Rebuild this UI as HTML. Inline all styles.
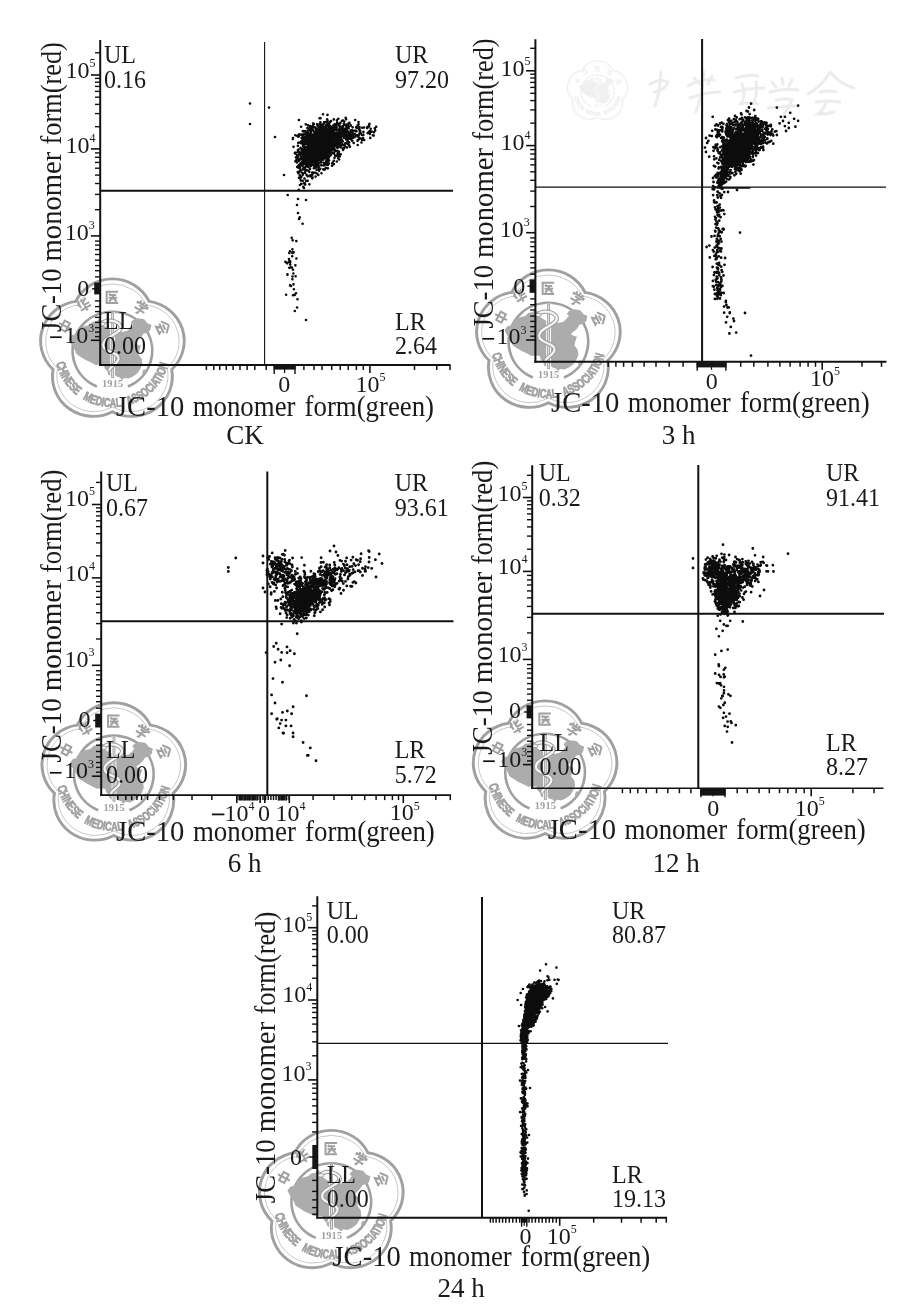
<!DOCTYPE html>
<html><head><meta charset="utf-8"><title>JC-10 flow cytometry</title>
<style>html,body{margin:0;padding:0;background:#fff}svg{display:block}text{font-family:"Liberation Serif",serif;fill:#1a1a1a}</style></head><body>
<svg width="908" height="1310" viewBox="0 0 908 1310" style="will-change:transform">
<rect width="908" height="1310" fill="#fff"/>
<defs><g id="seal" fill="none" stroke="#a0a0a0" stroke-linecap="butt">
<path d="M35.56 -48.95 A39.54 39.54 0 0 0 -35.56 -48.95 A39.54 39.54 0 0 0 -57.54 18.70 A39.54 39.54 0 0 0 -0.00 60.50 A39.54 39.54 0 0 0 57.54 18.70 A39.54 39.54 0 0 0 35.56 -48.95Z" stroke-width="2.85"/>
<path d="M32.92 -45.30 A36.37 36.37 0 0 0 -32.92 -45.30 A36.37 36.37 0 0 0 -53.26 17.30 A36.37 36.37 0 0 0 -0.00 56.00 A36.37 36.37 0 0 0 53.26 17.30 A36.37 36.37 0 0 0 32.92 -45.30Z" stroke-width="0.9" stroke="#c2c2c2"/>
<path d="M-15.08 35.53 A38.6 38.6 0 1 1 15.08 35.53" stroke-width="2.6"/>
<path d="M-42.6 -11.5 L-39.6 -15.3 L-35.6 -16.4 L-33.3 -21.1 L-28.0 -24.1 L-22.7 -25.6 L-19.2 -28.7 L-15.3 -29.1 L-12.9 -31.9 L-9.7 -29.1 L-8.3 -24.7 L-3.9 -21.7 L1.4 -19.4 L9.3 -18.5 L14.6 -19.9 L17.8 -22.9 L19.9 -25.9 L17.8 -27.7 L19.9 -30.5 L25.2 -32.2 L30.8 -31.2 L34.0 -27.3 L37.9 -25.6 L36.7 -20.3 L33.1 -17.6 L30.1 -16.7 L27.8 -12.9 L24.8 -10.0 L21.7 -7.9 L24.3 -5.8 L27.7 -4.8 L26.3 -0.9 L25.2 3.5 L28.4 7.9 L29.1 13.2 L27.0 18.1 L24.3 22.4 L19.9 25.6 L15.5 27.7 L11.5 27.0 L9.3 29.1 L7.2 26.6 L4.1 25.6 L0.9 22.9 L-1.2 25.2 L-3.9 23.8 L-4.8 20.3 L-7.4 17.6 L-8.3 14.1 L-12.2 13.6 L-16.2 14.1 L-20.6 11.8 L-25.9 9.3 L-30.8 6.2 L-34.7 3.5 L-36.5 -0.9 L-38.6 -4.4 L-40.4 -7.0Z" fill="#acacac" stroke="none"/>
<ellipse cx="30.5" cy="21" rx="1.3" ry="2.6" fill="#acacac" stroke="none" transform="rotate(20 30.5 21)"/>
<path d="M0.2 -38 V27" stroke="#fff" stroke-width="4.6"/>
<path d="M0.2 -38 V27" stroke="#a0a0a0" stroke-width="2.8"/>
<path d="M0.2 -37 V26" stroke="#e4e4e4" stroke-width="1.0"/>
<path d="M-10 -27 C-6 -32 6 -30 8 -24 C10 -17 -9 -14 -9 -6 C-9 2 7 1 6 8 C5 14 -3 15 -3 20" stroke="#9a9a9a" stroke-width="4.2"/>
<path d="M-10 -27 C-6 -32 6 -30 8 -24 C10 -17 -9 -14 -9 -6 C-9 2 7 1 6 8 C5 14 -3 15 -3 20" stroke="#f4f4f4" stroke-width="2.2"/>
<ellipse cx="-10" cy="-26.5" rx="3" ry="1.8" fill="#f0f0f0" stroke="#9a9a9a" stroke-width="0.9"/>
<path d="M-5 -3 H5 V3 H-5 Z M0 -7 V7" stroke-width="2.1" transform="translate(-45.9 -24.4) rotate(-62) scale(0.93)"/>
<path d="M-3 -7 L-6 -2 M-4.5 -4 V1 M0 -7 V-1 Q0 0 2 0 H6 M5 -6 L0 -3 M-6 3.5 H6 M0 1 V7" stroke-width="2.1" transform="translate(-27.3 -45.4) rotate(-31) scale(0.93)"/>
<path d="M6 -6 H-6 V6 H6 M-2 -4 L-3.5 -2 M-3 -2.5 H4 M-4 0.5 H5 M0.5 -2.5 V0.5 L-3.5 4.5 M1 1 L4.5 4.5" stroke-width="2.1" transform="translate(0.0 -53.0) rotate(0) scale(0.93)"/>
<path d="M-4 -7 L-3 -5 M0 -7.5 L0 -5 M4 -7 L3 -5 M-6 -2 V-4 H6 V-2 M-3 -1.5 H3 L0 1 M-6 2.5 H6 M0 1 V6 Q0 7 -2 6.5" stroke-width="2.1" transform="translate(27.5 -42.4) rotate(33) scale(0.93)"/>
<path d="M0 -7 L-7 -1 M0 -7 L7 -1 M-3 -1.5 H3 M-5.5 1.5 H5.5 M-1 1.5 L-4 6 H4.5 M2.5 3.5 L5 7" stroke-width="2.1" transform="translate(48.9 -22.8) rotate(65) scale(0.93)"/>
<path id="sealarc" d="M-54.67 12.12 A56.0 56.0 0 0 0 54.67 12.12" stroke="none"/>
<text style="font-family:Liberation Sans,sans-serif;font-weight:bold;font-size:12.5px;word-spacing:6px;fill:#a0a0a0;stroke:#a0a0a0;stroke-width:0.7px" textLength="150.5" lengthAdjust="spacingAndGlyphs"><textPath href="#sealarc" textLength="150.5" lengthAdjust="spacingAndGlyphs">CHINESE MEDICAL ASSOCIATION</textPath></text>
<text x="0.3" y="36.2" text-anchor="middle" style="font-family:Liberation Serif,serif;font-weight:bold;font-size:10px;fill:#a0a0a0" stroke="none" letter-spacing="0.2">1915</text>
</g></defs>
<g opacity="0.17"><use href="#seal" transform="translate(597.5 91.5) scale(0.43)"/></g>
<g fill="none" stroke="#ececec" stroke-width="3" stroke-linecap="round">
<path d="M650 84 q10 -6 18 -2 q-2 8 -14 10 M661 72 q-1 20 -6 34"/>
<path d="M688 86 q14 -8 26 -6 M690 98 q16 -6 30 -6 M704 72 q-2 24 -8 40 M694 78 l6 6 M712 76 l-4 8"/>
<path d="M736 78 q12 -4 22 -2 M734 92 q14 -4 30 -4 M742 84 q4 10 0 18 M756 82 q2 10 -2 20 M740 104 q10 -2 18 0"/>
<path d="M772 82 l4 5 M782 78 l1 6 M792 80 l-3 6 M770 92 q14 -4 28 -2 M776 100 q10 -2 16 0 q-4 8 -8 14 M768 108 q16 -2 30 -2"/>
<path d="M830 72 q-8 14 -22 22 M830 72 q10 12 24 16 M820 92 q8 -2 16 0 M816 102 q10 -2 24 0 M826 102 q-2 8 -8 12 q10 0 16 -2"/>
</g>
<use href="#seal" transform="translate(112.4 350.7) scale(1.031 1.008)"/>
<use href="#seal" transform="translate(548.4 341.7) scale(1.031 1.008)"/>
<use href="#seal" transform="translate(113.8 774.5) scale(1.031 1.008)"/>
<use href="#seal" transform="translate(545.1 772.6) scale(1.031 1.008)"/>
<use href="#seal" transform="translate(331.3 1202.1) scale(1.031 1.008)"/>
<g>
<path d="M320.5 149.8h0M315.0 139.8h0M316.0 137.3h0M327.0 156.8h0M318.9 139.1h0M316.4 155.2h0M311.2 143.4h0M323.5 151.9h0M327.9 131.3h0M327.5 120.5h0M334.0 127.5h0M332.1 136.5h0M315.8 148.5h0M338.3 118.7h0M319.7 148.2h0M329.5 129.3h0M322.1 133.0h0M303.2 154.1h0M324.8 153.0h0M323.2 141.3h0M317.9 149.5h0M330.4 135.8h0M295.4 152.7h0M311.3 157.6h0M338.0 153.5h0M303.3 148.6h0M321.7 152.3h0M324.9 150.2h0M323.6 151.4h0M300.5 158.8h0M313.5 147.3h0M309.3 142.1h0M322.6 140.8h0M317.9 164.3h0M325.4 129.5h0M299.0 142.6h0M322.2 142.6h0M311.5 165.2h0M319.1 142.4h0M331.1 154.7h0M320.4 141.7h0M314.4 150.9h0M312.8 139.2h0M315.6 145.2h0M312.1 164.0h0M323.2 151.8h0M328.8 150.9h0M322.5 151.5h0M332.9 136.7h0M320.5 118.2h0M315.3 139.4h0M332.1 163.3h0M322.0 135.6h0M319.9 153.1h0M318.7 144.9h0M315.5 158.4h0M327.6 136.8h0M311.0 142.0h0M310.3 145.5h0M310.8 159.2h0M313.7 145.3h0M306.1 134.6h0M331.5 138.5h0M344.0 131.1h0M339.9 134.5h0M331.6 144.0h0M306.9 140.0h0M316.6 169.7h0M317.3 145.7h0M313.4 140.4h0M304.6 156.1h0M313.6 142.6h0M315.7 133.8h0M305.8 160.1h0M309.6 158.1h0M322.8 138.8h0M323.8 142.3h0M320.0 142.3h0M325.9 128.8h0M298.6 161.0h0M330.6 139.1h0M295.6 153.7h0M316.2 142.0h0M339.9 134.2h0M319.2 148.2h0M328.6 143.0h0M322.6 141.6h0M320.6 129.1h0M302.6 158.7h0M315.6 150.8h0M319.2 140.3h0M310.6 152.7h0M320.1 146.6h0M312.2 164.3h0M311.1 148.5h0M337.8 139.5h0M308.6 157.1h0M318.7 158.4h0M317.0 162.2h0M333.0 152.5h0M335.9 140.3h0M319.8 158.4h0M311.0 176.5h0M317.7 125.9h0M304.0 150.3h0M324.3 153.0h0M319.5 118.2h0M316.4 151.0h0M321.0 145.7h0M316.3 129.9h0M313.5 140.4h0M337.2 134.1h0M321.8 149.8h0M323.3 133.8h0M321.8 132.3h0M311.4 145.3h0M317.5 153.7h0M309.6 156.6h0M308.8 139.0h0M327.8 147.8h0M319.8 147.6h0M329.0 152.0h0M303.8 134.4h0M311.6 128.9h0M306.4 162.1h0M323.1 130.2h0M309.0 160.7h0M317.7 148.2h0M323.6 153.3h0M314.8 155.0h0M331.7 140.3h0M332.3 147.6h0M329.4 134.0h0M309.6 139.9h0M312.3 174.7h0M328.0 147.9h0M297.3 136.0h0M315.8 150.2h0M310.4 142.3h0M319.8 144.1h0M309.7 162.3h0M328.9 157.2h0M321.0 139.9h0M346.0 138.7h0M315.7 163.6h0M313.0 155.6h0M314.8 148.7h0M320.8 146.2h0M308.2 167.0h0M315.1 143.9h0M335.2 151.2h0M314.2 153.7h0M314.2 137.7h0M325.0 152.6h0M320.6 142.6h0M321.3 146.4h0M331.7 130.1h0M332.4 144.5h0M329.6 143.5h0M302.2 161.9h0M325.4 142.9h0M311.8 141.9h0M327.8 165.0h0M319.5 144.1h0M330.4 139.1h0M322.6 128.4h0M300.5 155.7h0M318.7 168.5h0M319.8 154.0h0M299.0 167.0h0M314.9 133.6h0M328.1 157.4h0M303.2 152.2h0M323.1 136.1h0M314.4 149.8h0M318.5 152.0h0M321.0 144.7h0M316.0 149.6h0M326.5 164.6h0M313.4 154.5h0M336.8 132.9h0M327.1 119.3h0M315.3 161.1h0M308.3 136.1h0M317.4 140.0h0M327.8 168.3h0M311.2 145.5h0M329.0 135.5h0M312.4 139.2h0M309.6 142.2h0M315.3 166.0h0M305.2 156.3h0M312.8 152.5h0M319.8 141.9h0M320.8 125.8h0M309.8 155.1h0M323.3 156.3h0M329.3 125.3h0M319.5 152.2h0M329.0 150.4h0M308.3 142.8h0M332.6 143.3h0M301.3 141.3h0M310.0 165.6h0M303.4 159.6h0M313.6 138.1h0M299.4 160.5h0M305.7 139.5h0M328.7 150.0h0M337.4 141.6h0M308.3 145.1h0M320.1 140.0h0M315.3 144.2h0M324.1 137.6h0M319.3 129.5h0M324.9 152.9h0M332.8 132.2h0M317.9 135.3h0M307.1 153.7h0M299.3 158.8h0M313.4 150.6h0M329.5 143.8h0M324.0 150.1h0M311.6 140.9h0M319.8 147.3h0M303.5 152.4h0M307.2 137.1h0M305.1 148.2h0M334.9 128.9h0M297.9 150.2h0M323.6 132.2h0M331.6 138.6h0M321.1 135.3h0M308.0 149.4h0M307.9 146.6h0M317.4 124.3h0M299.0 165.3h0M316.0 150.3h0M317.3 150.0h0M326.2 125.7h0M336.0 138.7h0M304.4 150.6h0M329.0 131.5h0M306.3 146.9h0M301.5 152.2h0M311.0 135.9h0M337.0 146.3h0M308.2 154.0h0M313.8 127.5h0M322.0 143.7h0M318.6 146.6h0M328.5 136.0h0M327.6 155.4h0M300.2 166.5h0M325.2 139.7h0M319.1 137.2h0M312.0 141.1h0M312.2 153.6h0M314.9 149.5h0M318.9 134.7h0M317.0 142.2h0M316.3 150.4h0M331.6 134.3h0M326.8 130.4h0M307.2 132.3h0M318.7 149.9h0M317.1 143.8h0M315.4 138.2h0M317.3 141.9h0M309.5 141.6h0M317.3 151.3h0M316.8 143.9h0M302.1 143.6h0M315.9 154.2h0M318.5 153.3h0M322.8 139.7h0M315.5 157.2h0M306.3 140.9h0M321.4 160.7h0M310.7 159.9h0M339.4 137.6h0M302.8 131.1h0M304.9 142.8h0M326.3 130.7h0M304.2 158.9h0M327.8 161.4h0M303.0 163.9h0M312.2 137.8h0M327.8 143.4h0M315.6 152.8h0M304.0 153.6h0M324.0 151.9h0M320.3 160.6h0M312.7 150.2h0M308.4 145.7h0M337.7 134.6h0M321.1 149.3h0M331.8 128.2h0M318.2 136.5h0M337.2 122.6h0M312.7 159.6h0M324.0 141.7h0M292.8 139.1h0M323.3 150.0h0M323.6 165.4h0M310.1 161.6h0M321.0 155.9h0M323.2 142.2h0M323.3 169.3h0M319.7 146.1h0M325.7 158.2h0M328.7 156.6h0M326.2 136.9h0M325.7 150.7h0M298.6 149.6h0M329.3 140.6h0M314.3 131.9h0M312.2 161.7h0M310.7 150.2h0M307.3 157.2h0M302.1 153.8h0M327.8 140.4h0M329.6 144.8h0M309.8 145.1h0M315.4 146.6h0M305.7 153.6h0M330.8 150.8h0M319.4 150.0h0M303.4 163.1h0M328.4 138.6h0M308.7 147.6h0M324.1 122.2h0M307.2 150.3h0M321.3 147.8h0M310.5 152.4h0M307.8 147.8h0M314.9 138.0h0M307.8 159.5h0M323.0 138.2h0M325.3 150.0h0M326.3 125.2h0M339.1 159.5h0M308.9 157.2h0M325.8 167.9h0M318.2 143.4h0M310.6 163.5h0M308.8 151.9h0M312.2 178.3h0M317.9 158.0h0M341.7 130.9h0M323.2 148.6h0M309.8 153.0h0M336.7 132.7h0M323.2 138.3h0M321.8 139.7h0M348.2 131.5h0M323.7 157.4h0M300.2 168.6h0M329.2 123.9h0M326.3 132.5h0M304.2 136.7h0M305.1 142.4h0M315.0 150.4h0M320.9 144.3h0M319.4 138.7h0M334.0 130.4h0M311.0 166.0h0M334.5 149.8h0M318.6 147.0h0M321.8 145.5h0M322.0 143.0h0M326.1 134.5h0M324.3 148.8h0M304.4 148.6h0M326.6 151.4h0M316.8 151.5h0M299.5 160.0h0M314.2 145.7h0M321.2 137.8h0M316.4 158.6h0M294.9 152.9h0M309.5 154.0h0M328.3 144.4h0M313.0 125.9h0M311.8 135.1h0M327.0 143.5h0M326.3 160.9h0M310.0 136.6h0M319.3 134.6h0M332.8 138.0h0M311.1 129.3h0M311.3 154.5h0M315.9 152.3h0M312.9 154.8h0M309.9 163.4h0M317.6 154.5h0M330.9 131.9h0M322.3 146.6h0M342.2 143.9h0M309.3 141.7h0M332.5 128.6h0M314.5 142.7h0M313.3 145.1h0M308.5 149.3h0M325.5 153.6h0M317.1 138.1h0M303.4 149.1h0M322.8 142.8h0M321.1 132.1h0M308.7 130.3h0M329.2 130.5h0M315.9 148.4h0M331.9 126.8h0M314.8 159.6h0M313.2 141.8h0M308.7 151.0h0M324.0 131.0h0M306.5 164.3h0M304.5 157.1h0M305.7 154.1h0M336.8 161.5h0M308.0 152.9h0M321.5 149.1h0M303.9 157.6h0M332.8 128.3h0M319.1 148.8h0M308.4 163.5h0M303.5 149.7h0M324.6 169.7h0M313.0 157.5h0M329.1 160.5h0M326.4 137.7h0M319.2 157.3h0M324.6 145.3h0M321.9 145.9h0M312.0 139.7h0M324.6 153.1h0M325.9 136.5h0M305.1 148.4h0M309.6 143.4h0M298.2 167.6h0M312.4 156.4h0M328.0 158.5h0M337.9 140.8h0M328.5 156.1h0M312.2 145.8h0M320.9 155.3h0M321.5 151.3h0M308.9 129.6h0M314.9 161.6h0M317.6 149.9h0M305.8 155.9h0M323.8 139.5h0M298.1 151.9h0M303.1 156.4h0M337.3 144.3h0M310.6 139.1h0M328.1 149.9h0M304.5 157.7h0M319.5 156.5h0M326.9 143.5h0M315.2 144.4h0M323.5 143.3h0M314.4 144.9h0M330.0 150.4h0M322.5 155.6h0M311.3 164.0h0M308.8 154.4h0M312.7 177.5h0M330.1 121.9h0M317.7 159.7h0M311.2 155.2h0M318.7 156.7h0M326.2 153.4h0M343.8 128.5h0M334.6 143.1h0M314.6 140.2h0M308.9 146.3h0M316.4 129.0h0M322.1 150.7h0M308.0 157.7h0M308.9 159.0h0M323.2 150.5h0M306.3 156.9h0M319.7 144.5h0M311.6 143.4h0M306.2 156.2h0M308.6 147.8h0M317.8 154.1h0M336.1 155.9h0M327.1 162.6h0M305.1 153.9h0M325.0 146.7h0M318.3 148.9h0M308.9 134.0h0M305.6 132.2h0M310.1 147.4h0M323.7 139.3h0M306.3 142.1h0M327.6 123.4h0M331.0 121.0h0M296.6 158.0h0M303.2 146.4h0M313.6 149.2h0M322.9 150.8h0M303.5 167.4h0M310.8 143.4h0M311.4 152.5h0M310.5 156.3h0M327.2 150.3h0M316.4 139.6h0M311.6 136.9h0M333.9 164.1h0M300.4 153.1h0M323.9 136.5h0M303.6 153.4h0M330.9 146.2h0M307.9 154.7h0M318.4 127.0h0M309.9 127.2h0M307.3 151.9h0M326.6 164.3h0M299.8 153.1h0M318.2 164.0h0M319.0 134.5h0M308.7 137.1h0M327.0 134.9h0M321.7 146.7h0M314.5 149.5h0M293.5 146.8h0M313.7 143.7h0M318.8 150.7h0M322.7 134.7h0M313.5 158.3h0M338.6 153.4h0M312.7 157.5h0M316.8 142.6h0M316.8 142.5h0M308.9 153.3h0M314.5 136.1h0M312.9 142.1h0M327.2 152.5h0M318.5 154.9h0M315.6 152.0h0M317.6 144.8h0M304.1 149.3h0M306.3 162.1h0M322.2 137.3h0M325.9 142.0h0M332.9 147.5h0M310.4 126.1h0M311.7 128.2h0M326.0 154.0h0M303.4 146.6h0M337.6 150.9h0M315.6 151.3h0M307.4 162.3h0M319.4 155.4h0M317.0 135.2h0M311.6 142.8h0M319.7 147.9h0M318.5 145.7h0M321.5 158.9h0M317.5 137.9h0M327.5 125.4h0M313.8 153.8h0M325.4 135.2h0M321.6 151.4h0M322.3 140.3h0M327.6 122.2h0M323.1 145.8h0M316.5 139.2h0M319.0 147.3h0M306.6 135.7h0M314.1 141.3h0M325.1 143.7h0M318.6 160.1h0M329.4 148.5h0M315.3 167.1h0M304.6 161.5h0M325.7 151.2h0M332.6 135.1h0M320.9 140.3h0M328.7 124.6h0M324.7 153.2h0M308.7 157.8h0M314.6 141.0h0M313.1 150.7h0M324.7 164.9h0M308.7 138.6h0M316.7 130.2h0M338.5 143.5h0M306.1 141.1h0M320.9 162.4h0M317.3 140.2h0M323.6 146.2h0M320.5 161.8h0M315.2 167.7h0M310.3 166.1h0M331.9 131.4h0M313.0 148.9h0M307.6 155.2h0M336.9 147.2h0M313.8 156.2h0M317.1 164.0h0M298.7 136.6h0M321.7 138.2h0M329.0 139.0h0M304.1 157.4h0M342.8 148.6h0M314.4 135.8h0M319.2 153.0h0M330.4 145.5h0M316.8 137.3h0M322.0 154.5h0M326.6 143.5h0M334.4 149.1h0M318.1 146.7h0M317.8 160.9h0M308.9 163.1h0M320.5 138.5h0M317.7 156.8h0M308.3 165.0h0M318.9 168.2h0M306.9 140.7h0M319.8 127.1h0M298.0 159.3h0M311.0 164.3h0M309.3 171.8h0M318.1 145.7h0M318.9 149.9h0M323.2 142.3h0M310.0 145.2h0M322.4 155.0h0M324.3 152.1h0M340.8 138.3h0M328.3 145.5h0M299.3 134.2h0M327.0 141.5h0M306.0 165.8h0M306.6 142.1h0M317.4 173.8h0M316.7 147.0h0M339.5 136.6h0M310.4 164.4h0M336.7 145.9h0M328.6 133.9h0M321.9 156.3h0M317.2 154.7h0M316.9 132.3h0M313.1 144.3h0M322.1 126.8h0M310.5 131.7h0M320.0 124.1h0M319.6 152.4h0M331.0 146.5h0M318.3 143.8h0M300.3 163.6h0M320.4 128.0h0M317.4 153.3h0M324.6 127.8h0M317.4 157.0h0M328.7 145.1h0M301.1 143.1h0M324.2 147.3h0M309.4 129.1h0M326.2 149.6h0M317.9 165.4h0M310.4 159.1h0M333.5 139.8h0M308.1 125.3h0M295.4 161.3h0M315.6 172.8h0M303.9 164.0h0M328.5 134.5h0M327.5 114.9h0M310.9 142.9h0M319.3 145.6h0M309.3 175.9h0M327.1 154.9h0M323.5 137.9h0M301.6 149.9h0M312.2 137.1h0M328.4 159.1h0M327.0 141.6h0M319.1 131.7h0M339.8 144.1h0M299.8 175.4h0M329.9 144.9h0M327.0 149.4h0M317.7 152.7h0M308.9 150.8h0M310.6 133.4h0M313.0 134.8h0M313.4 140.7h0M320.6 151.8h0M326.2 128.4h0M332.3 142.8h0M308.4 170.8h0M331.7 153.3h0M342.7 141.4h0M305.8 124.3h0M329.2 138.4h0M321.2 146.4h0M327.7 128.5h0M315.7 154.2h0M307.9 160.9h0M303.1 139.0h0M339.1 143.1h0M330.9 141.5h0M312.0 141.0h0M318.3 141.3h0M328.1 147.5h0M308.5 151.2h0M328.8 140.3h0M326.4 153.2h0M317.7 146.6h0M320.3 133.6h0M325.2 135.2h0M327.5 148.1h0M320.9 142.7h0M341.0 145.4h0M325.9 164.1h0M321.2 165.3h0M325.7 149.8h0M319.0 170.5h0M319.8 157.0h0M302.1 157.2h0M308.6 146.9h0M320.7 137.0h0M320.9 147.4h0M304.4 144.0h0M307.6 176.2h0M309.1 153.5h0M323.1 150.5h0M302.9 141.9h0M343.0 134.6h0M314.2 151.2h0M297.2 155.2h0M327.1 158.9h0M317.5 143.3h0M314.3 146.4h0M297.4 158.8h0M301.5 149.5h0M311.4 154.5h0M343.2 120.5h0M325.6 133.9h0M296.0 157.4h0M338.6 145.7h0M328.1 158.9h0M309.3 145.9h0M327.7 155.0h0M309.5 158.0h0M317.3 147.8h0M337.5 153.9h0M310.6 141.0h0M328.1 147.5h0M311.4 154.0h0M325.1 141.0h0M325.5 122.1h0M307.5 153.5h0M323.4 159.6h0M312.4 155.0h0M302.8 174.8h0M327.0 148.8h0M308.7 147.0h0M316.7 147.7h0M336.1 126.0h0M318.2 142.2h0M331.8 128.3h0M319.6 148.2h0M333.8 139.9h0M328.6 133.7h0M301.2 157.6h0M330.8 149.3h0M320.1 142.1h0M323.7 156.9h0M333.8 119.4h0M320.6 130.5h0M320.8 133.7h0M309.5 145.7h0M320.1 151.8h0M326.4 141.1h0M305.1 167.4h0M324.1 140.8h0M329.1 140.0h0M304.6 152.0h0M328.2 152.7h0M324.5 143.9h0M322.6 132.1h0M338.1 155.8h0M318.7 140.5h0M322.6 141.2h0M313.7 155.9h0M300.8 170.6h0M306.9 164.7h0M303.1 145.5h0M319.2 146.3h0M306.2 132.4h0M307.7 154.8h0M320.9 141.9h0M323.4 148.1h0M324.0 129.2h0M316.8 151.9h0M318.1 140.6h0M325.9 139.0h0M300.4 153.8h0M310.0 168.9h0M328.0 148.1h0M320.4 122.3h0M327.7 132.2h0M318.0 141.5h0M303.1 136.1h0M304.3 144.5h0M321.9 138.7h0M320.0 127.7h0M327.8 137.5h0M316.8 157.5h0M322.4 132.9h0M330.1 141.2h0M345.8 134.4h0M317.7 138.2h0M322.3 157.8h0M322.4 157.9h0M325.6 156.9h0M306.2 160.3h0M306.2 163.9h0M311.5 143.3h0M326.4 149.7h0M335.1 138.4h0M317.1 153.3h0M338.3 124.5h0M307.3 150.1h0M301.6 134.5h0M307.8 150.9h0M297.9 145.8h0M310.5 153.7h0M304.7 150.7h0M339.4 155.2h0M321.5 135.1h0M314.2 138.9h0M319.1 170.8h0M313.4 130.2h0M315.1 166.9h0M318.7 163.5h0M325.4 138.0h0M321.8 125.1h0M304.8 154.1h0M297.8 172.0h0M329.9 146.2h0M305.0 169.6h0M332.3 137.7h0M302.4 159.2h0M332.6 146.2h0M309.7 142.7h0M316.9 139.5h0M316.5 151.7h0M312.6 164.2h0M335.8 134.3h0M313.2 160.1h0M305.2 155.3h0M333.6 143.8h0M313.8 123.9h0M304.1 154.2h0M311.9 136.3h0M323.0 127.3h0M324.4 146.5h0M345.0 128.8h0M322.3 129.3h0M311.7 154.6h0M345.3 143.3h0M328.2 140.6h0M326.2 158.6h0M329.6 149.4h0M333.0 147.1h0M323.2 137.9h0M303.0 169.5h0M332.6 162.8h0M309.6 146.8h0M303.7 148.4h0M316.2 167.0h0M319.6 138.3h0M317.0 149.9h0M331.4 141.3h0M334.6 124.2h0M320.4 142.2h0M307.3 143.7h0M311.8 153.0h0M315.3 133.0h0M331.9 137.9h0M327.9 138.4h0M315.6 165.3h0M302.0 162.3h0M335.5 143.0h0M323.2 158.0h0M326.5 155.4h0M315.5 161.1h0M316.5 155.6h0M317.9 151.8h0M305.8 155.1h0M301.6 165.3h0M308.7 157.6h0M334.5 157.8h0M312.7 137.0h0M323.0 138.7h0M299.8 171.6h0M303.0 151.6h0M319.8 155.7h0M297.0 162.4h0M314.9 156.1h0M327.9 137.3h0M305.2 131.1h0M316.6 157.5h0M313.5 135.3h0M306.5 164.9h0M318.6 167.1h0M328.8 147.5h0M320.3 145.1h0M319.3 147.1h0M309.0 160.3h0M318.1 144.7h0M309.3 146.1h0M322.8 142.5h0M323.0 141.4h0M337.7 153.9h0M309.2 164.5h0M333.8 160.8h0M314.9 150.8h0M317.7 153.0h0M305.2 162.5h0M305.3 149.1h0M299.4 164.8h0M325.3 153.0h0M299.3 154.2h0M312.3 135.9h0M316.5 148.8h0M317.1 140.2h0M317.0 139.5h0M323.8 162.7h0M335.7 127.3h0M325.7 146.7h0M326.4 137.3h0M332.9 141.5h0M316.5 148.0h0M313.4 150.3h0M337.0 135.5h0M314.8 150.0h0M317.6 165.6h0M323.4 132.0h0M313.7 172.6h0M317.4 133.2h0M321.1 138.4h0M333.4 131.8h0M322.2 127.4h0M305.4 153.3h0M323.4 151.1h0M308.7 154.4h0M312.5 143.4h0M306.6 170.0h0M328.8 136.6h0M315.1 158.3h0M310.8 175.3h0M322.9 141.9h0M332.1 136.3h0M303.4 136.3h0M325.5 141.7h0M324.3 129.7h0M324.2 146.3h0M314.0 140.9h0M307.5 152.9h0M313.8 134.4h0M330.2 143.8h0M333.1 130.8h0M309.3 153.1h0M308.7 143.7h0M313.8 168.2h0M304.4 139.8h0M334.8 143.1h0M304.6 167.5h0M302.8 157.2h0M320.3 146.0h0M304.2 143.1h0M318.7 165.8h0M320.0 127.9h0M310.8 147.7h0M346.0 128.4h0M313.8 146.7h0M299.8 170.7h0M326.2 140.8h0M323.0 132.6h0M311.2 148.6h0M334.0 153.5h0M315.9 161.8h0M316.9 156.4h0M304.8 163.0h0M311.6 137.0h0M325.2 147.6h0M300.5 159.0h0M316.0 145.9h0M317.3 133.1h0M306.2 138.1h0M317.6 149.3h0M317.8 135.1h0M344.0 145.0h0M341.5 143.6h0M310.5 152.0h0M336.3 142.4h0M296.1 160.2h0M328.4 151.3h0M328.9 163.6h0M327.5 145.4h0M344.3 147.8h0M310.4 127.0h0M318.7 145.9h0M298.4 165.8h0M322.6 151.5h0M303.3 164.0h0M312.3 161.9h0M321.8 145.4h0M312.0 142.7h0M297.8 152.1h0M314.1 165.9h0M314.2 142.4h0M323.8 148.5h0M313.5 157.4h0M305.5 154.9h0M305.7 140.9h0M312.4 156.8h0M330.2 150.8h0M293.0 138.0h0M308.3 139.6h0M323.8 143.1h0M323.2 147.5h0M321.2 162.5h0M338.3 147.3h0M329.0 140.0h0M312.5 164.3h0M322.5 134.0h0M322.5 142.9h0M299.1 152.0h0M318.3 156.5h0M316.5 156.6h0M307.7 166.7h0M314.3 160.3h0M304.8 159.7h0M314.6 139.2h0M333.3 126.3h0M328.2 143.9h0M341.9 141.5h0M314.3 149.3h0M319.8 135.9h0M325.3 133.0h0M317.2 147.0h0M329.9 131.7h0M327.9 139.7h0M305.4 171.1h0M310.4 134.9h0M320.3 123.1h0M306.6 150.9h0M313.7 144.9h0M327.1 157.5h0M322.6 138.8h0M331.9 145.0h0M320.4 130.5h0M321.9 125.1h0M334.2 143.5h0M308.7 143.9h0M319.5 143.7h0M338.0 152.6h0M338.8 130.6h0M311.5 147.9h0M323.0 154.9h0M319.9 152.1h0M298.3 142.8h0M316.2 164.3h0M330.8 132.7h0M322.1 136.0h0M304.1 153.1h0M306.8 135.1h0M320.6 146.9h0M320.2 136.3h0M322.8 132.2h0M321.5 173.2h0M310.6 147.1h0M329.7 150.0h0M336.8 147.4h0M305.8 163.1h0M317.6 159.2h0M296.9 157.7h0M305.0 157.9h0M326.3 140.7h0M313.8 139.8h0M327.0 125.7h0M318.3 175.0h0M320.5 161.9h0M322.8 142.2h0M308.6 144.4h0M328.4 138.3h0M314.3 138.2h0M313.1 150.4h0M309.0 158.5h0M322.2 145.7h0M315.6 142.2h0M327.3 148.4h0M321.2 162.5h0M331.6 128.1h0M323.5 144.8h0M319.2 140.2h0M312.4 157.2h0M338.4 144.0h0M305.3 154.8h0M305.8 152.1h0M306.6 158.3h0M323.4 137.4h0M326.9 141.2h0M317.1 150.0h0M298.9 120.0h0M304.8 137.4h0M323.9 157.4h0M313.3 148.5h0M319.3 145.3h0M319.7 138.8h0M335.1 145.7h0M325.1 153.7h0M321.3 145.9h0M323.2 149.0h0M312.4 158.0h0M319.5 136.3h0M301.2 163.5h0M331.1 153.9h0M312.0 162.5h0M338.1 158.2h0M318.5 155.4h0M310.5 137.6h0M333.7 136.7h0M313.2 150.6h0M319.7 127.1h0M311.7 135.8h0M317.9 164.3h0M318.1 136.6h0M326.7 152.1h0M316.8 157.9h0M321.0 154.2h0M297.8 156.5h0M313.4 134.8h0M312.2 172.6h0M303.4 148.5h0M315.3 148.4h0M316.5 147.7h0M311.0 151.0h0M312.2 158.3h0M320.5 144.3h0M328.1 148.4h0M323.0 147.0h0M312.1 134.9h0M302.9 150.9h0M315.0 157.6h0M327.5 125.1h0M317.7 137.7h0M334.5 140.3h0M323.3 147.9h0M324.6 145.4h0M325.3 140.1h0M313.4 154.3h0M315.4 136.7h0M319.3 151.8h0M315.7 140.7h0M323.6 146.9h0M297.6 136.3h0M312.6 145.0h0M303.9 160.8h0M324.3 138.6h0M313.2 146.3h0M309.8 139.2h0M325.8 150.4h0M305.0 172.7h0M324.0 158.0h0M320.3 168.7h0M307.6 158.5h0M317.3 151.8h0M317.0 152.3h0M311.6 127.1h0M311.1 128.7h0M317.9 148.7h0M338.7 134.8h0M311.1 157.6h0M315.6 176.6h0M336.7 141.8h0M317.2 155.1h0M304.9 153.3h0M318.4 136.8h0M324.9 139.6h0M324.9 126.6h0M312.6 153.5h0M302.2 140.5h0M322.0 136.5h0M314.2 144.8h0M309.4 157.3h0M318.4 148.3h0M308.7 152.5h0M311.2 162.4h0M317.3 149.8h0M320.5 159.6h0M312.2 160.1h0M311.1 157.8h0M306.7 160.8h0M346.9 134.7h0M309.6 142.0h0M314.4 140.6h0M302.3 172.8h0M336.8 135.1h0M335.2 155.5h0M313.1 123.5h0M315.5 146.6h0M307.9 130.7h0M325.8 162.6h0M344.2 135.4h0M339.7 156.4h0M313.2 151.4h0M311.8 162.6h0M328.8 146.2h0M311.2 131.8h0M297.2 166.9h0M326.5 143.8h0M323.9 123.6h0M319.6 139.7h0M325.4 155.6h0M326.2 146.1h0M305.6 147.6h0M310.0 144.6h0M311.7 161.8h0M309.3 140.0h0M312.2 144.5h0M311.1 154.6h0M332.3 145.2h0M307.8 151.9h0M305.7 158.2h0M322.2 145.6h0M322.5 137.5h0M330.3 155.6h0M302.8 161.9h0M303.2 164.4h0M320.9 157.3h0M332.1 165.7h0M308.1 143.2h0M303.6 159.0h0M301.1 126.7h0M314.7 163.3h0M317.7 162.2h0M302.5 165.2h0M304.7 153.2h0M328.9 150.8h0M305.8 143.9h0M313.9 150.6h0M329.1 142.2h0M311.6 134.3h0M340.8 147.3h0M334.1 133.7h0M317.1 158.2h0M327.7 133.4h0M322.6 154.3h0M316.6 134.3h0M316.6 165.1h0M310.9 148.1h0M315.5 152.9h0M302.3 149.1h0M316.3 148.2h0M330.3 137.8h0M315.4 145.9h0M305.2 143.5h0M321.9 150.1h0M323.1 157.5h0M319.5 126.4h0M319.4 153.2h0M302.9 173.7h0M332.1 143.9h0M316.3 130.2h0M315.7 158.8h0M303.6 168.5h0M300.2 154.4h0M341.1 142.3h0M308.2 166.4h0M317.5 151.3h0M335.3 150.2h0M315.8 157.9h0M322.1 158.3h0M318.8 157.8h0M332.8 139.0h0M325.7 152.1h0M313.8 161.7h0M336.9 134.3h0M323.9 130.7h0M311.4 151.9h0M316.2 160.4h0M322.5 134.8h0M324.8 133.8h0M324.2 132.7h0M313.7 139.8h0M322.5 125.0h0M314.7 153.1h0M332.6 142.9h0M336.4 130.3h0M343.7 134.8h0M320.8 151.8h0M331.9 131.7h0M352.1 132.4h0M316.9 142.6h0M339.9 130.2h0M325.4 140.8h0M341.0 136.6h0M311.2 139.8h0M313.0 150.3h0M340.3 142.7h0M341.0 129.5h0M343.4 128.5h0M331.4 137.6h0M331.5 143.8h0M370.8 131.9h0M355.0 134.2h0M314.6 127.4h0M336.7 136.0h0M372.9 135.2h0M338.8 132.3h0M344.3 121.5h0M355.3 130.5h0M346.4 134.3h0M358.5 136.9h0M346.4 124.5h0M353.3 130.7h0M326.2 142.1h0M345.8 135.1h0M339.0 151.8h0M351.1 137.6h0M326.4 131.1h0M337.0 137.8h0M348.7 138.8h0M324.0 147.5h0M343.5 136.8h0M298.7 134.8h0M337.4 143.3h0M338.3 141.3h0M338.1 142.1h0M318.0 138.2h0M336.6 136.2h0M346.8 134.7h0M360.2 138.2h0M313.4 153.7h0M317.1 132.6h0M313.3 135.2h0M343.3 149.5h0M359.3 139.1h0M335.0 135.7h0M355.4 136.5h0M349.2 142.4h0M317.4 129.4h0M348.1 132.1h0M358.6 124.2h0M338.2 134.7h0M367.3 127.1h0M329.6 128.6h0M357.7 145.0h0M315.6 127.9h0M363.4 134.8h0M359.9 130.6h0M348.4 138.8h0M362.1 139.9h0M340.4 122.9h0M332.6 142.7h0M343.7 132.8h0M334.2 146.3h0M338.1 140.4h0M340.3 133.0h0M355.9 135.2h0M344.8 133.3h0M324.9 142.4h0M323.2 126.9h0M329.8 133.3h0M352.6 127.3h0M320.5 145.8h0M350.7 125.4h0M339.2 132.6h0M310.0 130.1h0M370.7 128.7h0M340.0 137.0h0M329.9 153.6h0M345.1 130.9h0M370.1 132.6h0M325.2 136.6h0M320.0 139.7h0M314.8 143.0h0M357.1 128.1h0M336.6 143.3h0M306.8 141.4h0M342.6 127.1h0M323.8 141.8h0M351.0 139.3h0M328.0 123.8h0M327.6 139.2h0M346.1 131.7h0M312.4 152.6h0M307.6 132.9h0M352.3 140.8h0M359.5 127.1h0M322.6 142.6h0M335.7 133.6h0M347.5 139.4h0M353.7 143.0h0M347.2 128.0h0M317.8 138.8h0M330.1 134.6h0M364.2 140.0h0M335.3 140.1h0M336.6 127.3h0M323.0 127.8h0M346.8 128.8h0M347.5 141.2h0M351.5 138.3h0M326.0 125.4h0M359.3 129.7h0M350.4 136.5h0M373.7 135.6h0M327.2 137.0h0M363.4 131.9h0M349.8 138.6h0M342.4 141.2h0M349.2 145.4h0M329.7 126.2h0M325.9 129.2h0M337.2 129.5h0M347.7 136.0h0M341.3 132.9h0M303.5 142.5h0M357.7 140.0h0M327.7 147.5h0M308.5 134.3h0M323.5 147.6h0M340.3 137.8h0M307.4 128.1h0M349.5 136.5h0M332.4 149.8h0M369.9 131.1h0M323.7 128.8h0M343.1 149.9h0M318.4 143.9h0M333.0 134.9h0M342.4 128.2h0M335.5 134.4h0M345.1 134.4h0M327.2 140.1h0M360.2 131.4h0M331.3 133.9h0M321.5 145.2h0M357.2 135.4h0M308.4 153.5h0M342.1 142.5h0M349.5 123.2h0M330.9 139.5h0M331.3 137.3h0M333.8 133.2h0M333.1 143.6h0M342.1 141.9h0M369.0 124.9h0M317.8 153.4h0M335.6 136.0h0M362.0 134.9h0M324.9 127.3h0M331.2 141.3h0M331.1 128.9h0M328.9 126.5h0M314.9 141.4h0M361.5 142.5h0M319.6 134.6h0M301.3 135.1h0M336.2 145.7h0M341.1 135.7h0M358.7 135.3h0M357.5 125.5h0M346.0 125.6h0M311.6 130.8h0M352.4 131.4h0M341.0 141.9h0M325.7 136.2h0M346.6 135.1h0M327.0 143.6h0M346.1 119.2h0M304.9 149.4h0M336.0 139.3h0M347.5 127.0h0M345.3 133.4h0M348.7 123.3h0M346.1 139.3h0M348.4 134.7h0M374.8 128.3h0M340.5 126.5h0M369.9 133.9h0M354.4 137.2h0M347.9 139.4h0M343.8 123.8h0M341.0 133.3h0M328.3 134.6h0M347.8 141.2h0M321.2 145.1h0M323.0 142.5h0M328.1 144.8h0M333.2 137.7h0M340.7 154.3h0M339.5 134.3h0M346.1 134.7h0M334.4 128.3h0M374.0 132.3h0M367.6 133.1h0M339.1 145.0h0M312.2 143.7h0M347.9 125.6h0M353.5 133.9h0M375.2 130.4h0M341.0 140.7h0M345.8 135.8h0M351.9 130.4h0M370.2 131.6h0M314.0 141.8h0M332.5 129.8h0M314.7 134.6h0M326.6 139.2h0M357.6 140.8h0M340.0 137.4h0M332.3 137.2h0M347.0 138.3h0M346.9 135.3h0M349.4 122.9h0M350.8 130.3h0M341.3 144.8h0M368.8 131.9h0M345.7 117.8h0M371.7 131.6h0M338.5 135.4h0M341.6 129.1h0M312.4 145.6h0M347.8 143.8h0M338.2 141.2h0M334.7 129.1h0M323.7 140.1h0M356.1 127.3h0M323.3 136.1h0M340.1 141.0h0M335.8 125.0h0M330.4 144.9h0M327.4 150.6h0M334.8 142.9h0M312.7 138.6h0M312.8 154.1h0M329.1 152.0h0M324.4 132.0h0M321.1 141.8h0M333.2 138.4h0M317.7 144.2h0M352.4 137.5h0M326.7 132.8h0M346.9 131.9h0M350.7 136.8h0M325.2 153.1h0M321.1 147.1h0M322.4 149.3h0M347.3 140.0h0M334.4 136.0h0M347.1 130.9h0M342.9 126.0h0M331.1 137.4h0M338.6 138.8h0M326.9 133.8h0M339.7 123.7h0M311.6 127.0h0M333.9 148.4h0M349.9 146.7h0M309.9 148.5h0M300.6 147.7h0M353.0 137.7h0M345.8 125.0h0M349.1 134.3h0M351.3 135.1h0M343.4 132.3h0M358.5 122.0h0M352.8 136.1h0M306.0 150.1h0M309.5 145.2h0M339.5 126.1h0M336.9 120.3h0M347.0 147.4h0M335.6 145.5h0M344.4 124.8h0M347.3 131.8h0M321.8 154.5h0M351.7 131.4h0M341.7 133.2h0M360.8 133.2h0M334.0 140.2h0M359.9 131.8h0M370.3 137.9h0M356.5 131.2h0M346.4 130.6h0M355.2 120.0h0M310.5 143.4h0M337.8 152.7h0M342.0 140.1h0M340.7 145.2h0M331.4 140.1h0M344.2 137.6h0M317.1 124.4h0M341.1 132.8h0M342.0 120.8h0M326.0 132.2h0M342.7 131.9h0M367.2 128.1h0M369.5 123.9h0M344.8 135.4h0M338.4 135.5h0M303.8 145.9h0M359.4 128.2h0M350.4 133.1h0M348.6 128.2h0M311.6 141.6h0M344.9 133.5h0M345.0 146.0h0M332.8 146.1h0M324.1 154.2h0M336.7 123.7h0M328.7 133.7h0M369.0 126.4h0M323.1 148.4h0M325.8 130.7h0M295.3 135.2h0M338.9 125.4h0M317.7 143.6h0M324.5 139.7h0M340.8 137.5h0M323.4 136.2h0M340.0 138.6h0M313.3 144.3h0M338.0 132.8h0M364.1 127.5h0M337.8 134.8h0M339.0 142.2h0M332.3 139.8h0M328.4 139.8h0M340.4 139.9h0M362.2 138.9h0M340.5 144.8h0M337.4 129.6h0M321.3 141.1h0M337.3 137.5h0M323.3 145.6h0M333.3 125.7h0M346.2 136.1h0M309.3 144.7h0M342.3 145.2h0M341.0 136.0h0M334.5 125.9h0M323.5 142.6h0M342.5 127.2h0M337.4 147.6h0M348.6 126.8h0M329.9 126.0h0M376.2 126.7h0M350.5 132.5h0M348.9 137.4h0M342.1 131.5h0M347.7 139.9h0M324.0 146.2h0M323.0 114.2h0M355.7 131.3h0M333.5 125.2h0M315.4 143.1h0M349.8 136.0h0M344.0 129.9h0M329.9 134.8h0M362.2 127.7h0M339.6 128.3h0M316.3 132.3h0M310.4 148.5h0M355.2 134.8h0M318.7 138.8h0M359.4 133.9h0M303.3 131.5h0M329.6 138.4h0M340.5 133.4h0M345.7 143.4h0M327.5 131.1h0M310.8 131.7h0M327.9 140.1h0M319.1 142.9h0M321.0 139.7h0M322.9 142.2h0M301.6 138.0h0M319.3 143.7h0M335.1 133.1h0M329.4 127.1h0M363.0 138.0h0M343.8 137.8h0M338.1 140.1h0M343.1 133.2h0M300.8 180.5h0M307.7 180.8h0M301.4 184.0h0M301.4 176.8h0M309.4 184.3h0M302.9 174.5h0M300.3 178.5h0M304.8 183.2h0M299.3 172.4h0M304.0 187.9h0M301.1 183.9h0M304.5 178.5h0M299.0 177.8h0M306.0 180.8h0M306.5 174.7h0M299.9 185.0h0M302.7 180.8h0M305.2 184.6h0M298.2 173.1h0M303.3 186.9h0M304.0 183.3h0M298.7 189.9h0M295.4 265.3h0M293.0 295.2h0M297.5 299.2h0M286.1 294.7h0M296.0 293.2h0M290.1 262.6h0M285.4 261.8h0M294.7 294.9h0M296.3 241.1h0M293.0 269.7h0M302.6 223.7h0M290.2 261.4h0M289.3 253.1h0M292.7 240.3h0M291.0 286.0h0M292.4 252.3h0M289.0 261.8h0M290.2 264.6h0M293.6 252.3h0M297.1 307.5h0M296.4 258.5h0M295.6 276.2h0M291.7 237.8h0M289.0 259.1h0M286.8 262.9h0M287.2 263.3h0M292.2 256.2h0M287.5 274.8h0M294.8 311.0h0M289.3 267.8h0M292.0 267.6h0M289.4 261.2h0M290.1 285.4h0M293.9 289.2h0M292.4 253.0h0M291.1 267.3h0M292.5 276.5h0M287.4 274.2h0M292.4 249.3h0M289.9 251.3h0M293.5 284.3h0M292.4 279.2h0M299.7 217.4h0M293.4 273.5h0M250.0 103.5h0M250.0 124.0h0M269.0 107.6h0M275.0 137.0h0M284.0 175.0h0M287.7 195.0h0M306.0 200.0h0M298.0 199.0h0M297.0 205.0h0M298.0 213.0h0M299.0 219.0h0M306.0 320.0h0" fill="none" stroke="#0c0c0c" stroke-width="2.65" stroke-linecap="round"/>
<line x1="264.6" y1="42.0" x2="264.6" y2="365.0" stroke="#111" stroke-width="1.10"/>
<line x1="100.2" y1="190.8" x2="453.0" y2="190.8" stroke="#111" stroke-width="2.00"/>
<line x1="100.2" y1="40.0" x2="100.2" y2="365.9" stroke="#111" stroke-width="2.00"/>
<line x1="99.2" y1="365.0" x2="450.5" y2="365.0" stroke="#111" stroke-width="2.00"/>
<line x1="95.0" y1="52.8" x2="100.2" y2="52.8" stroke="#111" stroke-width="1.40"/>
<line x1="95.0" y1="126.7" x2="100.2" y2="126.7" stroke="#111" stroke-width="1.40"/>
<line x1="95.0" y1="209.7" x2="100.2" y2="209.7" stroke="#111" stroke-width="1.40"/>
<line x1="95.0" y1="113.6" x2="100.2" y2="113.6" stroke="#111" stroke-width="1.40"/>
<line x1="95.0" y1="194.4" x2="100.2" y2="194.4" stroke="#111" stroke-width="1.40"/>
<line x1="95.0" y1="104.4" x2="100.2" y2="104.4" stroke="#111" stroke-width="1.40"/>
<line x1="95.0" y1="183.5" x2="100.2" y2="183.5" stroke="#111" stroke-width="1.40"/>
<line x1="95.0" y1="97.2" x2="100.2" y2="97.2" stroke="#111" stroke-width="1.40"/>
<line x1="95.0" y1="175.1" x2="100.2" y2="175.1" stroke="#111" stroke-width="1.40"/>
<line x1="95.0" y1="91.4" x2="100.2" y2="91.4" stroke="#111" stroke-width="1.40"/>
<line x1="95.0" y1="168.2" x2="100.2" y2="168.2" stroke="#111" stroke-width="1.40"/>
<line x1="95.0" y1="86.4" x2="100.2" y2="86.4" stroke="#111" stroke-width="1.40"/>
<line x1="95.0" y1="162.4" x2="100.2" y2="162.4" stroke="#111" stroke-width="1.40"/>
<line x1="95.0" y1="82.2" x2="100.2" y2="82.2" stroke="#111" stroke-width="1.40"/>
<line x1="95.0" y1="157.3" x2="100.2" y2="157.3" stroke="#111" stroke-width="1.40"/>
<line x1="95.0" y1="78.4" x2="100.2" y2="78.4" stroke="#111" stroke-width="1.40"/>
<line x1="95.0" y1="152.9" x2="100.2" y2="152.9" stroke="#111" stroke-width="1.40"/>
<line x1="95.0" y1="241.1" x2="100.2" y2="241.1" stroke="#111" stroke-width="1.40"/>
<line x1="95.0" y1="245.1" x2="100.2" y2="245.1" stroke="#111" stroke-width="1.40"/>
<line x1="95.0" y1="249.6" x2="100.2" y2="249.6" stroke="#111" stroke-width="1.40"/>
<line x1="95.0" y1="254.5" x2="100.2" y2="254.5" stroke="#111" stroke-width="1.40"/>
<line x1="95.0" y1="260.2" x2="100.2" y2="260.2" stroke="#111" stroke-width="1.40"/>
<line x1="95.0" y1="265.6" x2="100.2" y2="265.6" stroke="#111" stroke-width="1.40"/>
<line x1="95.0" y1="270.7" x2="100.2" y2="270.7" stroke="#111" stroke-width="1.40"/>
<line x1="95.0" y1="276.9" x2="100.2" y2="276.9" stroke="#111" stroke-width="1.40"/>
<line x1="95.0" y1="300.9" x2="100.2" y2="300.9" stroke="#111" stroke-width="1.40"/>
<line x1="95.0" y1="306.6" x2="100.2" y2="306.6" stroke="#111" stroke-width="1.40"/>
<line x1="95.0" y1="311.6" x2="100.2" y2="311.6" stroke="#111" stroke-width="1.40"/>
<line x1="95.0" y1="317.4" x2="100.2" y2="317.4" stroke="#111" stroke-width="1.40"/>
<line x1="95.0" y1="322.4" x2="100.2" y2="322.4" stroke="#111" stroke-width="1.40"/>
<line x1="95.0" y1="327.6" x2="100.2" y2="327.6" stroke="#111" stroke-width="1.40"/>
<line x1="95.0" y1="332.1" x2="100.2" y2="332.1" stroke="#111" stroke-width="1.40"/>
<line x1="95.0" y1="336.6" x2="100.2" y2="336.6" stroke="#111" stroke-width="1.40"/>
<line x1="90.9" y1="75.0" x2="100.2" y2="75.0" stroke="#111" stroke-width="1.60"/>
<line x1="90.9" y1="148.9" x2="100.2" y2="148.9" stroke="#111" stroke-width="1.60"/>
<line x1="90.9" y1="235.9" x2="100.2" y2="235.9" stroke="#111" stroke-width="1.60"/>
<line x1="90.9" y1="340.3" x2="100.2" y2="340.3" stroke="#111" stroke-width="1.60"/>
<rect x="94.2" y="282.5" width="6.0" height="11.9" fill="#151515"/>
<line x1="92.2" y1="288.7" x2="100.2" y2="288.7" stroke="#111" stroke-width="1.40"/>
<text x="65.5" y="77.9" font-size="24" text-anchor="start" >10</text>
<text x="89.5" y="67.1" font-size="12" text-anchor="start" >5</text>
<text x="65.5" y="152.9" font-size="24" text-anchor="start" >10</text>
<text x="89.5" y="142.1" font-size="12" text-anchor="start" >4</text>
<text x="64.7" y="239.7" font-size="24" text-anchor="start" >10</text>
<text x="88.7" y="228.9" font-size="12" text-anchor="start" >3</text>
<text x="83.3" y="296.4" font-size="24" text-anchor="middle" >0</text>
<text x="64.2" y="342.8" font-size="24" text-anchor="start" >10</text>
<text x="88.2" y="332.0" font-size="12" text-anchor="start" >3</text>
<line x1="50.1" y1="337.2" x2="61.7" y2="337.2" stroke="#111" stroke-width="1.70"/>
<line x1="206.4" y1="365.0" x2="206.4" y2="370.0" stroke="#111" stroke-width="1.50"/>
<line x1="213.8" y1="365.0" x2="213.8" y2="370.0" stroke="#111" stroke-width="1.50"/>
<line x1="219.7" y1="365.0" x2="219.7" y2="370.0" stroke="#111" stroke-width="1.50"/>
<line x1="226.3" y1="365.0" x2="226.3" y2="370.0" stroke="#111" stroke-width="1.50"/>
<line x1="233.1" y1="365.0" x2="233.1" y2="370.0" stroke="#111" stroke-width="1.50"/>
<line x1="240.0" y1="365.0" x2="240.0" y2="370.0" stroke="#111" stroke-width="1.50"/>
<line x1="247.1" y1="365.0" x2="247.1" y2="370.0" stroke="#111" stroke-width="1.50"/>
<line x1="254.8" y1="365.0" x2="254.8" y2="370.0" stroke="#111" stroke-width="1.50"/>
<line x1="266.2" y1="365.0" x2="266.2" y2="370.0" stroke="#111" stroke-width="1.50"/>
<line x1="303.9" y1="365.0" x2="303.9" y2="370.0" stroke="#111" stroke-width="1.50"/>
<line x1="314.0" y1="365.0" x2="314.0" y2="370.0" stroke="#111" stroke-width="1.50"/>
<line x1="322.0" y1="365.0" x2="322.0" y2="370.0" stroke="#111" stroke-width="1.50"/>
<line x1="331.7" y1="365.0" x2="331.7" y2="370.0" stroke="#111" stroke-width="1.50"/>
<line x1="340.2" y1="365.0" x2="340.2" y2="370.0" stroke="#111" stroke-width="1.50"/>
<line x1="348.2" y1="365.0" x2="348.2" y2="370.0" stroke="#111" stroke-width="1.50"/>
<line x1="356.4" y1="365.0" x2="356.4" y2="370.0" stroke="#111" stroke-width="1.50"/>
<line x1="363.3" y1="365.0" x2="363.3" y2="370.0" stroke="#111" stroke-width="1.50"/>
<line x1="414.5" y1="365.0" x2="414.5" y2="370.0" stroke="#111" stroke-width="1.50"/>
<line x1="436.8" y1="365.0" x2="436.8" y2="370.0" stroke="#111" stroke-width="1.50"/>
<line x1="450.0" y1="365.0" x2="450.0" y2="370.0" stroke="#111" stroke-width="1.50"/>
<line x1="369.9" y1="365.0" x2="369.9" y2="373.0" stroke="#111" stroke-width="1.60"/>
<rect x="273.6" y="365.0" width="22.0" height="4.6" fill="#151515"/>
<line x1="274.2" y1="365.0" x2="274.2" y2="374.0" stroke="#111" stroke-width="1.40"/>
<line x1="295.0" y1="365.0" x2="295.0" y2="374.0" stroke="#111" stroke-width="1.40"/>
<line x1="284.6" y1="365.0" x2="284.6" y2="373.0" stroke="#111" stroke-width="1.20"/>
<text transform="translate(104.0 62.8) scale(0.935 1)" font-size="25.7">UL</text>
<text transform="translate(104.0 88.3) scale(0.935 1)" font-size="25.7">0.16</text>
<text transform="translate(395.0 62.8) scale(0.935 1)" font-size="25.7">UR</text>
<text transform="translate(395.0 88.3) scale(0.935 1)" font-size="25.7">97.20</text>
<text transform="translate(104.0 329.4) scale(0.935 1)" font-size="25.7">LL</text>
<text transform="translate(104.0 353.7) scale(0.935 1)" font-size="25.7">0.00</text>
<text transform="translate(395.0 329.8) scale(0.935 1)" font-size="25.7">LR</text>
<text transform="translate(395.0 353.7) scale(0.935 1)" font-size="25.7">2.64</text>
<text x="116.0" y="416.3" font-size="29.5" text-anchor="start" textLength="68.2" lengthAdjust="spacingAndGlyphs" >JC-10</text>
<text x="192.7" y="416.3" font-size="29.5" text-anchor="start" textLength="102.8" lengthAdjust="spacingAndGlyphs" >monomer</text>
<text x="304.6" y="416.3" font-size="29.5" text-anchor="start" textLength="129.4" lengthAdjust="spacingAndGlyphs" >form(green)</text>
<text x="245.0" y="444.0" font-size="27" text-anchor="middle" >CK</text>
<g transform="translate(60.6 331.9) rotate(-90)">
<text x="0.0" y="0.0" font-size="29.5" text-anchor="start" textLength="63.4" lengthAdjust="spacingAndGlyphs" >JC-10</text>
<text x="70.4" y="0.0" font-size="29.5" text-anchor="start" textLength="109.9" lengthAdjust="spacingAndGlyphs" >monomer</text>
<text x="187.5" y="0.0" font-size="29.5" text-anchor="start" textLength="102.2" lengthAdjust="spacingAndGlyphs" >form(red)</text>
</g>
<text x="284.3" y="392.0" font-size="24" text-anchor="middle" >0</text>
<text x="355.6" y="392.0" font-size="24" text-anchor="start" >10</text>
<text x="379.6" y="381.2" font-size="12" text-anchor="start" >5</text>
</g>
<g>
<path d="M758.0 140.6h0M733.7 145.5h0M748.0 134.0h0M736.6 143.8h0M727.4 146.8h0M741.1 147.5h0M758.1 128.9h0M734.9 121.8h0M744.5 139.8h0M730.6 154.9h0M738.6 170.4h0M740.9 165.7h0M734.6 148.6h0M742.1 159.2h0M737.5 148.9h0M758.1 133.9h0M729.7 145.0h0M745.0 152.1h0M747.0 150.2h0M725.4 148.5h0M746.6 146.6h0M742.9 164.3h0M756.1 126.5h0M743.3 161.2h0M721.4 161.2h0M737.2 138.4h0M725.8 149.9h0M737.6 164.9h0M723.0 142.2h0M751.4 143.8h0M750.9 131.0h0M747.7 150.7h0M740.6 151.9h0M744.6 142.8h0M746.9 149.6h0M749.2 150.6h0M762.6 135.0h0M749.8 151.2h0M746.0 152.6h0M725.4 161.0h0M739.3 147.5h0M728.8 141.9h0M740.8 144.4h0M746.1 138.0h0M762.6 137.6h0M749.7 161.5h0M740.5 132.4h0M727.9 142.4h0M734.6 146.5h0M745.4 145.1h0M752.8 157.0h0M727.5 148.0h0M724.4 151.5h0M732.2 142.3h0M756.3 144.9h0M741.3 138.3h0M743.5 139.8h0M721.7 157.3h0M754.8 136.9h0M751.5 128.4h0M731.9 159.6h0M740.3 138.7h0M744.6 134.6h0M748.1 154.9h0M729.6 155.0h0M751.5 142.8h0M752.8 125.5h0M736.4 138.4h0M751.4 138.2h0M748.4 124.9h0M746.8 140.6h0M759.2 137.6h0M741.9 142.6h0M739.6 139.9h0M756.5 142.1h0M738.7 148.7h0M728.4 154.3h0M736.2 153.9h0M753.2 141.1h0M757.4 134.0h0M750.9 139.4h0M733.7 164.6h0M745.8 140.3h0M736.4 137.2h0M750.3 135.1h0M725.3 144.0h0M745.0 148.5h0M733.7 143.1h0M724.9 152.0h0M746.3 161.5h0M759.2 126.0h0M740.1 151.1h0M745.3 136.9h0M753.2 132.2h0M732.5 149.2h0M745.5 134.3h0M741.6 146.8h0M742.4 145.8h0M733.9 119.2h0M745.4 160.0h0M748.2 128.1h0M744.9 154.3h0M744.2 159.6h0M744.3 147.9h0M735.1 148.8h0M735.6 162.4h0M730.8 155.1h0M726.1 152.4h0M721.1 138.1h0M754.0 139.2h0M745.9 142.4h0M764.1 136.5h0M736.2 152.7h0M740.0 152.5h0M731.2 162.6h0M751.3 129.4h0M734.6 162.9h0M748.5 144.9h0M744.2 150.6h0M748.0 125.1h0M734.4 152.5h0M751.0 159.6h0M745.2 144.2h0M741.6 137.4h0M732.4 138.6h0M766.8 130.5h0M749.2 150.7h0M741.1 148.4h0M740.4 157.0h0M758.6 139.4h0M750.2 137.0h0M721.3 174.1h0M725.6 162.6h0M736.6 153.2h0M732.3 146.8h0M750.6 138.2h0M748.2 125.7h0M732.1 150.3h0M741.1 131.6h0M737.6 146.3h0M738.7 147.1h0M723.6 164.1h0M757.5 126.1h0M742.1 147.2h0M761.2 134.7h0M741.1 145.9h0M756.8 131.8h0M750.4 152.2h0M736.5 136.1h0M734.2 143.4h0M730.9 145.7h0M740.7 144.0h0M738.1 143.6h0M747.2 137.5h0M746.7 141.0h0M728.9 132.8h0M750.6 152.4h0M742.6 152.5h0M734.5 149.0h0M756.9 136.2h0M736.4 160.3h0M740.3 152.8h0M743.1 147.5h0M743.1 148.1h0M744.6 133.4h0M734.5 150.9h0M761.0 121.5h0M771.4 131.4h0M739.8 157.3h0M739.2 134.1h0M742.9 144.3h0M748.2 139.1h0M739.6 156.6h0M735.5 125.3h0M736.9 143.4h0M748.1 159.0h0M730.1 165.1h0M742.9 166.0h0M742.5 148.3h0M734.2 155.4h0M740.3 137.8h0M737.2 143.8h0M732.8 153.4h0M737.4 167.7h0M757.6 138.8h0M752.9 148.9h0M736.8 151.9h0M732.4 151.1h0M741.0 152.0h0M744.7 147.1h0M752.4 139.0h0M754.5 137.1h0M741.9 155.1h0M743.8 145.3h0M756.0 145.8h0M751.0 146.7h0M750.4 138.6h0M749.8 147.5h0M737.9 140.0h0M730.1 146.2h0M753.3 140.7h0M760.4 131.2h0M738.5 138.7h0M743.2 152.7h0M744.5 140.3h0M739.6 159.0h0M736.7 143.1h0M744.7 134.7h0M739.4 157.0h0M747.4 157.0h0M741.0 142.5h0M756.0 152.3h0M758.7 127.5h0M738.0 152.3h0M730.4 177.0h0M729.5 151.3h0M734.9 150.9h0M742.0 148.9h0M748.7 145.5h0M735.0 169.2h0M727.3 140.9h0M739.4 163.9h0M739.6 143.5h0M730.9 150.7h0M728.2 150.9h0M748.2 138.3h0M752.2 132.8h0M728.8 147.2h0M730.4 154.7h0M738.1 154.4h0M741.3 140.7h0M749.8 127.1h0M757.1 147.5h0M724.7 152.0h0M736.3 157.1h0M746.8 146.1h0M731.4 153.4h0M744.1 145.8h0M749.7 138.6h0M737.4 143.9h0M749.3 140.7h0M736.4 158.4h0M752.2 142.6h0M743.4 152.4h0M726.5 155.7h0M738.4 143.8h0M760.1 148.2h0M722.9 149.4h0M734.3 149.8h0M732.8 160.1h0M743.2 146.8h0M738.3 152.0h0M741.8 145.1h0M730.1 148.0h0M740.3 147.4h0M749.3 146.4h0M748.6 133.1h0M750.9 141.8h0M744.9 143.4h0M728.2 144.6h0M732.9 149.2h0M742.2 144.9h0M739.4 159.7h0M728.6 166.9h0M741.5 140.8h0M745.9 162.1h0M734.8 148.8h0M740.5 152.0h0M736.2 144.9h0M757.0 119.6h0M734.3 159.7h0M757.9 125.5h0M767.4 138.3h0M732.1 144.4h0M730.1 152.6h0M736.9 153.8h0M754.1 139.0h0M759.5 140.5h0M734.2 143.9h0M764.8 136.9h0M722.2 157.0h0M729.5 165.6h0M742.1 145.3h0M751.9 151.8h0M728.5 141.1h0M730.5 173.4h0M747.1 135.2h0M748.2 139.0h0M739.5 153.1h0M740.6 138.2h0M733.9 156.2h0M718.9 167.3h0M735.3 156.3h0M755.2 146.5h0M734.5 145.1h0M749.7 149.4h0M758.8 141.8h0M734.1 153.7h0M741.5 169.9h0M737.5 154.9h0M736.2 173.8h0M746.8 137.6h0M740.1 143.9h0M758.0 136.8h0M741.0 149.3h0M726.7 159.8h0M743.1 148.7h0M743.6 143.1h0M735.1 155.8h0M726.2 158.2h0M730.6 143.5h0M737.5 143.5h0M735.2 165.4h0M748.6 161.8h0M734.4 166.2h0M737.3 134.2h0M739.0 146.0h0M744.2 140.0h0M763.0 137.9h0M745.6 133.1h0M726.5 146.3h0M739.8 161.9h0M736.7 139.8h0M733.1 134.5h0M730.7 162.6h0M741.0 136.2h0M746.0 160.9h0M747.2 132.2h0M758.8 133.0h0M753.9 160.1h0M739.2 144.7h0M751.8 144.6h0M758.3 134.6h0M735.9 148.2h0M754.6 143.6h0M723.8 165.2h0M747.8 161.6h0M744.2 140.4h0M749.5 134.7h0M739.0 145.2h0M736.8 132.9h0M745.3 129.5h0M732.8 152.3h0M751.7 142.2h0M731.9 150.3h0M750.0 144.6h0M732.9 147.9h0M738.9 150.4h0M726.9 155.5h0M736.9 159.2h0M755.5 142.4h0M725.6 151.3h0M718.4 163.3h0M746.1 136.9h0M738.7 158.8h0M750.4 153.4h0M746.7 158.8h0M720.2 178.4h0M758.2 118.9h0M750.0 137.2h0M732.5 143.2h0M748.4 134.7h0M726.0 133.6h0M733.6 158.4h0M743.0 149.3h0M748.7 137.0h0M739.7 164.1h0M735.6 151.5h0M755.9 145.6h0M734.2 151.5h0M752.6 120.8h0M764.2 133.5h0M734.7 146.4h0M722.7 154.5h0M734.1 140.7h0M755.8 130.4h0M738.2 146.7h0M746.1 155.1h0M740.6 123.3h0M727.8 169.5h0M729.7 166.4h0M725.2 160.9h0M747.1 160.9h0M729.8 156.8h0M729.5 154.4h0M755.9 135.2h0M735.3 167.2h0M756.8 138.6h0M732.5 153.1h0M767.7 126.0h0M737.1 160.0h0M745.2 122.0h0M738.1 162.9h0M735.4 152.2h0M734.3 149.6h0M737.8 140.4h0M736.2 148.8h0M738.0 161.9h0M759.7 148.2h0M753.1 138.0h0M740.6 166.1h0M765.5 128.9h0M740.6 168.4h0M754.6 120.4h0M738.9 144.7h0M725.6 159.3h0M734.7 164.2h0M746.3 127.2h0M745.5 143.4h0M731.7 158.0h0M723.2 150.2h0M734.9 151.2h0M752.0 139.0h0M724.5 168.6h0M741.3 135.9h0M724.7 169.3h0M744.1 160.7h0M726.1 155.2h0M738.8 162.6h0M743.7 158.3h0M745.1 141.5h0M750.3 146.0h0M748.9 142.8h0M749.1 135.4h0M743.2 143.5h0M738.7 148.5h0M729.1 135.4h0M727.9 157.0h0M737.5 141.2h0M726.9 154.5h0M744.7 159.3h0M735.4 171.9h0M728.0 148.9h0M738.3 168.0h0M739.5 161.1h0M737.0 146.3h0M740.6 166.1h0M755.5 141.2h0M744.8 155.2h0M746.1 156.6h0M738.5 163.7h0M757.6 137.2h0M733.2 143.2h0M726.2 149.2h0M744.9 166.3h0M751.1 147.3h0M741.6 156.4h0M755.9 136.6h0M744.7 153.4h0M748.1 153.8h0M743.2 154.7h0M731.1 164.1h0M734.4 160.3h0M733.3 151.5h0M742.7 162.8h0M746.8 151.4h0M730.3 147.7h0M746.7 158.7h0M733.2 134.6h0M735.1 147.6h0M725.4 168.8h0M736.9 145.4h0M735.3 148.5h0M747.8 138.5h0M756.0 146.2h0M749.8 135.6h0M737.5 134.5h0M714.0 156.3h0M720.1 157.3h0M749.1 119.1h0M731.6 163.5h0M745.1 142.5h0M749.5 138.8h0M726.5 162.7h0M747.6 155.9h0M721.2 167.0h0M734.9 149.1h0M743.5 139.7h0M734.8 133.4h0M752.1 123.7h0M747.8 155.8h0M744.1 142.1h0M740.5 159.2h0M741.5 147.1h0M723.8 167.0h0M734.3 135.5h0M735.8 151.9h0M723.5 167.4h0M740.5 161.8h0M719.3 159.9h0M728.5 165.4h0M739.8 145.9h0M741.9 142.7h0M762.9 126.0h0M734.3 144.6h0M735.4 150.8h0M722.2 163.0h0M738.6 144.2h0M747.6 149.5h0M731.6 151.2h0M742.5 147.6h0M744.0 144.0h0M741.9 137.3h0M733.9 144.0h0M736.4 152.1h0M744.3 135.7h0M743.7 142.6h0M738.7 148.7h0M757.1 146.1h0M734.5 158.7h0M735.5 160.2h0M743.6 146.1h0M726.2 181.6h0M730.2 157.7h0M744.5 158.1h0M735.1 164.9h0M729.9 166.3h0M733.0 150.7h0M722.0 177.9h0M749.0 156.3h0M744.8 143.3h0M747.3 140.3h0M747.5 146.9h0M738.1 144.2h0M742.5 144.8h0M751.0 147.5h0M736.6 156.3h0M753.7 138.3h0M752.2 135.8h0M736.8 146.1h0M743.1 136.3h0M723.1 168.9h0M748.7 150.8h0M744.4 157.9h0M743.7 130.3h0M744.3 146.1h0M725.6 153.2h0M738.5 151.3h0M736.8 156.4h0M739.6 138.7h0M766.4 127.4h0M749.9 131.0h0M725.2 164.0h0M734.8 153.9h0M735.7 155.9h0M753.6 149.5h0M734.5 139.3h0M747.0 147.5h0M754.7 140.4h0M750.2 144.8h0M751.4 128.9h0M742.7 151.4h0M740.8 147.4h0M742.9 139.9h0M742.1 154.3h0M742.3 159.8h0M720.2 152.4h0M744.0 142.2h0M752.6 146.6h0M734.4 155.8h0M748.0 155.7h0M741.7 143.3h0M736.8 160.1h0M732.2 165.1h0M731.6 153.7h0M748.3 138.5h0M764.3 122.5h0M733.9 159.0h0M749.6 151.2h0M747.5 152.6h0M728.4 174.8h0M736.8 160.6h0M740.7 152.3h0M747.3 154.2h0M751.9 130.3h0M730.5 151.3h0M737.4 144.0h0M743.0 157.1h0M732.8 166.0h0M748.2 142.1h0M745.4 161.0h0M760.0 127.7h0M759.7 132.7h0M740.6 155.4h0M736.5 159.5h0M748.2 143.3h0M730.9 160.4h0M733.1 143.0h0M728.7 158.2h0M743.9 138.6h0M746.1 138.2h0M736.0 165.5h0M739.2 170.3h0M751.0 141.3h0M743.0 126.9h0M735.2 151.7h0M751.1 139.8h0M732.8 129.5h0M741.9 148.7h0M741.9 159.5h0M738.0 149.2h0M735.8 133.7h0M750.7 148.5h0M730.9 138.4h0M741.1 161.9h0M739.9 128.6h0M744.3 153.3h0M747.5 135.0h0M739.6 134.7h0M752.1 135.2h0M739.6 141.3h0M772.3 129.3h0M747.5 137.8h0M752.2 138.2h0M753.3 133.0h0M748.2 150.6h0M745.4 133.7h0M756.0 155.6h0M754.3 134.2h0M748.0 142.8h0M736.8 155.7h0M740.7 152.3h0M744.2 141.0h0M751.6 129.2h0M745.4 138.9h0M737.7 157.7h0M744.3 158.3h0M762.3 125.3h0M740.6 147.4h0M754.6 137.1h0M738.5 164.9h0M745.7 150.2h0M745.3 166.3h0M732.3 161.6h0M741.3 149.9h0M736.1 148.1h0M730.6 152.9h0M749.5 141.4h0M743.9 140.9h0M762.2 130.1h0M740.2 147.4h0M738.7 153.9h0M759.1 150.2h0M750.6 147.9h0M722.8 164.2h0M735.1 145.2h0M730.7 157.4h0M757.9 142.8h0M728.2 153.4h0M733.0 161.3h0M743.6 141.0h0M748.7 139.5h0M745.3 152.0h0M731.0 142.0h0M756.2 146.2h0M731.0 159.3h0M741.0 145.8h0M730.2 140.4h0M729.9 154.3h0M723.9 137.7h0M747.6 156.7h0M768.0 131.8h0M732.7 149.5h0M760.7 136.9h0M742.7 153.5h0M738.1 141.4h0M728.2 152.6h0M723.4 149.6h0M739.0 131.5h0M719.7 153.4h0M754.1 139.2h0M753.1 160.7h0M730.5 170.2h0M724.1 146.6h0M745.8 137.2h0M733.7 139.7h0M742.9 134.3h0M735.4 161.1h0M741.8 143.2h0M734.3 147.8h0M732.2 137.1h0M741.8 159.5h0M741.2 154.0h0M751.1 161.4h0M731.0 143.9h0M753.7 140.4h0M737.5 162.8h0M735.6 157.7h0M748.1 129.0h0M752.7 127.2h0M752.3 134.1h0M730.0 137.0h0M740.1 159.2h0M752.8 134.0h0M733.6 154.1h0M735.5 157.8h0M733.8 160.1h0M745.5 148.6h0M736.5 157.3h0M739.5 139.4h0M740.3 141.2h0M740.5 150.8h0M741.7 146.9h0M749.6 157.0h0M727.9 157.7h0M735.6 150.7h0M740.2 145.6h0M737.3 134.7h0M761.6 122.8h0M726.0 155.9h0M734.6 151.2h0M733.7 146.9h0M742.1 144.8h0M761.1 123.7h0M726.3 134.5h0M735.7 154.4h0M741.7 151.6h0M737.4 138.2h0M741.8 140.9h0M742.2 140.5h0M742.1 153.7h0M740.1 135.5h0M732.5 173.1h0M742.0 122.7h0M749.0 139.9h0M734.5 151.8h0M755.2 131.5h0M736.3 153.9h0M748.6 145.0h0M734.3 141.6h0M732.0 142.3h0M736.4 160.0h0M750.3 138.0h0M717.4 150.6h0M752.7 153.9h0M752.3 130.2h0M751.9 132.0h0M749.7 114.1h0M746.2 142.5h0M740.8 153.6h0M736.4 163.1h0M728.9 150.7h0M728.3 175.8h0M741.5 160.2h0M756.9 152.7h0M743.5 143.1h0M727.0 143.1h0M745.7 140.1h0M745.0 144.6h0M746.5 138.8h0M748.0 132.9h0M756.4 135.8h0M755.9 137.0h0M742.4 141.6h0M732.3 160.8h0M759.5 129.5h0M735.1 136.4h0M738.4 146.9h0M722.0 167.1h0M734.4 175.3h0M740.6 136.9h0M729.5 161.2h0M738.1 148.0h0M748.4 132.6h0M738.8 129.6h0M755.1 153.1h0M727.6 164.8h0M743.3 151.5h0M732.1 163.8h0M742.3 140.4h0M732.7 130.7h0M734.0 156.0h0M748.0 155.1h0M731.8 141.8h0M756.7 125.9h0M752.4 136.3h0M749.1 131.9h0M750.6 129.7h0M748.6 145.6h0M728.9 161.3h0M760.9 147.8h0M742.1 154.5h0M745.7 161.3h0M737.3 161.9h0M729.1 151.7h0M745.3 140.4h0M740.4 148.7h0M738.7 151.1h0M733.8 134.9h0M738.1 159.6h0M751.5 140.4h0M738.3 152.3h0M748.1 121.6h0M756.6 149.0h0M745.7 136.5h0M746.8 133.0h0M724.6 141.1h0M736.8 145.0h0M739.6 162.9h0M757.0 123.9h0M727.6 156.4h0M749.9 148.9h0M735.3 138.8h0M737.9 133.6h0M725.1 145.2h0M722.0 150.4h0M731.0 140.9h0M750.4 149.2h0M740.5 166.3h0M742.5 147.1h0M743.2 153.2h0M751.6 148.6h0M745.9 156.8h0M741.6 156.1h0M744.2 137.5h0M749.6 132.0h0M748.0 149.8h0M750.3 152.4h0M715.9 146.5h0M752.9 152.0h0M765.9 124.8h0M745.4 135.3h0M726.9 140.8h0M735.2 146.5h0M751.8 142.8h0M736.2 153.4h0M748.7 140.9h0M729.9 165.1h0M732.3 156.2h0M739.8 156.6h0M731.5 144.9h0M748.8 133.9h0M732.2 142.6h0M753.4 138.6h0M728.9 156.0h0M741.9 136.2h0M724.1 177.0h0M748.2 151.7h0M730.1 178.3h0M752.1 131.4h0M742.1 141.3h0M748.4 132.2h0M752.2 137.2h0M731.3 140.9h0M751.8 126.3h0M739.0 157.0h0M719.7 130.3h0M740.2 138.3h0M735.7 137.7h0M740.2 139.3h0M723.5 180.6h0M742.3 145.0h0M743.3 147.0h0M744.3 142.8h0M738.2 162.7h0M747.4 157.3h0M732.7 145.0h0M750.8 124.7h0M744.2 148.6h0M728.4 156.3h0M752.8 142.3h0M728.3 157.9h0M747.4 157.9h0M738.1 150.6h0M766.9 131.1h0M736.6 155.1h0M736.6 136.1h0M741.2 145.7h0M724.1 153.4h0M729.5 163.4h0M724.9 155.6h0M746.3 157.2h0M730.4 141.4h0M747.3 146.4h0M742.9 124.9h0M732.8 145.2h0M727.7 149.0h0M750.9 123.4h0M723.1 159.5h0M742.7 148.5h0M756.1 142.3h0M742.6 151.5h0M743.2 120.3h0M747.7 148.4h0M727.2 162.4h0M746.2 146.7h0M723.1 160.1h0M734.3 153.0h0M749.2 147.8h0M740.4 133.5h0M735.5 154.6h0M742.3 143.9h0M734.6 151.0h0M737.5 157.8h0M737.3 169.9h0M732.7 155.8h0M736.2 145.8h0M716.3 177.6h0M745.5 160.2h0M746.7 128.5h0M737.7 138.2h0M748.0 131.0h0M735.3 165.2h0M741.0 148.0h0M759.2 132.7h0M730.4 146.8h0M738.1 148.8h0M738.7 136.9h0M740.3 135.5h0M739.7 154.4h0M737.2 150.1h0M757.9 153.1h0M764.2 133.0h0M738.6 151.7h0M743.8 140.9h0M741.6 127.7h0M731.0 138.1h0M741.6 162.2h0M740.2 151.6h0M742.9 150.8h0M740.7 160.0h0M726.6 167.3h0M723.3 149.0h0M734.1 140.1h0M728.0 147.1h0M742.2 146.5h0M746.6 155.1h0M715.7 145.0h0M726.6 160.1h0M755.0 148.5h0M734.2 137.9h0M752.2 133.4h0M743.6 164.9h0M739.3 143.4h0M724.8 163.1h0M730.7 164.7h0M737.5 149.1h0M735.5 148.6h0M745.7 139.5h0M748.4 142.0h0M738.6 147.3h0M741.2 144.3h0M726.8 166.6h0M743.9 139.7h0M734.3 153.9h0M740.6 144.7h0M742.3 151.4h0M726.6 144.4h0M732.4 123.0h0M741.8 161.8h0M731.4 162.6h0M731.4 160.0h0M731.8 138.7h0M743.5 136.1h0M744.5 165.8h0M747.3 144.3h0M733.7 146.8h0M750.1 125.1h0M750.7 130.3h0M741.0 145.2h0M745.6 148.1h0M754.5 141.8h0M755.1 129.6h0M732.6 147.9h0M758.2 133.3h0M751.7 144.1h0M734.7 155.9h0M747.6 152.4h0M731.8 147.1h0M743.3 152.1h0M740.6 150.7h0M741.5 145.4h0M739.2 130.3h0M727.7 156.7h0M729.4 142.6h0M734.3 145.2h0M755.1 141.7h0M717.9 149.6h0M744.8 154.6h0M755.5 137.6h0M738.8 136.9h0M740.9 141.5h0M767.0 143.4h0M739.8 138.9h0M733.6 156.5h0M728.5 160.7h0M738.8 151.8h0M738.3 148.3h0M752.9 154.6h0M743.0 137.5h0M747.6 146.6h0M743.9 156.5h0M753.6 134.3h0M740.6 144.2h0M726.8 139.7h0M739.8 151.2h0M752.0 131.6h0M726.0 162.5h0M734.8 152.9h0M741.6 134.2h0M752.8 149.6h0M729.8 152.9h0M732.1 157.7h0M749.5 142.2h0M738.1 130.0h0M718.6 152.7h0M726.7 146.0h0M740.0 146.3h0M730.3 132.1h0M741.7 146.2h0M747.8 137.5h0M728.3 154.8h0M731.5 144.7h0M742.1 154.8h0M727.0 178.8h0M746.7 159.1h0M756.0 142.1h0M741.4 138.7h0M733.7 160.6h0M720.9 154.9h0M735.4 148.0h0M730.8 135.4h0M734.9 158.8h0M740.2 130.5h0M757.1 145.1h0M739.7 145.0h0M737.1 153.1h0M744.0 153.8h0M744.1 155.6h0M751.0 135.2h0M744.6 144.5h0M737.2 144.3h0M750.0 148.6h0M737.4 135.9h0M742.6 158.9h0M744.0 145.6h0M746.4 137.9h0M737.4 163.6h0M738.0 148.2h0M756.1 132.0h0M744.2 157.9h0M727.3 171.4h0M726.1 152.8h0M737.0 165.1h0M734.5 165.8h0M747.0 160.0h0M750.5 144.0h0M727.3 155.8h0M753.0 137.8h0M743.9 152.3h0M730.9 151.3h0M745.6 157.1h0M742.0 143.0h0M755.2 140.0h0M740.7 160.6h0M743.0 140.4h0M744.3 133.3h0M743.9 153.1h0M745.6 153.6h0M731.8 144.8h0M737.1 169.4h0M758.0 149.2h0M738.1 153.9h0M758.3 134.6h0M736.8 141.2h0M732.1 166.8h0M746.9 131.6h0M745.7 166.0h0M758.5 128.2h0M732.7 135.9h0M732.0 138.9h0M755.7 150.5h0M741.9 157.7h0M738.5 156.6h0M725.7 153.2h0M749.3 148.7h0M743.9 138.6h0M741.2 168.8h0M740.5 138.1h0M738.0 156.1h0M750.2 144.3h0M737.1 154.9h0M741.1 162.2h0M748.7 142.5h0M736.7 146.7h0M740.5 152.6h0M738.2 145.7h0M724.0 149.8h0M734.4 157.5h0M723.4 140.2h0M716.4 158.3h0M752.0 142.5h0M743.1 140.2h0M755.9 122.7h0M743.6 154.2h0M744.6 146.7h0M733.1 150.1h0M759.6 150.1h0M755.7 145.5h0M749.9 156.6h0M749.4 144.4h0M736.8 151.2h0M733.5 148.3h0M739.0 145.9h0M734.3 156.4h0M749.7 132.0h0M735.9 143.3h0M732.9 164.9h0M729.2 154.1h0M750.6 149.3h0M754.8 135.1h0M737.0 147.3h0M733.2 144.5h0M731.2 145.2h0M760.2 141.8h0M732.8 131.0h0M728.1 155.4h0M735.8 160.4h0M726.3 166.6h0M729.6 150.3h0M749.6 157.9h0M737.9 154.9h0M754.3 125.7h0M756.3 138.6h0M749.2 142.5h0M761.2 147.1h0M751.2 136.8h0M721.2 178.1h0M751.9 142.3h0M738.6 163.6h0M758.2 128.6h0M770.4 135.0h0M737.4 147.3h0M738.7 158.4h0M761.0 143.9h0M731.4 137.6h0M739.7 171.3h0M734.4 165.0h0M754.2 143.7h0M731.3 172.8h0M723.0 162.3h0M738.8 164.4h0M742.3 124.7h0M747.3 141.4h0M735.8 152.6h0M740.7 147.6h0M744.0 152.6h0M736.6 153.9h0M735.9 149.4h0M731.2 155.0h0M730.5 142.7h0M707.2 142.9h0M770.9 126.3h0M764.9 128.8h0M734.8 122.0h0M747.8 133.0h0M745.2 128.6h0M728.5 134.3h0M769.0 125.8h0M737.0 121.4h0M729.8 123.6h0M748.5 129.0h0M753.5 136.9h0M751.2 131.8h0M742.0 117.8h0M718.0 130.2h0M745.1 117.3h0M770.4 133.2h0M726.5 125.5h0M761.9 130.7h0M739.1 126.6h0M742.2 141.0h0M729.5 129.2h0M762.7 141.7h0M735.7 132.5h0M736.2 129.4h0M763.0 146.6h0M726.7 134.4h0M726.4 144.6h0M746.8 136.1h0M749.1 136.4h0M749.2 154.3h0M749.5 135.1h0M734.1 127.9h0M725.8 131.0h0M750.1 130.0h0M757.2 141.3h0M732.2 141.1h0M767.2 131.3h0M756.6 130.3h0M720.0 134.9h0M746.8 141.4h0M726.0 150.3h0M776.4 131.1h0M749.5 121.3h0M739.7 119.2h0M748.9 148.6h0M754.8 117.9h0M747.1 131.7h0M722.2 137.2h0M736.7 134.5h0M762.2 139.7h0M763.1 147.9h0M728.6 151.3h0M748.1 140.7h0M746.0 124.0h0M751.0 133.7h0M722.3 128.3h0M748.9 117.5h0M739.5 138.6h0M750.8 128.0h0M765.7 142.7h0M753.7 128.1h0M712.2 130.8h0M750.5 147.7h0M738.4 128.7h0M728.7 144.7h0M757.4 143.8h0M727.4 136.3h0M717.2 129.9h0M761.4 135.1h0M737.9 139.4h0M747.6 143.3h0M752.6 131.2h0M738.3 124.4h0M750.4 128.0h0M738.5 138.7h0M729.3 142.0h0M738.3 125.6h0M770.9 125.0h0M736.4 136.8h0M748.7 156.3h0M741.4 123.1h0M754.1 130.3h0M735.0 116.0h0M737.8 153.6h0M755.3 128.4h0M730.7 143.8h0M753.8 120.1h0M761.6 140.3h0M770.1 132.7h0M739.9 150.7h0M728.0 133.1h0M720.1 123.5h0M767.9 129.0h0M726.7 140.7h0M751.7 131.7h0M747.4 131.2h0M727.0 123.9h0M724.1 141.0h0M776.9 135.0h0M752.5 123.0h0M755.3 116.1h0M747.0 123.1h0M754.7 134.6h0M764.9 140.3h0M767.7 134.6h0M725.7 132.0h0M728.7 130.7h0M774.9 131.6h0M721.0 126.9h0M736.7 134.3h0M722.6 138.0h0M726.3 128.5h0M745.2 131.1h0M714.8 148.3h0M732.6 151.7h0M750.0 135.4h0M751.7 143.2h0M742.4 140.7h0M746.6 111.0h0M740.5 129.2h0M723.5 144.2h0M762.4 126.5h0M741.6 118.5h0M750.3 137.4h0M750.5 128.6h0M759.7 143.6h0M709.6 135.6h0M745.6 147.6h0M732.8 124.8h0M766.5 123.0h0M747.2 144.0h0M746.9 134.4h0M755.9 132.1h0M733.2 130.0h0M746.7 124.3h0M751.4 135.6h0M717.3 144.5h0M738.3 131.4h0M737.1 140.6h0M731.0 127.3h0M734.0 135.5h0M729.4 134.1h0M716.9 135.0h0M725.7 132.7h0M751.9 120.5h0M745.4 136.2h0M718.6 131.9h0M751.2 125.1h0M718.3 134.0h0M751.9 137.8h0M766.5 130.2h0M742.7 129.6h0M764.1 139.3h0M740.3 137.7h0M759.5 129.6h0M738.6 149.4h0M725.9 140.2h0M768.0 134.2h0M741.4 133.3h0M756.5 125.2h0M758.2 130.2h0M747.6 147.7h0M735.5 146.1h0M737.7 142.4h0M743.2 138.1h0M759.9 137.6h0M768.5 142.1h0M732.1 130.0h0M740.2 135.5h0M741.8 122.0h0M738.4 134.8h0M734.5 151.9h0M755.6 130.6h0M731.3 127.3h0M763.6 123.5h0M722.2 129.8h0M730.1 124.4h0M733.2 124.8h0M757.6 130.9h0M742.2 146.0h0M772.4 133.8h0M713.4 147.2h0M748.5 123.5h0M751.4 133.3h0M738.8 134.8h0M730.1 121.0h0M766.7 128.0h0M738.3 157.2h0M732.2 132.0h0M715.2 125.6h0M736.5 141.4h0M727.8 136.3h0M747.4 117.9h0M744.3 124.7h0M729.2 130.6h0M723.4 123.8h0M754.5 141.5h0M727.9 120.1h0M740.3 130.1h0M758.6 121.5h0M758.1 141.5h0M748.6 132.9h0M728.8 141.2h0M729.0 126.4h0M761.6 121.5h0M750.7 130.4h0M744.5 142.0h0M745.4 149.0h0M722.6 127.6h0M717.0 137.2h0M745.6 142.2h0M744.9 122.1h0M729.1 121.7h0M728.5 133.5h0M719.3 135.8h0M708.4 140.8h0M726.9 124.8h0M732.3 138.6h0M756.3 118.1h0M757.4 144.7h0M739.9 140.7h0M736.8 132.6h0M737.6 127.2h0M719.7 134.5h0M736.7 117.3h0M735.8 124.6h0M752.1 140.8h0M761.9 127.4h0M731.4 143.6h0M751.8 133.5h0M735.8 120.0h0M731.1 132.9h0M766.1 122.6h0M749.1 126.8h0M744.3 153.3h0M756.5 131.3h0M755.7 123.5h0M758.0 127.4h0M752.5 133.7h0M737.4 122.3h0M737.2 153.4h0M756.2 143.4h0M716.2 136.5h0M739.9 125.6h0M718.0 125.5h0M722.0 127.0h0M731.3 120.9h0M748.6 121.2h0M755.2 131.8h0M745.3 132.6h0M718.4 131.7h0M741.4 141.4h0M723.8 142.1h0M746.7 137.2h0M769.6 141.9h0M734.4 136.8h0M749.0 131.0h0M754.8 135.7h0M767.2 138.9h0M733.7 152.3h0M742.6 130.0h0M738.5 131.6h0M743.1 119.7h0M761.9 123.6h0M746.4 118.6h0M763.1 126.4h0M728.2 130.2h0M730.3 141.8h0M727.6 127.9h0M747.9 111.6h0M754.9 134.7h0M763.1 143.1h0M715.4 129.4h0M761.0 125.7h0M741.7 129.1h0M759.4 149.6h0M736.9 134.3h0M729.6 133.8h0M745.8 125.0h0M773.3 143.7h0M717.3 147.8h0M732.0 137.6h0M755.2 129.1h0M753.1 130.5h0M755.9 142.8h0M727.9 131.0h0M773.2 135.5h0M725.7 131.6h0M765.5 133.5h0M742.0 148.8h0M740.7 136.0h0M747.9 130.5h0M747.5 126.7h0M743.4 153.2h0M739.1 142.5h0M747.7 117.6h0M717.7 132.2h0M755.8 122.9h0M753.8 123.9h0M771.2 140.9h0M735.8 141.4h0M748.6 134.0h0M739.9 143.1h0M727.4 135.8h0M752.9 117.9h0M756.1 123.4h0M750.9 117.8h0M711.8 136.1h0M766.7 131.4h0M721.7 122.6h0M730.5 129.1h0M722.1 146.4h0M736.9 138.7h0M741.8 127.2h0M763.5 132.6h0M743.0 127.0h0M743.2 129.0h0M760.5 124.2h0M721.0 130.3h0M766.8 130.3h0M727.3 125.5h0M731.3 141.3h0M722.3 131.4h0M741.6 114.4h0M741.8 133.8h0M756.6 119.7h0M763.4 150.1h0M729.0 118.6h0M723.3 168.3h0M724.1 161.2h0M729.1 166.9h0M724.3 175.2h0M721.5 161.2h0M718.6 173.6h0M719.4 184.6h0M723.2 177.2h0M725.1 175.1h0M724.7 170.7h0M721.2 185.4h0M721.2 176.6h0M724.4 176.7h0M717.7 172.8h0M721.7 177.0h0M721.8 179.5h0M726.0 168.6h0M725.1 167.9h0M716.5 174.4h0M725.5 181.9h0M717.9 176.5h0M718.0 181.3h0M723.9 175.1h0M718.6 168.6h0M722.6 174.6h0M721.5 168.6h0M721.0 181.5h0M721.4 171.7h0M722.5 177.1h0M718.5 173.5h0M721.2 172.4h0M725.8 177.0h0M722.9 183.5h0M721.3 176.4h0M720.5 178.0h0M720.5 172.5h0M722.3 175.2h0M725.4 173.3h0M726.2 172.7h0M724.0 167.3h0M723.5 175.0h0M718.4 180.6h0M724.5 170.3h0M717.5 182.5h0M728.4 164.4h0M724.4 182.9h0M723.4 168.1h0M723.4 177.7h0M722.5 174.8h0M719.5 183.2h0M722.0 171.2h0M723.7 171.9h0M721.5 173.8h0M721.1 186.8h0M726.7 173.9h0M723.3 171.5h0M720.9 174.6h0M723.3 172.8h0M723.6 164.5h0M722.9 177.8h0M728.9 179.4h0M721.0 180.7h0M722.6 174.8h0M720.9 178.8h0M722.9 180.8h0M726.1 167.4h0M719.7 179.5h0M721.6 172.9h0M724.4 170.2h0M718.2 175.3h0M722.0 167.4h0M722.0 172.4h0M725.4 171.0h0M721.2 182.9h0M725.4 158.9h0M721.3 179.9h0M722.3 177.8h0M717.4 162.8h0M719.9 180.1h0M720.9 178.6h0M726.7 175.2h0M724.3 166.6h0M724.4 167.4h0M723.6 179.7h0M718.2 176.0h0M724.7 178.1h0M718.6 179.3h0M723.5 171.8h0M717.5 182.9h0M722.9 183.0h0M725.6 169.5h0M723.6 169.9h0M723.6 173.5h0M725.8 167.1h0M724.7 159.0h0M727.9 172.3h0M720.2 179.4h0M723.9 168.9h0M730.0 172.3h0M727.0 154.7h0M715.2 166.6h0M753.4 164.6h0M737.8 129.1h0M722.1 141.2h0M743.2 157.7h0M747.0 127.5h0M709.2 156.7h0M748.2 138.3h0M735.2 134.1h0M714.2 159.3h0M730.8 145.3h0M730.0 131.0h0M723.5 152.4h0M713.5 150.8h0M747.7 142.5h0M731.6 140.7h0M729.5 132.7h0M716.5 124.3h0M746.7 157.4h0M734.0 162.1h0M747.0 143.4h0M742.2 139.0h0M712.7 116.8h0M730.5 159.4h0M720.4 147.2h0M733.5 156.8h0M751.1 103.7h0M732.2 140.0h0M733.2 139.3h0M705.0 147.6h0M746.8 120.4h0M750.0 123.5h0M727.9 133.6h0M744.1 159.4h0M740.7 173.7h0M724.1 158.1h0M722.1 171.7h0M713.9 165.8h0M754.2 110.0h0M740.2 151.2h0M776.9 107.6h0M798.1 105.6h0M790.2 112.8h0M780.9 116.8h0M784.9 116.8h0M794.1 118.8h0M798.1 120.8h0M779.6 123.4h0M788.8 122.8h0M795.4 126.7h0M784.9 126.1h0M788.8 128.0h0M783.0 121.0h0M786.0 131.0h0M749.0 107.5h0M741.0 113.5h0M717.7 296.8h0M721.4 210.4h0M717.6 214.9h0M720.9 293.6h0M717.5 272.6h0M720.3 282.9h0M720.1 293.0h0M720.8 295.2h0M715.1 230.8h0M724.3 214.1h0M717.3 250.1h0M723.6 229.6h0M716.5 224.4h0M716.9 252.0h0M717.2 287.9h0M721.4 248.4h0M717.0 224.7h0M719.9 207.6h0M712.9 280.9h0M716.1 258.6h0M719.3 210.7h0M717.3 278.5h0M713.1 195.1h0M720.4 196.1h0M715.4 219.4h0M723.5 275.4h0M717.3 245.9h0M724.5 264.8h0M720.1 289.3h0M720.0 298.5h0M716.2 281.7h0M717.7 236.0h0M719.2 248.1h0M713.1 186.2h0M721.9 195.0h0M714.5 235.9h0M717.5 223.2h0M709.4 245.6h0M720.4 186.7h0M720.6 294.2h0M718.8 240.9h0M719.7 204.6h0M716.5 258.9h0M718.2 251.8h0M721.2 266.7h0M717.3 298.8h0M719.6 236.2h0M721.3 186.0h0M717.9 208.9h0M718.9 232.5h0M719.2 214.8h0M716.4 241.5h0M725.1 258.0h0M716.5 245.7h0M724.2 192.1h0M722.3 188.9h0M712.7 189.2h0M718.3 264.1h0M721.3 232.3h0M720.3 248.8h0M715.4 231.6h0M718.3 264.7h0M714.9 298.9h0M714.4 255.9h0M717.8 209.4h0M718.1 268.8h0M723.5 210.4h0M718.6 264.5h0M721.0 251.4h0M715.3 187.3h0M715.0 207.5h0M717.0 211.9h0M723.6 229.0h0M713.8 286.8h0M712.6 267.0h0M717.7 240.7h0M721.8 232.2h0M713.9 189.4h0M717.8 210.8h0M713.7 286.3h0M722.7 229.0h0M720.6 217.2h0M719.1 293.2h0M718.4 211.3h0M716.9 277.3h0M718.6 229.5h0M716.2 227.6h0M715.5 224.1h0M715.0 216.8h0M718.5 216.0h0M715.9 218.1h0M720.7 239.0h0M711.5 236.5h0M720.8 188.2h0M719.8 230.9h0M721.4 279.4h0M716.7 271.8h0M714.1 200.4h0M715.7 209.6h0M721.1 257.7h0M716.7 257.7h0M717.6 191.7h0M716.5 221.4h0M717.7 244.2h0M716.8 263.7h0M712.9 250.1h0M715.7 259.3h0M721.0 287.1h0M722.4 285.9h0M718.2 208.9h0M716.2 285.0h0M722.8 210.1h0M718.5 186.4h0M713.9 275.0h0M717.6 289.4h0M721.0 197.8h0M722.3 271.8h0M717.3 195.2h0M719.7 290.3h0M716.9 238.9h0M721.5 241.6h0M718.8 289.8h0M719.2 220.7h0M714.7 247.6h0M717.8 197.5h0M717.6 206.2h0M706.6 247.0h0M720.5 284.8h0M718.2 228.3h0M718.4 186.6h0M717.4 212.5h0M718.0 242.7h0M719.6 193.3h0M714.6 202.4h0M718.9 211.6h0M718.0 282.1h0M718.1 234.7h0M714.1 201.8h0M717.4 247.3h0M713.7 251.6h0M718.7 256.3h0M721.6 270.2h0M720.4 250.6h0M717.9 191.9h0M716.0 253.8h0M715.9 255.0h0M719.0 243.3h0M716.6 202.5h0M716.9 209.5h0M709.8 257.5h0M718.4 264.7h0M716.2 272.6h0M718.3 272.6h0M717.0 295.7h0M718.1 291.0h0M719.3 265.2h0M717.4 278.0h0M719.4 289.2h0M719.3 275.3h0M715.7 279.7h0M719.3 291.8h0M718.8 293.2h0M717.8 267.8h0M719.9 289.9h0M721.1 277.3h0M719.1 262.8h0M714.4 272.3h0M718.5 292.2h0M717.2 268.3h0M716.9 267.6h0M718.3 294.5h0M716.8 276.7h0M721.0 293.0h0M718.1 271.6h0M717.6 264.1h0M719.2 293.1h0M719.2 272.9h0M720.1 294.0h0M718.9 284.9h0M717.5 290.4h0M717.8 272.9h0M712.9 286.2h0M714.4 289.7h0M719.7 285.1h0M716.8 293.4h0M721.4 292.8h0M721.4 281.3h0M714.9 294.0h0M718.2 286.3h0M723.7 293.0h0M733.4 318.6h0M726.0 322.4h0M729.7 313.1h0M729.8 312.3h0M724.0 306.6h0M734.0 321.0h0M728.7 307.4h0M724.1 312.7h0M727.6 307.5h0M736.2 332.6h0M727.2 316.8h0M725.8 302.0h0M725.9 300.8h0M730.8 326.9h0M729.4 333.5h0M726.4 305.0h0M751.0 355.6h0M706.0 138.0h0M706.0 152.0h0M740.0 232.6h0M745.0 313.0h0M728.0 192.0h0M737.0 190.0h0M713.0 178.0h0M713.5 182.0h0M715.0 176.0h0" fill="none" stroke="#0c0c0c" stroke-width="2.80" stroke-linecap="round"/>
<line x1="702.1" y1="39.0" x2="702.1" y2="361.8" stroke="#111" stroke-width="2.00"/>
<line x1="535.4" y1="187.1" x2="886.0" y2="187.1" stroke="#111" stroke-width="1.10"/>
<line x1="716.5" y1="187.9" x2="750.3" y2="187.9" stroke="#111" stroke-width="1.70"/>
<line x1="535.4" y1="39.2" x2="535.4" y2="362.7" stroke="#111" stroke-width="2.00"/>
<line x1="534.4" y1="361.8" x2="886.5" y2="361.8" stroke="#111" stroke-width="2.00"/>
<line x1="530.2" y1="48.3" x2="535.4" y2="48.3" stroke="#111" stroke-width="1.40"/>
<line x1="530.2" y1="123.1" x2="535.4" y2="123.1" stroke="#111" stroke-width="1.40"/>
<line x1="530.2" y1="206.5" x2="535.4" y2="206.5" stroke="#111" stroke-width="1.40"/>
<line x1="530.2" y1="109.9" x2="535.4" y2="109.9" stroke="#111" stroke-width="1.40"/>
<line x1="530.2" y1="191.1" x2="535.4" y2="191.1" stroke="#111" stroke-width="1.40"/>
<line x1="530.2" y1="100.6" x2="535.4" y2="100.6" stroke="#111" stroke-width="1.40"/>
<line x1="530.2" y1="180.3" x2="535.4" y2="180.3" stroke="#111" stroke-width="1.40"/>
<line x1="530.2" y1="93.3" x2="535.4" y2="93.3" stroke="#111" stroke-width="1.40"/>
<line x1="530.2" y1="171.8" x2="535.4" y2="171.8" stroke="#111" stroke-width="1.40"/>
<line x1="530.2" y1="87.4" x2="535.4" y2="87.4" stroke="#111" stroke-width="1.40"/>
<line x1="530.2" y1="164.9" x2="535.4" y2="164.9" stroke="#111" stroke-width="1.40"/>
<line x1="530.2" y1="82.4" x2="535.4" y2="82.4" stroke="#111" stroke-width="1.40"/>
<line x1="530.2" y1="159.1" x2="535.4" y2="159.1" stroke="#111" stroke-width="1.40"/>
<line x1="530.2" y1="78.0" x2="535.4" y2="78.0" stroke="#111" stroke-width="1.40"/>
<line x1="530.2" y1="154.0" x2="535.4" y2="154.0" stroke="#111" stroke-width="1.40"/>
<line x1="530.2" y1="74.2" x2="535.4" y2="74.2" stroke="#111" stroke-width="1.40"/>
<line x1="530.2" y1="149.6" x2="535.4" y2="149.6" stroke="#111" stroke-width="1.40"/>
<line x1="530.2" y1="237.9" x2="535.4" y2="237.9" stroke="#111" stroke-width="1.40"/>
<line x1="530.2" y1="242.0" x2="535.4" y2="242.0" stroke="#111" stroke-width="1.40"/>
<line x1="530.2" y1="246.6" x2="535.4" y2="246.6" stroke="#111" stroke-width="1.40"/>
<line x1="530.2" y1="251.6" x2="535.4" y2="251.6" stroke="#111" stroke-width="1.40"/>
<line x1="530.2" y1="257.3" x2="535.4" y2="257.3" stroke="#111" stroke-width="1.40"/>
<line x1="530.2" y1="262.7" x2="535.4" y2="262.7" stroke="#111" stroke-width="1.40"/>
<line x1="530.2" y1="267.9" x2="535.4" y2="267.9" stroke="#111" stroke-width="1.40"/>
<line x1="530.2" y1="274.2" x2="535.4" y2="274.2" stroke="#111" stroke-width="1.40"/>
<line x1="530.2" y1="298.9" x2="535.4" y2="298.9" stroke="#111" stroke-width="1.40"/>
<line x1="530.2" y1="304.7" x2="535.4" y2="304.7" stroke="#111" stroke-width="1.40"/>
<line x1="530.2" y1="310.0" x2="535.4" y2="310.0" stroke="#111" stroke-width="1.40"/>
<line x1="530.2" y1="316.1" x2="535.4" y2="316.1" stroke="#111" stroke-width="1.40"/>
<line x1="530.2" y1="321.4" x2="535.4" y2="321.4" stroke="#111" stroke-width="1.40"/>
<line x1="530.2" y1="326.7" x2="535.4" y2="326.7" stroke="#111" stroke-width="1.40"/>
<line x1="530.2" y1="331.5" x2="535.4" y2="331.5" stroke="#111" stroke-width="1.40"/>
<line x1="530.2" y1="336.2" x2="535.4" y2="336.2" stroke="#111" stroke-width="1.40"/>
<line x1="526.1" y1="70.8" x2="535.4" y2="70.8" stroke="#111" stroke-width="1.60"/>
<line x1="526.1" y1="145.6" x2="535.4" y2="145.6" stroke="#111" stroke-width="1.60"/>
<line x1="526.1" y1="232.7" x2="535.4" y2="232.7" stroke="#111" stroke-width="1.60"/>
<line x1="526.1" y1="340.0" x2="535.4" y2="340.0" stroke="#111" stroke-width="1.60"/>
<rect x="529.6" y="279.4" width="5.8" height="13.4" fill="#151515"/>
<line x1="527.4" y1="286.1" x2="535.4" y2="286.1" stroke="#111" stroke-width="1.40"/>
<text x="500.5" y="75.9" font-size="24" text-anchor="start" >10</text>
<text x="524.5" y="65.1" font-size="12" text-anchor="start" >5</text>
<text x="500.5" y="150.0" font-size="24" text-anchor="start" >10</text>
<text x="524.5" y="139.2" font-size="12" text-anchor="start" >4</text>
<text x="499.7" y="236.9" font-size="24" text-anchor="start" >10</text>
<text x="523.7" y="226.1" font-size="12" text-anchor="start" >3</text>
<text x="519.2" y="293.6" font-size="24" text-anchor="middle" >0</text>
<text x="496.6" y="344.4" font-size="24" text-anchor="start" >10</text>
<text x="520.6" y="333.6" font-size="12" text-anchor="start" >3</text>
<line x1="482.5" y1="338.8" x2="494.1" y2="338.8" stroke="#111" stroke-width="1.70"/>
<line x1="608.2" y1="361.8" x2="608.2" y2="366.8" stroke="#111" stroke-width="1.50"/>
<line x1="615.9" y1="361.8" x2="615.9" y2="366.8" stroke="#111" stroke-width="1.50"/>
<line x1="623.6" y1="361.8" x2="623.6" y2="366.8" stroke="#111" stroke-width="1.50"/>
<line x1="632.4" y1="361.8" x2="632.4" y2="366.8" stroke="#111" stroke-width="1.50"/>
<line x1="644.1" y1="361.8" x2="644.1" y2="366.8" stroke="#111" stroke-width="1.50"/>
<line x1="656.0" y1="361.8" x2="656.0" y2="366.8" stroke="#111" stroke-width="1.50"/>
<line x1="669.2" y1="361.8" x2="669.2" y2="366.8" stroke="#111" stroke-width="1.50"/>
<line x1="683.1" y1="361.8" x2="683.1" y2="366.8" stroke="#111" stroke-width="1.50"/>
<line x1="740.7" y1="361.8" x2="740.7" y2="366.8" stroke="#111" stroke-width="1.50"/>
<line x1="753.8" y1="361.8" x2="753.8" y2="366.8" stroke="#111" stroke-width="1.50"/>
<line x1="767.9" y1="361.8" x2="767.9" y2="366.8" stroke="#111" stroke-width="1.50"/>
<line x1="779.9" y1="361.8" x2="779.9" y2="366.8" stroke="#111" stroke-width="1.50"/>
<line x1="790.1" y1="361.8" x2="790.1" y2="366.8" stroke="#111" stroke-width="1.50"/>
<line x1="800.1" y1="361.8" x2="800.1" y2="366.8" stroke="#111" stroke-width="1.50"/>
<line x1="808.1" y1="361.8" x2="808.1" y2="366.8" stroke="#111" stroke-width="1.50"/>
<line x1="815.5" y1="361.8" x2="815.5" y2="366.8" stroke="#111" stroke-width="1.50"/>
<line x1="862.0" y1="361.8" x2="862.0" y2="366.8" stroke="#111" stroke-width="1.50"/>
<line x1="881.5" y1="361.8" x2="881.5" y2="366.8" stroke="#111" stroke-width="1.50"/>
<line x1="822.2" y1="361.8" x2="822.2" y2="369.8" stroke="#111" stroke-width="1.60"/>
<rect x="696.6" y="361.8" width="29.9" height="5.6" fill="#151515"/>
<line x1="697.2" y1="361.8" x2="697.2" y2="370.8" stroke="#111" stroke-width="1.40"/>
<line x1="725.9" y1="361.8" x2="725.9" y2="370.8" stroke="#111" stroke-width="1.40"/>
<line x1="711.5" y1="361.8" x2="711.5" y2="369.8" stroke="#111" stroke-width="1.20"/>
<text x="551.0" y="412.0" font-size="29.5" text-anchor="start" textLength="68.4" lengthAdjust="spacingAndGlyphs" >JC-10</text>
<text x="627.8" y="412.0" font-size="29.5" text-anchor="start" textLength="102.9" lengthAdjust="spacingAndGlyphs" >monomer</text>
<text x="739.9" y="412.0" font-size="29.5" text-anchor="start" textLength="129.7" lengthAdjust="spacingAndGlyphs" >form(green)</text>
<text x="678.5" y="443.5" font-size="27" text-anchor="middle" >3 h</text>
<g transform="translate(493.3 328.5) rotate(-90)">
<text x="0.0" y="0.0" font-size="29.5" text-anchor="start" textLength="63.5" lengthAdjust="spacingAndGlyphs" >JC-10</text>
<text x="70.5" y="0.0" font-size="29.5" text-anchor="start" textLength="110.0" lengthAdjust="spacingAndGlyphs" >monomer</text>
<text x="187.8" y="0.0" font-size="29.5" text-anchor="start" textLength="102.3" lengthAdjust="spacingAndGlyphs" >form(red)</text>
</g>
<text x="711.8" y="388.6" font-size="24" text-anchor="middle" >0</text>
<text x="810.0" y="385.5" font-size="24" text-anchor="start" >10</text>
<text x="834.0" y="374.7" font-size="12" text-anchor="start" >5</text>
</g>
<g>
<path d="M302.6 583.5h0M296.3 581.9h0M314.0 606.2h0M331.9 582.6h0M310.4 590.4h0M315.2 596.9h0M300.4 594.3h0M313.8 587.6h0M287.8 599.6h0M301.7 604.2h0M327.2 592.4h0M314.7 612.8h0M287.0 609.6h0M300.6 591.9h0M320.1 594.8h0M304.3 595.0h0M308.7 602.3h0M295.4 605.7h0M306.2 598.5h0M275.3 600.5h0M316.7 594.3h0M308.4 607.9h0M301.3 620.6h0M314.1 597.6h0M310.6 603.7h0M306.4 606.1h0M311.5 595.2h0M307.4 594.1h0M303.2 589.7h0M295.1 608.8h0M289.2 600.6h0M318.7 581.8h0M309.0 603.2h0M300.0 614.2h0M293.3 614.5h0M299.3 595.3h0M295.2 600.9h0M314.0 597.5h0M305.9 606.2h0M316.0 601.7h0M299.8 600.8h0M305.7 587.4h0M323.0 598.7h0M319.9 593.5h0M303.4 594.0h0M307.8 595.5h0M298.3 609.1h0M297.4 590.7h0M329.0 598.7h0M305.7 582.5h0M286.5 597.7h0M301.5 610.3h0M306.2 607.1h0M310.9 582.1h0M305.6 598.0h0M306.9 601.7h0M300.6 580.9h0M299.1 600.7h0M306.3 618.0h0M305.9 603.5h0M316.4 598.8h0M302.0 603.2h0M290.2 598.5h0M300.9 606.1h0M280.8 599.0h0M315.1 612.4h0M305.6 593.7h0M299.5 595.6h0M307.5 592.7h0M307.8 588.4h0M302.5 600.7h0M299.7 602.7h0M318.5 595.5h0M298.9 597.3h0M307.9 599.4h0M302.6 599.0h0M301.9 611.2h0M306.7 597.0h0M313.3 590.5h0M303.6 608.0h0M302.0 599.9h0M311.5 595.7h0M314.5 592.5h0M299.5 593.7h0M299.9 600.2h0M296.1 600.4h0M306.9 612.4h0M306.0 605.4h0M308.1 592.6h0M320.5 585.3h0M314.8 592.2h0M318.7 579.6h0M305.0 602.2h0M317.1 585.2h0M289.5 583.1h0M314.8 596.1h0M303.9 603.7h0M295.6 606.4h0M287.7 593.9h0M316.9 604.1h0M303.0 609.4h0M310.9 596.7h0M292.1 597.0h0M304.8 596.2h0M303.3 592.8h0M317.5 593.2h0M307.2 608.1h0M301.4 594.5h0M317.6 589.7h0M316.3 609.6h0M305.6 584.2h0M301.9 591.9h0M291.5 609.6h0M307.6 596.3h0M288.0 601.9h0M293.3 594.2h0M302.7 593.6h0M301.8 602.3h0M296.2 611.7h0M303.2 586.7h0M309.4 590.8h0M302.5 592.8h0M298.5 612.4h0M304.1 594.1h0M305.9 597.2h0M296.6 588.8h0M299.1 584.4h0M306.8 603.6h0M314.5 592.8h0M306.3 590.5h0M290.2 618.2h0M297.5 599.7h0M299.3 600.7h0M295.6 596.6h0M302.8 596.1h0M324.9 599.9h0M292.8 599.8h0M314.0 584.4h0M308.8 589.5h0M313.9 583.5h0M305.3 602.1h0M322.1 585.4h0M308.1 585.7h0M303.7 592.6h0M300.9 608.2h0M303.7 592.9h0M296.4 623.1h0M299.7 600.7h0M301.6 615.1h0M317.3 606.7h0M310.6 604.8h0M309.0 595.9h0M308.3 596.1h0M290.4 600.4h0M309.3 600.4h0M317.9 608.6h0M329.5 604.9h0M314.7 600.6h0M291.6 613.6h0M315.4 587.1h0M306.0 603.1h0M300.3 613.0h0M285.9 603.3h0M286.5 594.9h0M297.5 593.3h0M324.8 592.4h0M309.0 605.1h0M312.8 580.3h0M301.7 594.1h0M300.4 595.6h0M301.7 589.4h0M290.6 605.9h0M318.2 595.1h0M300.6 603.8h0M300.0 598.1h0M294.6 584.1h0M312.5 580.4h0M307.2 608.8h0M304.2 596.2h0M291.8 604.6h0M300.0 606.3h0M317.8 591.7h0M296.6 593.2h0M307.5 583.7h0M301.4 622.0h0M304.9 613.9h0M323.2 598.5h0M293.4 623.1h0M317.9 599.3h0M310.2 605.1h0M310.0 594.6h0M311.6 598.1h0M310.3 605.4h0M298.3 607.4h0M302.9 596.9h0M307.5 603.8h0M304.2 601.8h0M304.0 598.3h0M301.2 582.4h0M301.3 606.6h0M322.2 604.4h0M319.6 597.2h0M303.1 602.8h0M297.8 612.9h0M298.7 592.5h0M316.2 591.7h0M293.5 615.7h0M305.9 600.9h0M305.9 614.8h0M314.5 598.3h0M297.7 596.2h0M319.5 600.0h0M299.9 600.0h0M307.8 606.0h0M310.8 609.9h0M302.6 592.2h0M300.5 592.3h0M313.1 604.4h0M291.1 615.1h0M297.8 594.7h0M315.1 594.4h0M299.6 596.5h0M315.6 605.9h0M295.0 606.4h0M308.0 608.8h0M301.8 603.1h0M310.5 577.3h0M310.9 571.3h0M305.7 601.1h0M314.2 595.8h0M299.5 601.7h0M324.6 597.9h0M288.4 605.1h0M286.1 613.0h0M309.3 590.9h0M319.6 583.8h0M324.3 595.0h0M294.3 592.5h0M290.4 592.2h0M304.8 603.2h0M297.9 592.4h0M304.1 597.1h0M310.6 609.0h0M295.8 621.0h0M306.3 589.8h0M305.9 602.0h0M320.2 580.7h0M281.3 603.7h0M307.5 589.3h0M299.1 602.1h0M299.7 587.1h0M298.3 603.3h0M310.3 594.5h0M289.5 595.1h0M313.6 581.6h0M297.5 573.4h0M315.0 601.9h0M312.0 603.2h0M330.3 578.1h0M298.6 618.8h0M304.7 590.2h0M294.5 593.9h0M299.3 585.8h0M303.3 599.6h0M290.5 612.8h0M309.7 593.8h0M316.2 590.1h0M308.0 600.2h0M285.6 592.8h0M304.5 606.0h0M324.4 602.7h0M322.6 609.7h0M301.3 610.7h0M306.3 607.4h0M309.8 586.5h0M325.0 588.6h0M314.3 598.8h0M292.0 594.6h0M298.7 605.6h0M304.3 603.4h0M304.3 598.9h0M289.3 600.1h0M311.6 585.7h0M292.8 604.2h0M271.2 592.8h0M308.5 591.1h0M307.9 609.5h0M300.8 591.2h0M303.6 614.8h0M330.7 584.7h0M297.2 595.8h0M309.8 597.5h0M302.5 597.6h0M316.3 592.6h0M310.6 594.9h0M310.5 596.1h0M298.1 605.8h0M291.2 594.7h0M301.1 604.1h0M309.1 593.5h0M330.6 579.8h0M296.9 581.6h0M296.2 598.4h0M300.3 599.4h0M299.9 602.9h0M309.1 600.1h0M285.3 590.3h0M300.9 595.3h0M320.7 599.5h0M290.1 599.1h0M318.4 596.3h0M308.3 592.4h0M321.8 584.2h0M291.2 604.0h0M313.5 609.2h0M302.7 614.2h0M303.9 611.0h0M315.6 582.0h0M330.2 601.5h0M301.7 599.4h0M306.2 587.1h0M341.0 593.5h0M305.1 598.7h0M316.9 588.6h0M300.1 601.0h0M294.2 597.9h0M305.3 606.9h0M300.6 605.3h0M300.3 591.9h0M297.0 600.3h0M316.5 597.1h0M316.4 584.0h0M301.4 610.4h0M307.8 596.7h0M298.6 602.3h0M313.3 596.2h0M303.0 600.7h0M295.1 608.7h0M309.1 596.7h0M282.5 608.0h0M302.6 591.9h0M294.7 593.3h0M303.5 606.9h0M307.2 588.0h0M318.1 588.7h0M311.5 587.0h0M304.6 591.5h0M303.9 615.0h0M320.0 578.7h0M296.6 593.9h0M310.1 596.5h0M296.7 616.2h0M307.4 597.7h0M306.6 595.2h0M306.5 579.3h0M312.2 602.6h0M287.9 592.4h0M302.8 593.5h0M296.1 593.9h0M294.5 604.0h0M302.9 608.6h0M321.1 583.9h0M290.0 609.7h0M296.3 609.0h0M310.0 597.2h0M300.4 614.6h0M285.2 602.1h0M289.7 596.0h0M304.2 596.7h0M299.7 605.4h0M289.4 603.8h0M298.0 607.4h0M298.2 591.3h0M300.2 605.0h0M296.5 604.2h0M308.3 599.6h0M303.0 606.6h0M283.4 608.3h0M271.1 594.2h0M291.1 600.5h0M281.1 607.4h0M289.4 600.1h0M318.4 596.1h0M292.6 600.6h0M280.1 613.8h0M284.6 603.5h0M313.4 592.8h0M315.6 594.8h0M324.9 585.0h0M304.6 588.9h0M301.0 599.0h0M312.1 601.0h0M303.1 603.5h0M291.3 607.8h0M294.2 602.2h0M300.9 606.6h0M301.8 585.5h0M311.4 584.0h0M298.2 602.0h0M309.1 599.9h0M303.9 612.9h0M312.2 598.3h0M292.9 597.9h0M298.5 594.0h0M308.1 600.1h0M315.6 581.5h0M311.9 593.9h0M312.6 596.2h0M309.5 589.7h0M299.9 605.2h0M302.4 599.8h0M301.3 614.7h0M304.0 591.8h0M322.0 602.7h0M306.0 584.3h0M306.6 607.5h0M314.9 589.5h0M314.0 584.5h0M289.7 611.4h0M306.8 597.6h0M300.9 600.3h0M309.4 583.2h0M281.7 608.2h0M289.5 602.8h0M295.3 612.5h0M315.6 610.3h0M311.6 591.0h0M308.2 588.1h0M302.8 590.4h0M314.6 606.7h0M314.1 578.9h0M310.6 589.4h0M298.1 610.6h0M300.5 603.6h0M276.4 608.6h0M314.6 590.8h0M301.0 598.9h0M305.5 584.8h0M303.2 592.6h0M303.3 588.8h0M293.7 611.2h0M284.4 608.7h0M302.3 597.8h0M302.6 597.5h0M296.1 585.3h0M309.8 601.5h0M320.4 583.2h0M304.8 611.0h0M307.0 601.3h0M294.0 619.5h0M305.3 592.0h0M295.6 607.5h0M307.9 593.7h0M300.1 599.9h0M305.2 595.7h0M326.1 599.6h0M299.9 617.1h0M305.8 598.8h0M302.6 608.2h0M322.6 588.5h0M312.9 591.6h0M318.3 605.2h0M298.9 602.6h0M290.7 608.3h0M309.8 592.8h0M307.6 596.7h0M295.7 604.1h0M309.4 605.0h0M305.9 607.0h0M296.5 591.7h0M306.5 580.7h0M295.4 609.6h0M303.7 589.4h0M300.0 600.7h0M297.0 595.9h0M321.8 601.2h0M312.7 592.2h0M282.9 596.7h0M297.9 604.3h0M306.6 599.7h0M304.4 576.7h0M285.2 610.4h0M301.0 612.2h0M303.5 603.9h0M304.9 613.9h0M305.5 610.4h0M304.7 594.3h0M305.1 602.1h0M308.3 615.1h0M296.5 605.3h0M287.2 614.9h0M303.0 604.6h0M301.9 589.8h0M301.3 598.0h0M312.5 593.8h0M303.0 593.9h0M319.6 585.6h0M292.0 616.9h0M293.9 606.4h0M291.0 602.1h0M310.7 599.1h0M317.4 589.5h0M309.2 611.8h0M312.4 596.8h0M307.4 591.1h0M324.4 574.3h0M295.8 610.3h0M314.3 615.7h0M293.1 595.0h0M305.6 597.3h0M284.9 604.5h0M304.7 608.2h0M311.9 594.0h0M323.0 585.7h0M322.5 581.3h0M290.1 613.6h0M304.2 600.4h0M286.7 617.6h0M292.3 603.6h0M303.0 589.5h0M302.3 593.4h0M297.9 610.0h0M302.5 594.8h0M327.8 575.2h0M304.3 605.4h0M321.0 562.5h0M297.6 593.7h0M303.7 594.6h0M289.7 591.4h0M313.7 601.1h0M298.1 595.3h0M301.1 604.0h0M315.5 597.2h0M297.1 602.9h0M289.7 598.2h0M296.0 603.2h0M309.8 588.8h0M290.6 603.7h0M304.1 592.5h0M315.9 599.6h0M302.9 607.4h0M304.8 593.5h0M321.7 600.0h0M303.7 592.2h0M310.8 595.9h0M309.1 595.4h0M308.8 608.7h0M316.8 592.3h0M308.3 591.5h0M292.0 614.3h0M309.9 599.5h0M309.4 606.0h0M310.8 598.8h0M305.9 597.7h0M302.4 594.1h0M307.6 606.0h0M307.7 592.5h0M297.0 596.9h0M299.3 609.6h0M322.0 579.0h0M317.8 596.8h0M289.6 598.1h0M309.9 593.9h0M310.8 601.1h0M297.7 609.7h0M298.4 612.6h0M302.5 595.9h0M314.6 599.2h0M300.6 611.7h0M305.1 594.4h0M307.5 608.9h0M301.7 603.0h0M313.6 596.2h0M294.5 596.9h0M283.4 605.6h0M294.4 604.3h0M298.7 595.3h0M312.5 599.7h0M304.1 595.7h0M299.2 609.8h0M303.5 601.8h0M287.3 610.1h0M302.4 604.6h0M307.6 577.3h0M306.9 605.5h0M299.6 597.2h0M313.8 599.8h0M299.0 587.0h0M298.8 605.4h0M305.4 608.4h0M294.4 611.9h0M295.5 584.7h0M300.5 600.3h0M297.9 616.3h0M306.1 611.1h0M304.4 598.4h0M310.2 591.4h0M307.0 607.3h0M314.5 599.1h0M276.1 606.9h0M306.4 597.5h0M304.1 618.6h0M292.4 607.5h0M311.5 592.9h0M305.4 600.4h0M319.4 602.6h0M313.8 598.5h0M296.8 593.8h0M303.4 599.7h0M309.5 602.9h0M320.4 611.9h0M289.2 601.2h0M332.8 589.8h0M302.0 601.4h0M306.1 583.3h0M286.6 606.8h0M277.9 600.5h0M300.9 608.4h0M309.7 590.3h0M313.8 592.1h0M296.6 614.5h0M305.4 609.1h0M330.1 599.4h0M298.2 590.4h0M304.4 592.3h0M304.6 601.7h0M331.6 590.8h0M283.0 604.6h0M296.3 617.3h0M302.4 616.5h0M320.3 594.0h0M324.7 607.0h0M307.1 584.5h0M296.5 610.8h0M304.4 600.1h0M306.6 614.3h0M307.9 590.5h0M309.0 594.5h0M297.7 590.9h0M295.1 593.1h0M284.9 561.7h0M289.3 563.4h0M273.8 583.0h0M272.1 582.5h0M286.3 582.6h0M268.2 571.4h0M273.6 583.7h0M282.0 567.9h0M281.1 570.5h0M283.6 567.1h0M280.3 561.6h0M276.6 560.4h0M274.0 561.9h0M289.8 572.7h0M267.8 557.8h0M284.7 559.5h0M281.4 561.8h0M266.9 570.4h0M271.0 574.9h0M287.2 574.9h0M275.7 584.9h0M290.8 581.7h0M276.6 588.0h0M270.2 577.3h0M279.8 569.3h0M274.8 578.4h0M272.0 573.2h0M284.9 572.4h0M287.4 568.5h0M283.9 576.3h0M273.5 584.1h0M275.4 572.0h0M278.2 579.1h0M276.2 565.8h0M282.2 568.4h0M282.3 554.4h0M271.6 561.5h0M281.8 559.2h0M286.0 562.9h0M278.8 564.2h0M288.3 574.8h0M272.5 561.8h0M284.0 575.9h0M270.4 579.0h0M282.7 571.3h0M278.3 581.1h0M295.3 571.5h0M274.6 568.4h0M267.1 572.2h0M289.6 563.5h0M274.6 563.6h0M286.8 579.6h0M277.2 573.8h0M278.7 570.0h0M281.7 576.6h0M268.3 583.9h0M277.7 579.4h0M275.9 572.2h0M280.1 576.8h0M275.1 578.4h0M288.5 569.3h0M279.9 581.4h0M276.8 573.2h0M278.8 569.9h0M287.0 579.7h0M294.7 579.3h0M277.3 559.5h0M272.0 563.2h0M284.9 584.9h0M278.2 569.5h0M278.0 564.2h0M266.9 574.6h0M301.7 557.6h0M280.3 576.6h0M274.1 579.2h0M285.7 569.5h0M268.8 559.4h0M275.8 568.4h0M279.4 566.0h0M284.7 578.7h0M289.8 576.9h0M279.2 565.3h0M282.7 566.1h0M276.7 568.6h0M283.0 585.8h0M275.1 557.6h0M276.4 574.9h0M286.7 568.9h0M276.1 567.2h0M279.3 564.2h0M272.1 572.4h0M291.8 564.9h0M270.2 577.5h0M274.4 591.4h0M271.4 561.5h0M288.2 578.0h0M283.0 575.1h0M270.1 586.8h0M290.3 569.6h0M278.2 561.3h0M291.9 578.0h0M292.1 565.0h0M288.4 572.5h0M270.4 564.1h0M289.5 560.1h0M282.7 577.4h0M286.9 565.3h0M269.5 556.5h0M287.9 578.0h0M274.3 564.1h0M284.4 555.2h0M287.0 564.2h0M275.3 580.1h0M283.4 568.2h0M291.5 570.8h0M285.0 579.6h0M276.3 578.7h0M281.7 564.6h0M272.3 576.8h0M273.3 572.6h0M286.8 563.1h0M271.7 565.0h0M281.5 575.7h0M269.5 576.3h0M276.6 571.9h0M272.8 565.9h0M284.4 566.5h0M285.8 586.5h0M284.7 583.2h0M275.2 558.7h0M293.2 578.2h0M292.6 558.0h0M271.9 567.0h0M288.1 563.1h0M287.1 572.2h0M272.2 552.9h0M284.0 568.5h0M286.5 564.2h0M267.4 569.1h0M283.4 554.3h0M276.2 579.6h0M281.6 580.9h0M268.7 574.1h0M278.6 566.4h0M276.1 574.4h0M292.7 575.8h0M279.9 563.5h0M277.8 557.5h0M275.4 563.7h0M278.3 573.3h0M277.2 582.0h0M280.4 566.6h0M281.2 570.3h0M273.1 571.6h0M282.1 576.6h0M291.7 575.3h0M273.2 570.3h0M273.5 569.2h0M285.2 550.5h0M297.3 568.6h0M282.1 565.1h0M279.9 573.8h0M282.6 579.4h0M280.5 570.3h0M289.0 560.9h0M286.9 574.1h0M280.1 577.0h0M283.1 585.5h0M279.8 558.0h0M283.9 580.8h0M287.6 583.4h0M331.5 581.8h0M319.8 586.1h0M335.1 568.0h0M299.1 580.9h0M324.7 580.6h0M353.2 569.6h0M334.5 580.2h0M323.4 562.2h0M304.4 565.2h0M328.2 572.7h0M332.9 576.6h0M304.9 577.8h0M334.3 581.9h0M315.5 586.9h0M316.5 579.3h0M329.9 573.9h0M310.3 594.3h0M287.3 581.4h0M326.6 578.4h0M323.2 570.8h0M288.9 600.3h0M324.5 575.6h0M320.4 570.9h0M329.8 583.4h0M296.5 593.5h0M298.7 578.1h0M319.3 579.8h0M292.5 580.5h0M337.2 569.8h0M297.1 593.8h0M355.9 583.0h0M323.2 582.6h0M339.3 589.3h0M317.8 591.0h0M340.8 579.8h0M320.6 578.4h0M335.0 570.7h0M341.1 569.3h0M324.2 583.6h0M347.0 564.8h0M329.7 565.0h0M327.0 576.3h0M326.6 581.6h0M308.2 589.7h0M319.0 585.1h0M334.2 569.1h0M312.7 586.6h0M284.9 588.2h0M339.9 577.0h0M328.5 571.1h0M303.2 599.7h0M315.0 576.6h0M318.1 580.4h0M347.9 579.0h0M319.2 590.2h0M332.0 576.8h0M321.1 566.7h0M275.7 576.4h0M341.3 571.6h0M350.0 575.2h0M330.6 577.9h0M318.7 581.3h0M320.5 579.0h0M316.8 587.5h0M325.9 575.3h0M329.9 580.0h0M327.9 575.2h0M351.9 586.4h0M346.8 586.0h0M310.7 590.9h0M318.8 584.6h0M318.5 585.4h0M310.9 594.8h0M340.2 578.7h0M297.3 597.6h0M340.3 577.3h0M317.8 583.0h0M362.5 575.5h0M310.5 582.4h0M311.4 584.1h0M330.9 576.8h0M314.3 575.9h0M311.8 591.6h0M305.7 593.8h0M300.9 591.4h0M299.4 586.9h0M317.6 592.4h0M287.6 586.9h0M305.4 599.0h0M306.6 586.3h0M330.8 570.2h0M298.6 594.4h0M313.9 573.7h0M329.5 573.2h0M321.1 557.8h0M320.9 592.7h0M331.2 577.8h0M314.9 574.3h0M312.6 576.4h0M329.8 580.0h0M322.8 580.7h0M339.1 581.1h0M342.3 581.2h0M327.6 569.3h0M321.1 572.1h0M330.6 576.6h0M309.7 589.9h0M312.7 580.5h0M347.8 571.3h0M327.0 577.8h0M329.8 573.9h0M304.9 574.4h0M324.1 589.5h0M333.1 569.3h0M324.9 576.7h0M319.8 591.5h0M325.0 583.7h0M330.8 573.9h0M315.2 576.8h0M299.9 583.1h0M322.4 571.8h0M327.2 570.8h0M326.6 564.8h0M325.4 593.0h0M325.6 586.2h0M343.5 590.3h0M340.4 574.4h0M291.9 578.4h0M362.5 568.3h0M333.2 569.3h0M334.8 564.9h0M299.6 596.0h0M345.5 572.8h0M332.1 586.1h0M339.8 588.1h0M320.1 574.4h0M322.2 575.4h0M282.3 592.3h0M330.5 578.5h0M293.8 580.2h0M354.3 581.6h0M310.1 579.8h0M325.5 588.0h0M326.4 584.3h0M329.1 602.9h0M335.1 585.3h0M368.2 567.6h0M304.7 572.4h0M358.1 570.8h0M306.3 593.9h0M334.8 579.3h0M350.6 586.2h0M334.7 586.8h0M326.0 576.3h0M291.2 581.5h0M298.1 583.8h0M335.9 569.4h0M301.7 585.0h0M325.1 567.0h0M303.2 593.7h0M317.8 587.5h0M319.3 581.6h0M332.6 579.0h0M333.7 571.5h0M344.5 574.9h0M333.8 572.7h0M297.2 586.5h0M319.4 568.3h0M333.4 584.8h0M312.3 583.1h0M325.3 579.6h0M314.2 579.5h0M301.4 584.5h0M294.1 577.2h0M299.3 587.8h0M305.4 581.8h0M320.5 585.1h0M304.3 589.1h0M312.8 577.7h0M291.7 590.1h0M325.4 576.4h0M342.0 568.5h0M349.7 574.0h0M323.9 581.2h0M343.5 570.6h0M335.5 584.3h0M345.5 561.2h0M299.8 589.1h0M352.9 582.4h0M297.7 596.0h0M359.2 570.7h0M336.9 573.7h0M335.0 578.6h0M308.9 588.6h0M313.9 579.1h0M317.6 579.4h0M332.2 572.9h0M326.5 567.5h0M340.0 560.4h0M316.1 591.2h0M318.3 571.7h0M298.0 584.0h0M346.6 557.9h0M321.8 591.7h0M327.6 573.3h0M325.2 572.2h0M332.4 579.1h0M337.0 583.4h0M341.0 580.4h0M315.1 578.7h0M326.7 576.0h0M290.4 582.2h0M303.0 593.4h0M331.5 590.4h0M365.1 570.0h0M319.8 580.7h0M306.3 581.1h0M327.8 587.6h0M322.0 571.6h0M311.7 582.1h0M333.3 581.3h0M333.9 568.7h0M326.4 577.2h0M318.7 571.1h0M292.8 593.5h0M320.0 582.3h0M341.4 578.6h0M345.5 581.4h0M331.2 575.7h0M296.8 594.9h0M345.3 567.9h0M318.2 579.1h0M306.2 578.8h0M353.8 563.8h0M326.6 583.1h0M311.4 593.0h0M317.5 579.6h0M308.8 582.8h0M329.5 574.1h0M308.6 595.7h0M295.3 574.4h0M300.2 576.9h0M329.4 582.6h0M343.4 564.1h0M339.0 588.9h0M301.0 578.5h0M319.9 581.6h0M315.0 576.1h0M295.5 584.2h0M303.9 571.3h0M315.4 583.0h0M292.4 567.1h0M313.9 588.8h0M329.6 588.5h0M286.3 597.0h0M310.4 594.1h0M316.8 591.3h0M309.9 577.8h0M343.3 583.6h0M354.9 571.9h0M337.8 568.9h0M356.2 559.8h0M349.8 566.7h0M329.7 567.8h0M348.3 576.8h0M347.5 568.7h0M326.6 569.5h0M346.6 570.8h0M352.9 557.3h0M375.4 559.8h0M335.3 574.2h0M327.1 574.9h0M361.1 553.7h0M360.2 561.8h0M365.0 569.0h0M365.5 566.6h0M337.9 555.5h0M360.3 572.0h0M338.9 567.8h0M369.2 557.5h0M352.1 573.3h0M344.3 565.5h0M349.3 570.5h0M379.2 554.0h0M353.0 572.8h0M334.2 562.5h0M351.1 560.1h0M358.6 564.8h0M357.5 560.3h0M369.2 551.6h0M355.5 565.6h0M341.6 561.1h0M365.1 571.2h0M346.6 571.6h0M360.6 558.7h0M371.7 568.4h0M368.6 550.7h0M365.5 571.2h0M352.1 566.4h0M290.1 650.8h0M281.7 652.4h0M276.2 643.3h0M273.7 646.5h0M287.0 646.9h0M287.1 652.7h0M281.6 624.1h0M297.2 633.7h0M266.1 652.6h0M280.8 660.0h0M278.1 649.2h0M294.4 653.7h0M275.0 662.3h0M289.6 665.7h0M273.0 678.6h0M282.5 682.3h0M306.5 695.8h0M271.6 694.9h0M275.0 703.0h0M293.1 706.7h0M271.6 713.8h0M282.5 712.4h0M287.3 711.0h0M291.6 713.8h0M277.3 718.7h0M281.6 720.1h0M285.9 720.1h0M278.8 727.9h0M280.2 723.6h0M285.9 725.9h0M291.1 725.9h0M283.0 733.0h0M293.1 733.0h0M293.1 736.7h0M303.1 742.5h0M310.3 747.9h0M307.4 755.4h0M316.0 760.8h0M276.7 719.3h0M283.6 733.3h0M308.2 755.4h0M235.8 558.0h0M228.3 567.5h0M228.3 571.5h0M334.0 546.0h0M336.0 552.0h0M330.0 551.0h0M357.0 560.0h0M369.0 562.0h0M382.0 563.5h0M376.0 577.0h0M263.0 556.0h0M263.0 563.0h0M263.0 588.0h0M265.0 592.0h0" fill="none" stroke="#0c0c0c" stroke-width="2.90" stroke-linecap="round"/>
<line x1="267.3" y1="471.5" x2="267.3" y2="795.1" stroke="#111" stroke-width="2.00"/>
<line x1="101.2" y1="621.2" x2="453.5" y2="621.2" stroke="#111" stroke-width="2.00"/>
<line x1="101.2" y1="471.5" x2="101.2" y2="796.0" stroke="#111" stroke-width="2.00"/>
<line x1="100.2" y1="795.1" x2="451.0" y2="795.1" stroke="#111" stroke-width="1.70"/>
<line x1="96.0" y1="482.4" x2="101.2" y2="482.4" stroke="#111" stroke-width="1.40"/>
<line x1="96.0" y1="555.8" x2="101.2" y2="555.8" stroke="#111" stroke-width="1.40"/>
<line x1="96.0" y1="639.0" x2="101.2" y2="639.0" stroke="#111" stroke-width="1.40"/>
<line x1="96.0" y1="542.9" x2="101.2" y2="542.9" stroke="#111" stroke-width="1.40"/>
<line x1="96.0" y1="623.6" x2="101.2" y2="623.6" stroke="#111" stroke-width="1.40"/>
<line x1="96.0" y1="533.7" x2="101.2" y2="533.7" stroke="#111" stroke-width="1.40"/>
<line x1="96.0" y1="612.7" x2="101.2" y2="612.7" stroke="#111" stroke-width="1.40"/>
<line x1="96.0" y1="526.6" x2="101.2" y2="526.6" stroke="#111" stroke-width="1.40"/>
<line x1="96.0" y1="604.2" x2="101.2" y2="604.2" stroke="#111" stroke-width="1.40"/>
<line x1="96.0" y1="520.8" x2="101.2" y2="520.8" stroke="#111" stroke-width="1.40"/>
<line x1="96.0" y1="597.3" x2="101.2" y2="597.3" stroke="#111" stroke-width="1.40"/>
<line x1="96.0" y1="515.9" x2="101.2" y2="515.9" stroke="#111" stroke-width="1.40"/>
<line x1="96.0" y1="591.4" x2="101.2" y2="591.4" stroke="#111" stroke-width="1.40"/>
<line x1="96.0" y1="511.6" x2="101.2" y2="511.6" stroke="#111" stroke-width="1.40"/>
<line x1="96.0" y1="586.4" x2="101.2" y2="586.4" stroke="#111" stroke-width="1.40"/>
<line x1="96.0" y1="507.9" x2="101.2" y2="507.9" stroke="#111" stroke-width="1.40"/>
<line x1="96.0" y1="581.9" x2="101.2" y2="581.9" stroke="#111" stroke-width="1.40"/>
<line x1="96.0" y1="670.7" x2="101.2" y2="670.7" stroke="#111" stroke-width="1.40"/>
<line x1="96.0" y1="674.9" x2="101.2" y2="674.9" stroke="#111" stroke-width="1.40"/>
<line x1="96.0" y1="679.7" x2="101.2" y2="679.7" stroke="#111" stroke-width="1.40"/>
<line x1="96.0" y1="684.8" x2="101.2" y2="684.8" stroke="#111" stroke-width="1.40"/>
<line x1="96.0" y1="690.7" x2="101.2" y2="690.7" stroke="#111" stroke-width="1.40"/>
<line x1="96.0" y1="696.3" x2="101.2" y2="696.3" stroke="#111" stroke-width="1.40"/>
<line x1="96.0" y1="701.7" x2="101.2" y2="701.7" stroke="#111" stroke-width="1.40"/>
<line x1="96.0" y1="708.2" x2="101.2" y2="708.2" stroke="#111" stroke-width="1.40"/>
<line x1="96.0" y1="733.7" x2="101.2" y2="733.7" stroke="#111" stroke-width="1.40"/>
<line x1="96.0" y1="739.8" x2="101.2" y2="739.8" stroke="#111" stroke-width="1.40"/>
<line x1="96.0" y1="745.2" x2="101.2" y2="745.2" stroke="#111" stroke-width="1.40"/>
<line x1="96.0" y1="751.5" x2="101.2" y2="751.5" stroke="#111" stroke-width="1.40"/>
<line x1="96.0" y1="756.9" x2="101.2" y2="756.9" stroke="#111" stroke-width="1.40"/>
<line x1="96.0" y1="762.5" x2="101.2" y2="762.5" stroke="#111" stroke-width="1.40"/>
<line x1="96.0" y1="767.4" x2="101.2" y2="767.4" stroke="#111" stroke-width="1.40"/>
<line x1="96.0" y1="772.2" x2="101.2" y2="772.2" stroke="#111" stroke-width="1.40"/>
<line x1="91.9" y1="504.5" x2="101.2" y2="504.5" stroke="#111" stroke-width="1.60"/>
<line x1="91.9" y1="577.9" x2="101.2" y2="577.9" stroke="#111" stroke-width="1.60"/>
<line x1="91.9" y1="665.3" x2="101.2" y2="665.3" stroke="#111" stroke-width="1.60"/>
<line x1="91.9" y1="776.2" x2="101.2" y2="776.2" stroke="#111" stroke-width="1.60"/>
<rect x="95.2" y="713.7" width="6.0" height="13.8" fill="#151515"/>
<line x1="93.2" y1="720.5" x2="101.2" y2="720.5" stroke="#111" stroke-width="1.40"/>
<text x="65.1" y="505.6" font-size="24" text-anchor="start" >10</text>
<text x="89.1" y="494.8" font-size="12" text-anchor="start" >5</text>
<text x="65.1" y="580.8" font-size="24" text-anchor="start" >10</text>
<text x="89.1" y="570.0" font-size="12" text-anchor="start" >4</text>
<text x="64.5" y="666.6" font-size="24" text-anchor="start" >10</text>
<text x="88.5" y="655.8" font-size="12" text-anchor="start" >3</text>
<text x="84.5" y="726.7" font-size="24" text-anchor="middle" >0</text>
<text x="64.0" y="778.4" font-size="24" text-anchor="start" >10</text>
<text x="88.0" y="767.6" font-size="12" text-anchor="start" >3</text>
<line x1="49.9" y1="772.8" x2="61.5" y2="772.8" stroke="#111" stroke-width="1.70"/>
<line x1="117.8" y1="795.1" x2="117.8" y2="800.1" stroke="#111" stroke-width="1.50"/>
<line x1="125.8" y1="795.1" x2="125.8" y2="800.1" stroke="#111" stroke-width="1.50"/>
<line x1="131.7" y1="795.1" x2="131.7" y2="800.1" stroke="#111" stroke-width="1.50"/>
<line x1="136.9" y1="795.1" x2="136.9" y2="800.1" stroke="#111" stroke-width="1.50"/>
<line x1="141.6" y1="795.1" x2="141.6" y2="800.1" stroke="#111" stroke-width="1.50"/>
<line x1="147.6" y1="795.1" x2="147.6" y2="800.1" stroke="#111" stroke-width="1.50"/>
<line x1="159.5" y1="795.1" x2="159.5" y2="800.1" stroke="#111" stroke-width="1.50"/>
<line x1="173.4" y1="795.1" x2="173.4" y2="800.1" stroke="#111" stroke-width="1.50"/>
<line x1="192.0" y1="795.1" x2="192.0" y2="800.1" stroke="#111" stroke-width="1.50"/>
<line x1="211.8" y1="795.1" x2="211.8" y2="800.1" stroke="#111" stroke-width="1.50"/>
<line x1="236.8" y1="795.1" x2="236.8" y2="800.1" stroke="#111" stroke-width="1.50"/>
<line x1="239.4" y1="795.1" x2="239.4" y2="800.1" stroke="#111" stroke-width="1.50"/>
<line x1="242.0" y1="795.1" x2="242.0" y2="800.1" stroke="#111" stroke-width="1.50"/>
<line x1="244.7" y1="795.1" x2="244.7" y2="800.1" stroke="#111" stroke-width="1.50"/>
<line x1="247.3" y1="795.1" x2="247.3" y2="800.1" stroke="#111" stroke-width="1.50"/>
<line x1="249.9" y1="795.1" x2="249.9" y2="800.1" stroke="#111" stroke-width="1.50"/>
<line x1="252.5" y1="795.1" x2="252.5" y2="800.1" stroke="#111" stroke-width="1.50"/>
<line x1="255.1" y1="795.1" x2="255.1" y2="800.1" stroke="#111" stroke-width="1.50"/>
<line x1="257.8" y1="795.1" x2="257.8" y2="800.1" stroke="#111" stroke-width="1.50"/>
<line x1="260.4" y1="795.1" x2="260.4" y2="800.1" stroke="#111" stroke-width="1.50"/>
<line x1="263.0" y1="795.1" x2="263.0" y2="800.1" stroke="#111" stroke-width="1.50"/>
<line x1="265.6" y1="795.1" x2="265.6" y2="800.1" stroke="#111" stroke-width="1.50"/>
<line x1="268.2" y1="795.1" x2="268.2" y2="800.1" stroke="#111" stroke-width="1.50"/>
<line x1="270.9" y1="795.1" x2="270.9" y2="800.1" stroke="#111" stroke-width="1.50"/>
<line x1="273.5" y1="795.1" x2="273.5" y2="800.1" stroke="#111" stroke-width="1.50"/>
<line x1="276.1" y1="795.1" x2="276.1" y2="800.1" stroke="#111" stroke-width="1.50"/>
<line x1="278.7" y1="795.1" x2="278.7" y2="800.1" stroke="#111" stroke-width="1.50"/>
<line x1="281.3" y1="795.1" x2="281.3" y2="800.1" stroke="#111" stroke-width="1.50"/>
<line x1="284.0" y1="795.1" x2="284.0" y2="800.1" stroke="#111" stroke-width="1.50"/>
<line x1="286.6" y1="795.1" x2="286.6" y2="800.1" stroke="#111" stroke-width="1.50"/>
<line x1="289.2" y1="795.1" x2="289.2" y2="800.1" stroke="#111" stroke-width="1.50"/>
<line x1="313.1" y1="795.1" x2="313.1" y2="800.1" stroke="#111" stroke-width="1.50"/>
<line x1="334.0" y1="795.1" x2="334.0" y2="800.1" stroke="#111" stroke-width="1.50"/>
<line x1="351.8" y1="795.1" x2="351.8" y2="800.1" stroke="#111" stroke-width="1.50"/>
<line x1="364.7" y1="795.1" x2="364.7" y2="800.1" stroke="#111" stroke-width="1.50"/>
<line x1="376.1" y1="795.1" x2="376.1" y2="800.1" stroke="#111" stroke-width="1.50"/>
<line x1="384.7" y1="795.1" x2="384.7" y2="800.1" stroke="#111" stroke-width="1.50"/>
<line x1="392.4" y1="795.1" x2="392.4" y2="800.1" stroke="#111" stroke-width="1.50"/>
<line x1="398.5" y1="795.1" x2="398.5" y2="800.1" stroke="#111" stroke-width="1.50"/>
<line x1="435.8" y1="795.1" x2="435.8" y2="800.1" stroke="#111" stroke-width="1.50"/>
<line x1="450.3" y1="795.1" x2="450.3" y2="800.1" stroke="#111" stroke-width="1.50"/>
<line x1="239.2" y1="795.1" x2="239.2" y2="800.6" stroke="#111" stroke-width="1.30"/>
<line x1="240.5" y1="795.1" x2="240.5" y2="800.6" stroke="#111" stroke-width="1.30"/>
<line x1="241.8" y1="795.1" x2="241.8" y2="800.6" stroke="#111" stroke-width="1.30"/>
<line x1="243.1" y1="795.1" x2="243.1" y2="800.6" stroke="#111" stroke-width="1.30"/>
<line x1="244.4" y1="795.1" x2="244.4" y2="800.6" stroke="#111" stroke-width="1.30"/>
<line x1="245.7" y1="795.1" x2="245.7" y2="800.6" stroke="#111" stroke-width="1.30"/>
<line x1="247.0" y1="795.1" x2="247.0" y2="800.6" stroke="#111" stroke-width="1.30"/>
<line x1="248.3" y1="795.1" x2="248.3" y2="800.6" stroke="#111" stroke-width="1.30"/>
<line x1="249.6" y1="795.1" x2="249.6" y2="800.6" stroke="#111" stroke-width="1.30"/>
<line x1="250.9" y1="795.1" x2="250.9" y2="800.6" stroke="#111" stroke-width="1.30"/>
<line x1="252.2" y1="795.1" x2="252.2" y2="800.6" stroke="#111" stroke-width="1.30"/>
<line x1="253.5" y1="795.1" x2="253.5" y2="800.6" stroke="#111" stroke-width="1.30"/>
<line x1="254.8" y1="795.1" x2="254.8" y2="800.6" stroke="#111" stroke-width="1.30"/>
<line x1="256.1" y1="795.1" x2="256.1" y2="800.6" stroke="#111" stroke-width="1.30"/>
<line x1="257.4" y1="795.1" x2="257.4" y2="800.6" stroke="#111" stroke-width="1.30"/>
<line x1="278.5" y1="795.1" x2="278.5" y2="800.6" stroke="#111" stroke-width="1.30"/>
<line x1="279.8" y1="795.1" x2="279.8" y2="800.6" stroke="#111" stroke-width="1.30"/>
<line x1="281.1" y1="795.1" x2="281.1" y2="800.6" stroke="#111" stroke-width="1.30"/>
<line x1="282.4" y1="795.1" x2="282.4" y2="800.6" stroke="#111" stroke-width="1.30"/>
<line x1="283.7" y1="795.1" x2="283.7" y2="800.6" stroke="#111" stroke-width="1.30"/>
<line x1="285.0" y1="795.1" x2="285.0" y2="800.6" stroke="#111" stroke-width="1.30"/>
<line x1="286.3" y1="795.1" x2="286.3" y2="800.6" stroke="#111" stroke-width="1.30"/>
<line x1="236.8" y1="795.1" x2="236.8" y2="803.1" stroke="#111" stroke-width="1.60"/>
<line x1="260.1" y1="795.1" x2="260.1" y2="803.1" stroke="#111" stroke-width="1.60"/>
<line x1="264.8" y1="795.1" x2="264.8" y2="803.1" stroke="#111" stroke-width="1.60"/>
<line x1="289.3" y1="795.1" x2="289.3" y2="803.1" stroke="#111" stroke-width="1.60"/>
<line x1="403.3" y1="795.1" x2="403.3" y2="803.1" stroke="#111" stroke-width="1.60"/>
<text transform="translate(106.0 491.0) scale(0.935 1)" font-size="25.7">UL</text>
<text transform="translate(106.0 515.5) scale(0.935 1)" font-size="25.7">0.67</text>
<text transform="translate(394.7 491.1) scale(0.935 1)" font-size="25.7">UR</text>
<text transform="translate(394.7 515.9) scale(0.935 1)" font-size="25.7">93.61</text>
<text transform="translate(106.0 757.9) scale(0.935 1)" font-size="25.7">LL</text>
<text transform="translate(106.0 782.8) scale(0.935 1)" font-size="25.7">0.00</text>
<text transform="translate(394.7 758.4) scale(0.935 1)" font-size="25.7">LR</text>
<text transform="translate(394.7 782.6) scale(0.935 1)" font-size="25.7">5.72</text>
<text x="116.0" y="841.0" font-size="29.5" text-anchor="start" textLength="68.4" lengthAdjust="spacingAndGlyphs" >JC-10</text>
<text x="192.9" y="841.0" font-size="29.5" text-anchor="start" textLength="103.0" lengthAdjust="spacingAndGlyphs" >monomer</text>
<text x="305.0" y="841.0" font-size="29.5" text-anchor="start" textLength="129.8" lengthAdjust="spacingAndGlyphs" >form(green)</text>
<text x="244.7" y="872.0" font-size="27" text-anchor="middle" >6 h</text>
<g transform="translate(61.4 762.5) rotate(-90)">
<text x="0.0" y="0.0" font-size="29.5" text-anchor="start" textLength="64.1" lengthAdjust="spacingAndGlyphs" >JC-10</text>
<text x="71.2" y="0.0" font-size="29.5" text-anchor="start" textLength="111.1" lengthAdjust="spacingAndGlyphs" >monomer</text>
<text x="189.5" y="0.0" font-size="29.5" text-anchor="start" textLength="103.3" lengthAdjust="spacingAndGlyphs" >form(red)</text>
</g>
<text x="264.1" y="821.0" font-size="24" text-anchor="middle" >0</text>
<text x="389.7" y="820.4" font-size="24" text-anchor="start" >10</text>
<text x="413.7" y="809.6" font-size="12" text-anchor="start" >5</text>
<text x="275.4" y="821.0" font-size="24" text-anchor="start" >10</text>
<text x="299.4" y="810.2" font-size="12" text-anchor="start" >4</text>
<text x="224.5" y="821.0" font-size="24" text-anchor="start" >10</text>
<text x="248.5" y="810.2" font-size="12" text-anchor="start" >4</text>
<line x1="211.9" y1="814.4" x2="224.4" y2="814.4" stroke="#111" stroke-width="1.80"/>
</g>
<g>
<path d="M721.4 590.1h0M729.2 596.8h0M725.4 612.6h0M724.6 588.4h0M731.8 585.3h0M723.9 603.0h0M736.2 594.0h0M730.0 595.7h0M725.3 581.0h0M722.5 568.2h0M734.3 599.6h0M719.8 589.6h0M734.2 596.4h0M733.2 593.2h0M719.2 591.9h0M727.2 583.4h0M729.4 591.6h0M723.7 595.9h0M725.6 592.5h0M735.6 604.2h0M722.3 608.7h0M721.2 599.5h0M729.7 581.7h0M725.4 600.9h0M730.7 604.4h0M724.5 602.4h0M741.3 580.6h0M732.7 589.5h0M723.8 599.2h0M727.7 615.5h0M724.4 593.4h0M720.8 581.6h0M723.0 600.0h0M731.2 589.5h0M731.9 590.8h0M724.9 586.2h0M720.8 603.7h0M729.0 601.5h0M716.4 592.2h0M722.6 578.0h0M735.1 580.4h0M720.8 582.8h0M727.4 588.2h0M734.2 575.8h0M721.7 601.5h0M715.4 601.4h0M727.1 587.6h0M734.2 596.1h0M721.2 589.1h0M727.6 596.6h0M724.0 598.7h0M723.0 595.3h0M721.6 599.6h0M735.7 588.3h0M728.5 585.4h0M723.8 600.0h0M721.5 603.5h0M730.1 578.8h0M734.5 611.9h0M728.5 584.3h0M714.3 586.0h0M723.2 601.7h0M726.1 609.7h0M723.6 587.2h0M730.3 592.4h0M745.9 591.6h0M719.3 595.0h0M734.1 596.2h0M724.0 598.4h0M723.3 585.6h0M726.0 580.1h0M722.9 596.3h0M726.2 612.7h0M727.7 588.9h0M743.6 599.7h0M719.2 604.2h0M725.2 595.1h0M725.4 590.5h0M708.7 574.2h0M730.7 591.9h0M731.0 589.7h0M730.0 603.2h0M740.0 576.6h0M730.4 604.6h0M727.0 594.1h0M730.8 588.3h0M721.5 603.7h0M722.4 602.7h0M724.9 600.5h0M737.6 605.8h0M723.4 596.0h0M731.8 589.9h0M734.2 589.5h0M732.2 598.4h0M722.0 586.7h0M731.0 586.1h0M733.0 585.9h0M726.8 570.1h0M715.6 590.1h0M718.6 585.4h0M725.6 592.9h0M720.2 601.4h0M726.8 575.0h0M727.4 595.6h0M734.5 597.3h0M726.4 589.8h0M724.9 583.8h0M727.3 606.2h0M739.9 565.9h0M728.3 571.1h0M725.9 605.2h0M731.5 601.3h0M718.4 596.0h0M721.8 597.4h0M730.0 566.5h0M726.7 600.4h0M738.1 596.1h0M732.3 598.2h0M736.9 599.6h0M735.3 591.3h0M721.0 614.2h0M716.3 604.4h0M731.1 598.5h0M717.2 582.7h0M724.9 594.3h0M728.6 596.6h0M735.4 605.3h0M716.4 597.3h0M728.2 602.2h0M736.9 597.7h0M724.3 596.8h0M715.9 597.7h0M725.6 605.1h0M728.1 614.1h0M727.6 598.7h0M729.0 580.9h0M732.8 598.8h0M730.7 600.0h0M722.4 601.5h0M725.2 597.6h0M720.0 578.6h0M734.7 605.3h0M718.9 609.5h0M731.8 586.4h0M724.4 613.8h0M720.9 607.1h0M733.5 591.6h0M728.3 592.8h0M720.4 594.4h0M723.3 611.2h0M725.0 590.3h0M721.1 594.2h0M723.3 603.9h0M720.0 602.4h0M723.3 582.0h0M718.3 595.6h0M723.4 603.6h0M722.9 604.1h0M719.0 602.4h0M733.1 582.7h0M735.0 589.4h0M731.8 587.2h0M717.6 583.2h0M723.0 610.3h0M726.3 605.5h0M733.1 575.5h0M733.3 608.0h0M726.4 613.3h0M727.8 593.3h0M734.1 582.0h0M727.9 602.9h0M732.8 586.3h0M736.2 589.5h0M724.9 586.9h0M721.1 589.5h0M727.1 583.9h0M744.8 568.8h0M728.2 598.8h0M730.1 584.5h0M727.7 594.3h0M729.3 577.4h0M729.6 572.7h0M724.9 583.5h0M733.1 591.5h0M724.8 608.0h0M738.8 583.7h0M726.3 577.7h0M722.7 590.9h0M727.0 609.7h0M723.0 606.0h0M724.3 603.8h0M729.3 592.8h0M729.9 599.2h0M717.8 590.0h0M710.4 587.5h0M722.4 589.9h0M732.9 576.5h0M728.8 600.0h0M727.4 597.5h0M730.2 586.6h0M719.0 607.3h0M732.6 600.3h0M715.4 599.6h0M724.0 596.8h0M723.7 607.8h0M720.4 598.7h0M733.7 584.4h0M716.6 591.7h0M729.7 582.3h0M723.6 599.4h0M728.4 597.7h0M718.8 595.9h0M730.2 596.2h0M739.9 578.8h0M725.1 610.7h0M724.9 582.6h0M740.3 588.0h0M726.5 594.5h0M736.5 600.0h0M724.2 595.5h0M734.6 598.5h0M736.5 593.3h0M725.3 597.3h0M738.8 601.9h0M736.4 592.8h0M726.9 600.6h0M732.2 595.6h0M728.2 601.5h0M720.2 600.5h0M721.9 585.5h0M726.4 589.9h0M731.2 590.5h0M727.4 583.1h0M736.1 605.8h0M734.6 596.0h0M717.8 608.4h0M719.8 595.6h0M730.4 590.1h0M733.0 580.4h0M725.7 592.2h0M720.7 599.2h0M730.6 575.0h0M727.2 585.7h0M723.2 580.6h0M720.9 581.0h0M723.6 583.9h0M718.1 585.2h0M718.0 599.1h0M726.6 583.5h0M727.3 594.5h0M725.7 596.5h0M730.1 607.3h0M726.7 587.5h0M733.8 579.4h0M739.5 593.7h0M738.0 587.9h0M718.1 581.7h0M730.8 584.6h0M719.4 604.3h0M721.7 604.1h0M726.0 587.7h0M724.8 612.5h0M716.7 595.5h0M728.4 596.0h0M722.5 584.9h0M732.5 587.2h0M736.6 586.3h0M721.1 593.1h0M719.5 584.9h0M737.1 578.8h0M718.9 602.5h0M738.0 590.5h0M729.7 585.8h0M724.6 599.1h0M725.1 591.2h0M716.7 593.2h0M727.9 594.4h0M732.4 579.3h0M712.0 580.2h0M731.3 572.0h0M723.0 599.4h0M728.7 577.1h0M724.7 603.8h0M732.7 577.6h0M726.1 591.1h0M730.3 594.8h0M720.9 591.2h0M727.9 592.4h0M716.7 605.4h0M721.5 591.0h0M722.8 595.9h0M739.0 560.1h0M721.2 584.8h0M723.0 575.4h0M728.4 578.8h0M726.0 595.0h0M720.8 596.5h0M725.0 600.1h0M729.8 599.1h0M735.4 590.7h0M722.6 602.0h0M715.6 573.8h0M731.0 587.1h0M729.2 604.7h0M733.0 594.5h0M722.7 601.0h0M733.2 596.8h0M724.1 585.7h0M737.8 585.9h0M730.9 602.0h0M727.4 589.4h0M722.7 606.9h0M724.4 606.8h0M730.4 594.0h0M736.3 605.2h0M738.3 591.7h0M722.9 584.2h0M736.6 569.7h0M725.9 589.8h0M730.4 576.4h0M723.1 596.5h0M729.8 582.5h0M716.8 598.8h0M730.7 593.2h0M734.5 562.8h0M722.5 608.0h0M724.7 600.3h0M718.3 579.1h0M736.5 592.3h0M727.4 597.4h0M727.0 570.6h0M718.2 576.9h0M731.5 598.8h0M724.3 584.5h0M731.7 599.6h0M736.4 583.3h0M725.1 604.3h0M732.7 582.0h0M736.7 603.5h0M738.2 588.9h0M731.0 590.5h0M727.7 592.7h0M719.7 609.5h0M723.6 602.8h0M722.5 592.6h0M713.9 593.8h0M733.9 592.1h0M714.9 601.4h0M726.5 580.8h0M720.5 614.4h0M725.4 593.5h0M720.5 596.2h0M729.5 597.3h0M719.3 604.6h0M737.4 606.2h0M729.8 603.5h0M740.4 567.9h0M731.3 600.5h0M734.8 590.6h0M712.6 594.4h0M728.8 596.8h0M731.3 583.8h0M714.9 594.7h0M739.7 602.2h0M730.0 579.1h0M717.8 595.6h0M737.2 587.1h0M733.2 597.9h0M733.6 594.7h0M724.7 587.3h0M716.5 581.0h0M719.0 587.9h0M728.8 588.8h0M729.1 596.3h0M727.4 589.4h0M723.7 606.8h0M711.1 591.4h0M736.2 582.6h0M721.7 582.8h0M717.1 603.4h0M724.3 605.0h0M715.0 584.4h0M734.5 580.7h0M732.7 580.2h0M725.2 593.0h0M724.8 581.0h0M720.0 595.8h0M727.2 601.2h0M727.3 600.2h0M728.2 600.6h0M727.7 603.6h0M720.3 596.4h0M730.7 574.1h0M719.0 603.6h0M726.6 575.0h0M731.7 598.8h0M719.9 588.7h0M731.4 593.8h0M733.5 594.3h0M733.5 589.0h0M732.8 584.6h0M735.4 594.9h0M716.7 590.6h0M737.5 584.4h0M721.1 573.0h0M726.2 603.2h0M717.6 606.3h0M726.1 585.0h0M727.9 579.4h0M732.8 592.8h0M724.5 592.3h0M733.1 600.6h0M726.6 605.9h0M724.6 588.9h0M730.0 578.9h0M737.6 595.3h0M731.3 597.1h0M726.7 586.1h0M719.3 593.8h0M731.0 604.5h0M730.3 600.2h0M736.5 582.5h0M715.9 584.6h0M729.4 595.6h0M717.6 584.0h0M728.2 580.4h0M738.6 566.0h0M723.7 604.9h0M723.7 605.6h0M733.3 581.5h0M719.8 599.1h0M723.4 576.5h0M722.6 606.7h0M727.8 601.0h0M732.8 592.1h0M728.3 583.9h0M715.1 577.8h0M719.3 593.2h0M733.3 579.5h0M729.7 592.3h0M724.6 613.7h0M718.3 597.5h0M730.7 604.3h0M733.3 582.5h0M724.9 597.1h0M742.4 597.5h0M726.0 586.0h0M725.5 594.7h0M734.8 573.6h0M736.3 606.3h0M719.9 585.9h0M718.9 600.1h0M724.3 593.3h0M723.6 595.4h0M719.5 600.7h0M721.9 585.5h0M724.3 591.1h0M737.6 585.9h0M717.9 603.7h0M725.9 600.2h0M721.1 601.9h0M723.5 609.1h0M722.4 612.7h0M722.1 580.4h0M732.2 587.3h0M727.0 598.3h0M735.4 607.9h0M735.5 583.5h0M730.7 587.9h0M723.0 595.9h0M737.6 594.9h0M719.9 603.4h0M723.2 573.1h0M721.5 595.1h0M733.3 585.1h0M725.1 590.2h0M736.0 598.0h0M730.8 598.2h0M736.9 596.6h0M722.2 578.6h0M741.2 590.4h0M731.5 589.3h0M732.6 595.8h0M717.2 586.4h0M733.9 602.5h0M717.9 574.3h0M715.8 586.7h0M718.6 597.6h0M723.3 602.1h0M731.0 596.3h0M720.8 590.5h0M715.6 602.8h0M720.2 609.4h0M730.6 588.4h0M729.4 599.4h0M724.2 576.2h0M728.7 598.3h0M735.6 594.4h0M733.5 593.1h0M727.1 606.8h0M732.2 592.7h0M730.1 599.9h0M731.8 584.7h0M722.0 611.9h0M725.2 595.4h0M727.1 612.9h0M729.3 591.8h0M727.2 607.4h0M733.5 603.1h0M731.5 596.9h0M727.7 611.6h0M733.3 587.9h0M728.9 599.8h0M722.6 603.8h0M739.7 596.2h0M721.7 601.4h0M725.9 603.2h0M733.2 596.5h0M724.8 578.9h0M726.4 599.7h0M729.7 591.1h0M724.5 577.5h0M725.9 599.1h0M727.5 604.4h0M733.8 600.1h0M715.5 596.0h0M737.6 588.4h0M723.5 606.0h0M725.7 575.4h0M726.0 578.2h0M730.5 579.0h0M732.3 582.4h0M723.9 591.1h0M728.7 602.1h0M724.5 595.3h0M714.8 591.5h0M726.6 571.3h0M738.1 597.8h0M719.9 597.6h0M719.9 587.3h0M726.6 593.6h0M728.9 594.1h0M729.4 606.7h0M734.8 582.1h0M731.5 583.2h0M737.6 597.1h0M726.7 592.9h0M733.1 592.1h0M724.7 597.4h0M738.9 606.0h0M727.6 588.1h0M715.9 594.2h0M718.4 597.4h0M732.1 596.6h0M720.6 599.2h0M734.3 588.0h0M728.0 593.7h0M734.7 598.6h0M728.0 615.2h0M734.7 587.1h0M708.2 575.0h0M713.4 586.3h0M724.4 554.6h0M719.0 575.9h0M715.5 586.2h0M710.8 568.6h0M708.8 563.0h0M708.9 576.3h0M705.8 573.0h0M707.0 581.1h0M727.7 572.6h0M711.4 566.5h0M711.5 569.9h0M718.7 566.7h0M704.7 575.3h0M708.6 584.8h0M707.6 557.7h0M713.2 561.0h0M718.6 566.4h0M724.6 565.2h0M718.6 566.8h0M727.2 566.7h0M703.4 579.7h0M715.5 572.3h0M721.5 575.3h0M725.1 568.4h0M720.3 573.6h0M712.5 567.4h0M705.0 575.4h0M709.4 563.5h0M724.0 580.3h0M707.6 575.1h0M711.6 575.9h0M723.0 571.4h0M713.7 573.6h0M711.1 574.3h0M710.1 558.8h0M706.7 569.4h0M705.3 580.2h0M721.8 570.3h0M716.3 568.2h0M719.3 580.0h0M714.4 560.9h0M711.4 560.7h0M707.4 582.2h0M716.7 568.2h0M702.9 578.5h0M716.6 566.9h0M718.0 563.8h0M720.0 572.2h0M711.9 564.9h0M705.1 573.6h0M719.2 565.8h0M708.5 568.4h0M716.0 568.5h0M727.0 568.5h0M708.8 564.4h0M711.7 572.3h0M711.4 575.1h0M724.8 578.6h0M720.5 572.1h0M706.2 564.7h0M712.7 570.9h0M715.8 571.2h0M719.7 572.2h0M716.8 572.6h0M724.0 582.1h0M711.7 573.1h0M724.3 573.0h0M712.3 562.9h0M713.9 565.0h0M727.3 571.0h0M719.2 572.2h0M713.9 584.7h0M717.6 566.6h0M722.7 570.5h0M711.1 575.4h0M716.2 584.4h0M711.8 577.1h0M712.0 574.0h0M703.7 573.3h0M708.6 583.9h0M719.3 579.7h0M709.4 567.2h0M715.9 558.3h0M709.0 575.9h0M718.5 565.7h0M711.6 570.9h0M712.8 582.8h0M721.3 569.2h0M715.8 567.3h0M713.3 573.1h0M713.0 576.1h0M706.0 574.9h0M718.7 577.0h0M710.5 570.8h0M730.3 578.0h0M708.8 571.7h0M712.3 571.6h0M707.9 562.3h0M710.7 582.3h0M710.5 566.7h0M709.9 582.5h0M718.6 568.7h0M712.9 556.8h0M711.2 574.7h0M717.3 570.1h0M716.4 562.7h0M711.1 575.5h0M713.1 583.7h0M714.8 571.8h0M713.3 576.3h0M714.9 574.7h0M715.7 585.9h0M714.7 575.2h0M711.4 571.6h0M714.0 577.1h0M710.2 562.4h0M709.6 574.8h0M705.6 566.3h0M709.5 571.6h0M713.6 574.4h0M716.5 570.9h0M735.1 576.0h0M707.7 572.3h0M710.3 568.9h0M712.4 575.3h0M715.7 573.2h0M717.9 573.2h0M729.9 576.3h0M704.9 567.3h0M708.1 577.8h0M710.1 585.5h0M716.6 568.5h0M704.8 567.2h0M712.9 569.2h0M733.5 571.6h0M709.0 575.4h0M717.6 575.9h0M729.5 572.9h0M710.6 574.5h0M703.7 572.3h0M718.9 574.7h0M713.9 561.7h0M715.4 572.7h0M709.6 575.2h0M713.3 566.5h0M723.2 587.9h0M705.6 567.7h0M709.5 571.0h0M709.1 561.7h0M718.7 566.7h0M718.8 568.4h0M727.7 566.4h0M709.5 576.2h0M725.0 594.1h0M717.2 568.0h0M713.2 568.1h0M707.6 578.1h0M711.2 571.7h0M716.2 571.7h0M719.6 575.6h0M713.0 580.8h0M711.8 575.7h0M710.0 582.7h0M718.1 588.5h0M732.6 581.2h0M717.7 568.1h0M733.0 576.1h0M720.5 561.6h0M705.0 572.7h0M705.1 564.5h0M716.1 569.4h0M708.8 568.9h0M716.7 555.8h0M711.7 563.4h0M722.0 589.4h0M716.3 577.4h0M720.1 573.4h0M719.0 561.4h0M711.8 562.8h0M716.0 563.6h0M709.3 571.5h0M720.8 580.8h0M713.2 581.9h0M711.6 569.1h0M712.0 577.3h0M706.0 575.7h0M710.5 585.9h0M718.6 572.1h0M719.5 573.8h0M720.7 576.4h0M708.0 574.1h0M714.8 573.7h0M718.8 564.7h0M710.6 563.3h0M711.6 564.0h0M717.6 571.1h0M715.0 568.9h0M716.5 574.5h0M741.5 573.8h0M738.4 577.4h0M755.0 575.5h0M757.5 564.6h0M747.6 574.2h0M753.4 563.9h0M748.3 579.5h0M745.1 575.2h0M751.5 572.8h0M737.6 581.8h0M757.3 579.3h0M755.1 580.9h0M744.3 571.4h0M744.2 572.1h0M748.1 578.8h0M745.3 573.2h0M746.6 579.0h0M747.0 580.0h0M741.6 581.5h0M739.6 580.7h0M737.8 585.0h0M737.9 580.2h0M754.2 567.4h0M746.0 579.2h0M750.6 584.8h0M748.5 560.8h0M743.9 572.4h0M747.1 580.7h0M719.7 583.6h0M752.9 571.3h0M753.4 565.5h0M735.1 583.2h0M749.2 582.9h0M758.4 569.1h0M746.3 578.2h0M751.0 569.7h0M748.4 580.5h0M752.7 576.7h0M735.9 576.0h0M747.2 575.5h0M747.1 584.9h0M742.8 576.7h0M747.4 577.5h0M740.1 582.3h0M747.9 572.5h0M747.8 568.4h0M746.6 571.5h0M735.0 574.4h0M740.3 571.1h0M740.1 582.6h0M737.5 586.2h0M752.8 572.1h0M747.8 571.1h0M751.5 570.3h0M745.1 578.6h0M725.9 588.5h0M744.0 577.0h0M745.8 574.1h0M743.9 576.2h0M741.1 582.9h0M751.5 572.7h0M741.7 577.1h0M746.4 575.4h0M741.1 581.0h0M748.8 574.1h0M732.5 578.1h0M739.3 578.9h0M719.8 598.6h0M744.2 576.7h0M754.4 566.9h0M731.4 588.8h0M747.1 575.6h0M741.3 572.3h0M746.0 580.2h0M755.0 568.5h0M743.2 587.6h0M726.8 579.3h0M744.4 574.9h0M738.3 584.0h0M746.5 580.6h0M751.7 579.9h0M751.3 581.2h0M744.4 579.2h0M747.9 563.4h0M758.2 572.0h0M742.7 568.4h0M738.1 572.3h0M743.8 575.9h0M739.3 587.6h0M736.5 579.2h0M735.6 582.8h0M745.7 579.9h0M738.3 571.4h0M734.7 571.9h0M741.3 579.0h0M740.6 571.7h0M737.2 581.1h0M736.3 577.3h0M750.5 573.9h0M732.9 575.1h0M747.5 571.6h0M745.4 573.3h0M739.6 586.0h0M747.7 581.6h0M735.3 578.8h0M752.7 577.1h0M721.2 575.0h0M752.2 578.1h0M753.9 577.7h0M739.0 571.6h0M749.7 576.7h0M753.6 575.8h0M741.7 577.0h0M740.9 577.1h0M739.9 572.9h0M733.7 582.5h0M744.0 593.9h0M733.4 584.6h0M743.7 577.6h0M739.8 574.2h0M759.3 569.9h0M750.0 585.3h0M727.0 578.7h0M754.5 576.6h0M736.8 583.5h0M738.1 567.7h0M725.8 584.5h0M742.0 581.6h0M754.5 577.2h0M734.1 583.9h0M746.2 581.2h0M740.8 586.4h0M748.2 567.8h0M739.6 560.2h0M754.0 569.6h0M746.9 569.4h0M739.7 583.1h0M738.4 580.2h0M745.0 570.5h0M736.9 568.8h0M753.4 575.9h0M738.5 580.9h0M755.4 574.4h0M749.9 572.8h0M758.4 581.9h0M731.1 579.9h0M753.4 571.1h0M744.8 586.7h0M741.1 570.3h0M743.8 579.9h0M755.7 567.9h0M743.8 570.4h0M747.0 583.6h0M734.5 577.3h0M751.7 577.8h0M746.2 573.6h0M719.9 574.3h0M746.9 569.4h0M751.3 585.7h0M745.1 574.8h0M742.8 576.2h0M751.1 592.2h0M749.3 572.6h0M738.2 565.6h0M740.3 579.6h0M758.4 566.0h0M740.7 573.1h0M735.0 579.2h0M758.7 573.9h0M746.5 577.1h0M752.0 561.9h0M751.9 571.3h0M750.8 583.6h0M734.2 585.2h0M752.3 586.5h0M748.1 582.6h0M748.2 574.1h0M744.6 572.0h0M739.4 574.5h0M747.2 578.6h0M722.9 577.3h0M746.7 580.8h0M750.6 579.9h0M742.8 582.1h0M747.3 573.8h0M743.2 570.7h0M740.0 572.3h0M747.0 565.2h0M735.0 579.4h0M754.3 576.8h0M749.2 576.7h0M747.6 578.0h0M736.1 566.6h0M737.7 589.4h0M758.8 574.6h0M747.1 576.5h0M739.1 588.4h0M744.9 592.3h0M734.9 579.1h0M757.3 575.1h0M719.3 567.3h0M719.5 559.6h0M729.1 555.0h0M722.1 568.1h0M714.6 565.8h0M718.2 564.4h0M733.4 568.3h0M736.0 562.4h0M750.8 567.6h0M721.3 572.5h0M724.8 575.6h0M741.7 565.5h0M723.7 562.0h0M719.6 564.7h0M748.6 567.0h0M729.1 568.2h0M726.0 560.0h0M710.0 573.0h0M726.5 573.9h0M756.3 567.5h0M740.9 564.4h0M728.6 566.5h0M730.3 573.5h0M729.1 570.5h0M732.1 569.2h0M746.4 563.1h0M733.2 564.5h0M723.9 559.5h0M742.4 565.0h0M704.8 569.5h0M752.2 568.3h0M706.8 563.6h0M734.1 565.8h0M745.8 561.4h0M721.5 553.8h0M746.1 569.3h0M724.3 557.2h0M742.4 559.1h0M712.6 556.5h0M710.5 561.4h0M715.0 571.5h0M740.1 566.4h0M722.2 565.8h0M711.6 568.0h0M717.0 563.5h0M734.8 561.7h0M710.6 571.1h0M705.9 559.6h0M713.6 562.4h0M723.0 573.0h0M746.7 570.4h0M728.8 567.1h0M722.2 557.6h0M735.0 571.4h0M734.2 565.9h0M742.2 567.6h0M745.8 563.9h0M704.7 568.5h0M742.5 562.1h0M733.3 569.6h0M741.0 565.0h0M713.6 558.0h0M739.9 562.7h0M725.4 569.3h0M716.6 565.6h0M727.1 568.4h0M742.2 565.1h0M749.8 563.6h0M724.5 566.4h0M726.3 569.9h0M741.7 562.5h0M735.5 557.0h0M725.6 573.5h0M739.2 576.9h0M723.0 571.9h0M731.6 567.6h0M733.7 569.9h0M749.0 566.3h0M735.5 565.5h0M734.2 561.9h0M759.7 571.7h0M763.7 562.8h0M762.8 561.9h0M742.9 562.3h0M756.0 569.8h0M760.7 562.2h0M766.4 565.3h0M767.0 565.7h0M760.4 565.7h0M758.3 573.0h0M768.0 571.3h0M760.8 565.0h0M758.5 575.2h0M763.2 557.0h0M755.3 575.1h0M772.9 565.2h0M755.0 555.3h0M755.0 573.5h0M755.5 578.0h0M773.5 571.5h0M737.2 559.2h0M766.5 571.3h0M717.7 615.7h0M720.2 620.8h0M726.5 625.8h0M742.8 621.5h0M716.4 628.8h0M718.9 636.3h0M722.7 630.8h0M727.7 649.6h0M715.2 654.7h0M721.4 650.9h0M718.9 666.0h0M723.9 669.7h0M715.2 673.5h0M723.9 677.3h0M730.2 620.8h0M723.9 624.5h0M727.7 625.8h0M721.3 698.3h0M735.8 725.2h0M724.8 676.7h0M720.4 707.8h0M724.8 702.7h0M727.7 726.8h0M718.9 706.6h0M720.5 676.9h0M724.0 686.8h0M730.8 721.4h0M725.3 667.8h0M723.9 712.8h0M722.3 695.9h0M718.7 664.4h0M726.0 716.6h0M723.7 674.4h0M718.9 683.5h0M722.7 696.0h0M720.2 683.2h0M723.1 717.8h0M724.7 725.9h0M731.5 722.9h0M728.4 694.3h0M729.5 713.7h0M716.9 683.1h0M723.9 693.2h0M730.5 695.8h0M724.0 690.5h0M719.0 674.8h0M727.6 721.6h0M723.4 705.0h0M721.0 685.3h0M788.0 553.7h0M752.8 548.5h0M723.0 544.7h0M693.0 558.5h0M693.0 568.0h0M727.0 731.6h0M732.0 742.5h0M760.0 596.0h0M764.0 590.0h0" fill="none" stroke="#0c0c0c" stroke-width="2.80" stroke-linecap="round"/>
<line x1="698.3" y1="465.0" x2="698.3" y2="788.2" stroke="#111" stroke-width="2.00"/>
<line x1="532.2" y1="613.7" x2="884.0" y2="613.7" stroke="#111" stroke-width="2.00"/>
<line x1="532.2" y1="465.3" x2="532.2" y2="789.1" stroke="#111" stroke-width="2.00"/>
<line x1="531.2" y1="788.2" x2="883.5" y2="788.2" stroke="#111" stroke-width="1.60"/>
<line x1="527.0" y1="475.3" x2="532.2" y2="475.3" stroke="#111" stroke-width="1.40"/>
<line x1="527.0" y1="549.2" x2="532.2" y2="549.2" stroke="#111" stroke-width="1.40"/>
<line x1="527.0" y1="632.9" x2="532.2" y2="632.9" stroke="#111" stroke-width="1.40"/>
<line x1="527.0" y1="536.1" x2="532.2" y2="536.1" stroke="#111" stroke-width="1.40"/>
<line x1="527.0" y1="617.4" x2="532.2" y2="617.4" stroke="#111" stroke-width="1.40"/>
<line x1="527.0" y1="526.9" x2="532.2" y2="526.9" stroke="#111" stroke-width="1.40"/>
<line x1="527.0" y1="606.4" x2="532.2" y2="606.4" stroke="#111" stroke-width="1.40"/>
<line x1="527.0" y1="519.7" x2="532.2" y2="519.7" stroke="#111" stroke-width="1.40"/>
<line x1="527.0" y1="597.9" x2="532.2" y2="597.9" stroke="#111" stroke-width="1.40"/>
<line x1="527.0" y1="513.9" x2="532.2" y2="513.9" stroke="#111" stroke-width="1.40"/>
<line x1="527.0" y1="590.9" x2="532.2" y2="590.9" stroke="#111" stroke-width="1.40"/>
<line x1="527.0" y1="508.9" x2="532.2" y2="508.9" stroke="#111" stroke-width="1.40"/>
<line x1="527.0" y1="585.0" x2="532.2" y2="585.0" stroke="#111" stroke-width="1.40"/>
<line x1="527.0" y1="504.7" x2="532.2" y2="504.7" stroke="#111" stroke-width="1.40"/>
<line x1="527.0" y1="579.9" x2="532.2" y2="579.9" stroke="#111" stroke-width="1.40"/>
<line x1="527.0" y1="500.9" x2="532.2" y2="500.9" stroke="#111" stroke-width="1.40"/>
<line x1="527.0" y1="575.4" x2="532.2" y2="575.4" stroke="#111" stroke-width="1.40"/>
<line x1="527.0" y1="664.6" x2="532.2" y2="664.6" stroke="#111" stroke-width="1.40"/>
<line x1="527.0" y1="668.6" x2="532.2" y2="668.6" stroke="#111" stroke-width="1.40"/>
<line x1="527.0" y1="673.1" x2="532.2" y2="673.1" stroke="#111" stroke-width="1.40"/>
<line x1="527.0" y1="678.0" x2="532.2" y2="678.0" stroke="#111" stroke-width="1.40"/>
<line x1="527.0" y1="683.6" x2="532.2" y2="683.6" stroke="#111" stroke-width="1.40"/>
<line x1="527.0" y1="689.0" x2="532.2" y2="689.0" stroke="#111" stroke-width="1.40"/>
<line x1="527.0" y1="694.1" x2="532.2" y2="694.1" stroke="#111" stroke-width="1.40"/>
<line x1="527.0" y1="700.3" x2="532.2" y2="700.3" stroke="#111" stroke-width="1.40"/>
<line x1="527.0" y1="724.5" x2="532.2" y2="724.5" stroke="#111" stroke-width="1.40"/>
<line x1="527.0" y1="730.2" x2="532.2" y2="730.2" stroke="#111" stroke-width="1.40"/>
<line x1="527.0" y1="735.4" x2="532.2" y2="735.4" stroke="#111" stroke-width="1.40"/>
<line x1="527.0" y1="741.2" x2="532.2" y2="741.2" stroke="#111" stroke-width="1.40"/>
<line x1="527.0" y1="746.4" x2="532.2" y2="746.4" stroke="#111" stroke-width="1.40"/>
<line x1="527.0" y1="751.7" x2="532.2" y2="751.7" stroke="#111" stroke-width="1.40"/>
<line x1="527.0" y1="756.3" x2="532.2" y2="756.3" stroke="#111" stroke-width="1.40"/>
<line x1="527.0" y1="760.9" x2="532.2" y2="760.9" stroke="#111" stroke-width="1.40"/>
<line x1="522.9" y1="497.5" x2="532.2" y2="497.5" stroke="#111" stroke-width="1.60"/>
<line x1="522.9" y1="571.4" x2="532.2" y2="571.4" stroke="#111" stroke-width="1.60"/>
<line x1="522.9" y1="659.4" x2="532.2" y2="659.4" stroke="#111" stroke-width="1.60"/>
<line x1="522.9" y1="764.6" x2="532.2" y2="764.6" stroke="#111" stroke-width="1.60"/>
<rect x="526.6" y="705.3" width="5.6" height="13.1" fill="#151515"/>
<line x1="524.2" y1="712.0" x2="532.2" y2="712.0" stroke="#111" stroke-width="1.40"/>
<text x="497.6" y="500.9" font-size="24" text-anchor="start" >10</text>
<text x="521.6" y="490.1" font-size="12" text-anchor="start" >5</text>
<text x="497.6" y="573.8" font-size="24" text-anchor="start" >10</text>
<text x="521.6" y="563.0" font-size="12" text-anchor="start" >4</text>
<text x="497.5" y="661.6" font-size="24" text-anchor="start" >10</text>
<text x="521.5" y="650.8" font-size="12" text-anchor="start" >3</text>
<text x="515.0" y="717.5" font-size="24" text-anchor="middle" >0</text>
<text x="497.3" y="766.8" font-size="24" text-anchor="start" >10</text>
<text x="521.3" y="756.0" font-size="12" text-anchor="start" >3</text>
<line x1="483.2" y1="761.2" x2="494.8" y2="761.2" stroke="#111" stroke-width="1.70"/>
<line x1="622.4" y1="788.2" x2="622.4" y2="793.2" stroke="#111" stroke-width="1.50"/>
<line x1="630.3" y1="788.2" x2="630.3" y2="793.2" stroke="#111" stroke-width="1.50"/>
<line x1="637.8" y1="788.2" x2="637.8" y2="793.2" stroke="#111" stroke-width="1.50"/>
<line x1="646.3" y1="788.2" x2="646.3" y2="793.2" stroke="#111" stroke-width="1.50"/>
<line x1="656.6" y1="788.2" x2="656.6" y2="793.2" stroke="#111" stroke-width="1.50"/>
<line x1="667.8" y1="788.2" x2="667.8" y2="793.2" stroke="#111" stroke-width="1.50"/>
<line x1="679.4" y1="788.2" x2="679.4" y2="793.2" stroke="#111" stroke-width="1.50"/>
<line x1="690.9" y1="788.2" x2="690.9" y2="793.2" stroke="#111" stroke-width="1.50"/>
<line x1="737.2" y1="788.2" x2="737.2" y2="793.2" stroke="#111" stroke-width="1.50"/>
<line x1="747.3" y1="788.2" x2="747.3" y2="793.2" stroke="#111" stroke-width="1.50"/>
<line x1="759.1" y1="788.2" x2="759.1" y2="793.2" stroke="#111" stroke-width="1.50"/>
<line x1="769.3" y1="788.2" x2="769.3" y2="793.2" stroke="#111" stroke-width="1.50"/>
<line x1="779.5" y1="788.2" x2="779.5" y2="793.2" stroke="#111" stroke-width="1.50"/>
<line x1="787.8" y1="788.2" x2="787.8" y2="793.2" stroke="#111" stroke-width="1.50"/>
<line x1="796.1" y1="788.2" x2="796.1" y2="793.2" stroke="#111" stroke-width="1.50"/>
<line x1="804.2" y1="788.2" x2="804.2" y2="793.2" stroke="#111" stroke-width="1.50"/>
<line x1="852.9" y1="788.2" x2="852.9" y2="793.2" stroke="#111" stroke-width="1.50"/>
<line x1="874.0" y1="788.2" x2="874.0" y2="793.2" stroke="#111" stroke-width="1.50"/>
<line x1="811.2" y1="788.2" x2="811.2" y2="796.2" stroke="#111" stroke-width="1.60"/>
<rect x="700.3" y="788.2" width="25.3" height="7.4" fill="#151515"/>
<line x1="700.9" y1="788.2" x2="700.9" y2="797.2" stroke="#111" stroke-width="1.40"/>
<line x1="725.0" y1="788.2" x2="725.0" y2="797.2" stroke="#111" stroke-width="1.40"/>
<line x1="713.0" y1="788.2" x2="713.0" y2="796.2" stroke="#111" stroke-width="1.20"/>
<text transform="translate(538.7 481.2) scale(0.935 1)" font-size="25.7">UL</text>
<text transform="translate(538.7 505.9) scale(0.935 1)" font-size="25.7">0.32</text>
<text transform="translate(826.0 481.0) scale(0.935 1)" font-size="25.7">UR</text>
<text transform="translate(826.0 505.8) scale(0.935 1)" font-size="25.7">91.41</text>
<text transform="translate(539.5 750.7) scale(0.935 1)" font-size="25.7">LL</text>
<text transform="translate(539.5 775.0) scale(0.935 1)" font-size="25.7">0.00</text>
<text transform="translate(826.0 750.8) scale(0.935 1)" font-size="25.7">LR</text>
<text transform="translate(826.0 775.0) scale(0.935 1)" font-size="25.7">8.27</text>
<text x="547.7" y="838.5" font-size="29.5" text-anchor="start" textLength="68.3" lengthAdjust="spacingAndGlyphs" >JC-10</text>
<text x="624.4" y="838.5" font-size="29.5" text-anchor="start" textLength="102.8" lengthAdjust="spacingAndGlyphs" >monomer</text>
<text x="736.3" y="838.5" font-size="29.5" text-anchor="start" textLength="129.5" lengthAdjust="spacingAndGlyphs" >form(green)</text>
<text x="676.0" y="872.0" font-size="27" text-anchor="middle" >12 h</text>
<g transform="translate(492.4 754.8) rotate(-90)">
<text x="0.0" y="0.0" font-size="29.5" text-anchor="start" textLength="64.4" lengthAdjust="spacingAndGlyphs" >JC-10</text>
<text x="71.5" y="0.0" font-size="29.5" text-anchor="start" textLength="111.6" lengthAdjust="spacingAndGlyphs" >monomer</text>
<text x="190.4" y="0.0" font-size="29.5" text-anchor="start" textLength="103.7" lengthAdjust="spacingAndGlyphs" >form(red)</text>
</g>
<text x="713.3" y="815.9" font-size="24" text-anchor="middle" >0</text>
<text x="794.7" y="815.9" font-size="24" text-anchor="start" >10</text>
<text x="818.7" y="805.1" font-size="12" text-anchor="start" >5</text>
</g>
<g>
<path d="M533.5 1009.6h0M533.8 1002.9h0M537.9 990.9h0M529.9 1015.5h0M528.7 1001.1h0M523.4 1019.8h0M528.4 1014.5h0M532.9 1018.0h0M538.6 992.8h0M525.8 1034.1h0M538.6 1005.2h0M537.1 1003.8h0M534.6 1021.3h0M537.5 1001.6h0M529.6 1012.4h0M538.5 1001.5h0M534.2 995.8h0M532.2 1018.6h0M523.3 1026.8h0M543.5 988.1h0M539.1 983.4h0M540.3 1004.6h0M528.6 1004.5h0M537.9 1006.9h0M528.5 1020.2h0M537.2 991.1h0M528.6 1005.2h0M541.0 999.4h0M535.5 1011.5h0M531.2 1004.4h0M528.3 1008.8h0M530.1 1010.4h0M533.5 1001.2h0M542.6 994.0h0M541.2 984.7h0M542.4 989.0h0M534.8 1002.7h0M532.0 1012.7h0M533.4 1008.7h0M529.7 1009.9h0M533.6 1001.2h0M534.6 994.9h0M522.9 1028.7h0M530.0 1014.4h0M535.9 1003.8h0M524.4 1029.3h0M531.3 1004.5h0M527.4 1035.5h0M527.7 1021.4h0M526.3 1018.5h0M528.8 993.5h0M531.0 1016.2h0M536.7 999.3h0M535.2 1009.5h0M528.8 1003.7h0M539.4 1000.2h0M536.8 997.6h0M529.0 1011.0h0M526.5 1003.8h0M535.9 997.6h0M534.6 1016.1h0M537.0 999.5h0M530.8 1002.9h0M536.6 994.7h0M530.3 1004.8h0M528.9 1014.5h0M535.4 1000.8h0M527.1 1022.1h0M543.4 993.7h0M528.9 1014.4h0M533.4 1001.7h0M526.2 1005.6h0M530.2 1006.6h0M531.9 1012.7h0M542.9 992.5h0M526.2 1014.9h0M535.7 990.0h0M535.9 1011.8h0M534.6 991.9h0M530.4 1012.6h0M532.9 1004.5h0M540.8 1003.1h0M527.2 1018.6h0M533.7 1025.1h0M531.9 1012.3h0M535.8 998.7h0M536.6 1010.1h0M531.8 990.3h0M536.8 998.9h0M533.0 992.8h0M536.5 1008.7h0M540.4 986.8h0M536.2 1003.8h0M530.8 1004.6h0M530.3 1018.1h0M530.9 988.6h0M537.2 995.7h0M527.3 1015.3h0M528.5 997.6h0M535.7 999.0h0M535.5 996.9h0M534.6 990.5h0M526.3 1007.0h0M537.2 1006.8h0M534.1 996.6h0M532.5 991.9h0M531.4 995.4h0M532.2 1001.2h0M538.6 989.3h0M531.1 1019.6h0M534.3 1000.9h0M537.2 990.0h0M532.6 1014.7h0M527.0 1026.7h0M525.7 1026.1h0M527.1 1021.6h0M539.3 990.3h0M535.4 997.5h0M533.4 1012.7h0M533.4 1014.7h0M544.6 984.5h0M537.4 993.2h0M531.0 997.5h0M525.3 1015.5h0M540.9 998.6h0M527.1 1017.2h0M529.3 1015.4h0M537.9 998.7h0M534.5 994.1h0M528.1 1006.4h0M534.2 982.6h0M535.4 1019.8h0M525.2 1020.1h0M532.1 996.2h0M536.8 1005.8h0M533.4 1003.5h0M538.0 987.7h0M531.8 1009.8h0M535.0 1016.8h0M526.9 1028.3h0M535.6 994.5h0M536.8 1006.3h0M534.6 1000.4h0M544.7 988.1h0M529.2 1010.7h0M539.5 986.3h0M522.5 1031.2h0M531.6 998.1h0M528.2 1010.6h0M531.4 1013.6h0M527.6 1009.8h0M526.8 1021.1h0M538.8 988.3h0M532.4 1007.8h0M532.8 1020.0h0M521.7 1037.0h0M523.9 1031.6h0M526.1 1022.9h0M532.7 1013.8h0M534.0 996.3h0M533.0 1003.1h0M528.4 1023.1h0M525.2 1006.5h0M531.2 1007.4h0M526.5 1018.7h0M538.1 988.2h0M521.0 1030.3h0M526.2 1023.3h0M523.2 1039.1h0M537.4 990.4h0M547.6 996.8h0M530.6 1017.7h0M535.8 990.5h0M539.5 1006.7h0M532.9 997.3h0M526.1 1018.2h0M537.6 990.8h0M529.6 1017.3h0M540.0 1002.1h0M535.4 988.2h0M534.7 1002.7h0M533.7 1004.6h0M526.3 1010.3h0M527.7 1023.3h0M537.0 1000.5h0M530.0 999.5h0M537.6 1001.2h0M533.9 1011.1h0M537.4 999.4h0M524.9 1025.3h0M539.8 1000.3h0M528.4 1005.7h0M539.7 1001.6h0M537.9 1013.2h0M530.9 1015.0h0M525.7 1019.8h0M527.5 1020.7h0M535.6 1002.9h0M531.3 998.0h0M539.2 994.0h0M531.9 1010.2h0M526.4 1014.9h0M540.8 1002.2h0M542.1 994.3h0M536.2 1002.9h0M531.0 1009.0h0M535.9 1008.7h0M533.0 995.1h0M527.4 1017.5h0M533.2 1003.4h0M528.6 997.9h0M531.8 1004.1h0M537.5 986.6h0M538.0 1011.4h0M540.4 1000.1h0M536.8 1000.3h0M536.9 1003.4h0M530.9 1007.5h0M543.9 985.8h0M538.1 984.5h0M525.3 1030.9h0M533.0 1007.4h0M530.6 1009.1h0M530.8 1010.6h0M536.3 1002.1h0M531.2 1015.3h0M535.0 1021.6h0M525.1 1030.1h0M542.3 992.4h0M535.2 1008.7h0M537.7 1002.4h0M538.9 991.1h0M546.6 990.2h0M526.8 1000.2h0M530.3 1025.2h0M522.4 1024.0h0M535.8 1013.3h0M535.2 1004.5h0M532.9 1003.2h0M523.7 1024.6h0M534.8 1007.8h0M535.7 1008.2h0M537.8 990.1h0M536.2 1002.5h0M532.3 1003.6h0M536.9 1018.6h0M533.5 997.5h0M531.4 997.1h0M537.1 989.3h0M527.8 1015.8h0M536.5 995.1h0M546.2 998.9h0M525.7 1027.7h0M539.0 982.6h0M534.2 992.9h0M533.4 997.4h0M540.4 989.2h0M529.1 991.9h0M540.7 993.2h0M523.3 1021.3h0M535.7 1004.6h0M527.0 1018.2h0M530.1 1009.6h0M534.8 1005.7h0M530.9 1002.2h0M536.5 999.8h0M544.4 990.6h0M527.1 1018.1h0M530.8 1014.7h0M537.0 1004.7h0M537.7 1009.2h0M526.4 1008.9h0M533.8 1003.9h0M531.4 996.9h0M523.4 1033.0h0M527.5 1003.8h0M529.9 1013.7h0M533.7 1023.3h0M533.5 996.6h0M531.2 1023.5h0M534.0 1011.5h0M534.4 1002.0h0M525.6 1003.8h0M532.2 1017.4h0M535.4 993.1h0M534.1 1011.3h0M531.3 1006.0h0M531.4 1012.3h0M536.5 992.4h0M537.0 1002.1h0M536.4 987.5h0M534.9 1001.1h0M521.2 1038.5h0M530.7 1021.6h0M532.9 1026.0h0M526.9 1013.0h0M539.8 1003.3h0M527.3 1037.2h0M524.0 1039.9h0M537.2 995.1h0M534.8 1011.5h0M525.9 1017.0h0M525.4 1021.8h0M533.9 1011.0h0M531.5 1016.6h0M535.1 998.8h0M526.9 1018.6h0M529.7 987.3h0M529.8 1005.5h0M529.2 1005.1h0M533.8 999.8h0M525.4 1018.2h0M539.0 990.1h0M525.9 1016.4h0M530.6 1013.2h0M531.6 1007.2h0M529.6 1008.2h0M525.9 1001.9h0M537.8 1007.5h0M532.3 1008.9h0M536.3 1012.5h0M531.1 995.0h0M535.9 990.1h0M535.4 1008.4h0M532.9 994.8h0M532.5 1019.6h0M539.3 996.4h0M532.2 1002.9h0M530.6 1003.2h0M537.6 995.9h0M534.1 1012.4h0M536.7 995.0h0M536.4 984.8h0M527.6 1019.9h0M526.4 1032.7h0M532.8 998.5h0M524.3 1034.9h0M531.8 989.3h0M534.7 1000.5h0M542.5 986.4h0M524.9 1018.1h0M529.3 1000.6h0M525.0 1018.8h0M531.5 987.7h0M531.8 989.5h0M530.2 1021.3h0M535.8 987.6h0M533.8 1004.9h0M542.9 992.7h0M537.1 1017.1h0M530.3 1016.1h0M530.3 1000.4h0M528.7 1012.2h0M530.4 1026.1h0M537.7 1012.5h0M528.6 1033.1h0M524.8 1020.8h0M532.8 1012.5h0M534.4 1004.1h0M536.2 1002.2h0M528.4 1001.6h0M537.5 997.7h0M537.2 1010.6h0M533.0 1021.0h0M537.1 1006.6h0M534.0 995.2h0M529.5 1018.7h0M540.3 996.0h0M528.7 1027.3h0M529.9 1025.5h0M525.6 1017.9h0M538.8 990.3h0M536.5 995.8h0M536.4 993.0h0M522.1 1025.5h0M529.1 1016.6h0M536.1 1000.5h0M538.3 1001.8h0M532.2 1000.8h0M527.5 1012.5h0M526.1 1012.1h0M536.3 998.4h0M539.9 997.1h0M534.2 1004.8h0M525.5 1004.5h0M533.0 1009.7h0M532.6 994.4h0M540.0 986.0h0M532.1 1005.9h0M523.1 1034.0h0M526.6 1005.9h0M534.9 1011.1h0M544.8 995.8h0M536.3 998.0h0M533.4 1000.0h0M536.5 989.5h0M529.6 1001.0h0M535.4 1003.5h0M535.5 1005.3h0M525.9 1017.2h0M539.3 1009.1h0M538.8 1013.5h0M536.3 987.9h0M529.2 1004.9h0M525.9 1013.4h0M526.0 1008.6h0M538.1 994.1h0M526.7 1012.9h0M542.3 985.2h0M539.3 992.1h0M529.0 1024.7h0M544.8 985.9h0M525.5 1020.7h0M540.2 1001.5h0M533.0 1010.8h0M529.6 1021.8h0M532.7 1008.2h0M538.8 1003.3h0M542.0 990.4h0M529.3 995.5h0M529.8 1020.4h0M530.5 1009.7h0M530.8 1005.0h0M531.4 1026.6h0M533.3 1005.5h0M534.8 1011.4h0M530.2 1008.9h0M535.1 1003.3h0M532.3 1003.8h0M528.5 1024.1h0M525.4 1018.1h0M529.0 1018.1h0M531.8 1002.0h0M534.4 996.9h0M532.1 1008.0h0M524.9 1035.2h0M531.5 1009.8h0M533.9 994.3h0M525.8 1009.6h0M530.7 1031.2h0M544.5 987.2h0M531.6 1023.4h0M535.5 1018.1h0M535.2 994.7h0M530.2 1015.1h0M542.8 987.5h0M527.2 1020.7h0M534.5 1013.1h0M536.7 994.2h0M534.4 987.6h0M538.4 1011.9h0M544.7 991.3h0M531.9 1021.3h0M525.0 1024.5h0M538.0 995.9h0M524.3 1015.7h0M534.0 1011.6h0M528.6 1004.0h0M530.2 1023.5h0M539.9 1011.7h0M537.2 1011.9h0M528.8 987.0h0M538.3 1004.8h0M543.8 983.7h0M537.5 1003.9h0M527.6 1010.7h0M530.0 1014.8h0M535.5 1021.7h0M539.8 1006.0h0M535.6 1006.2h0M529.6 1008.6h0M530.7 1008.1h0M526.4 1013.4h0M540.7 994.4h0M532.4 1015.1h0M533.9 1016.1h0M533.9 1014.7h0M538.5 996.6h0M532.1 995.0h0M536.3 1004.5h0M539.2 1009.4h0M531.2 1016.9h0M527.6 1006.9h0M532.8 1007.7h0M521.6 1030.4h0M530.9 1004.3h0M526.0 1006.9h0M531.5 1011.1h0M535.1 1006.4h0M536.9 1008.0h0M526.8 1010.1h0M524.9 1011.0h0M535.1 993.9h0M538.3 991.4h0M532.0 1000.9h0M528.5 1011.2h0M528.9 1025.7h0M536.6 1001.3h0M534.0 996.5h0M537.6 1015.7h0M529.0 996.0h0M536.8 1004.9h0M537.2 995.8h0M536.2 1017.5h0M536.0 1006.3h0M530.6 1013.9h0M535.9 1002.2h0M524.8 1014.8h0M536.0 1001.7h0M532.7 1011.2h0M528.7 1031.1h0M544.9 990.7h0M533.4 995.5h0M526.4 1021.5h0M543.5 983.3h0M532.7 1013.6h0M542.8 987.5h0M539.3 998.8h0M535.6 987.6h0M528.6 1021.9h0M540.7 1000.1h0M534.7 1010.3h0M530.9 1011.1h0M533.9 1008.9h0M529.6 1023.3h0M524.6 1017.6h0M533.8 1009.1h0M538.4 992.2h0M538.5 991.3h0M532.7 1005.0h0M529.6 1010.1h0M535.6 1006.9h0M527.0 1028.3h0M531.1 1018.7h0M538.6 998.1h0M537.2 1012.6h0M534.0 1011.1h0M532.0 1012.5h0M529.4 1011.7h0M531.2 1004.7h0M540.7 999.3h0M532.8 994.4h0M535.0 1017.6h0M535.8 986.6h0M539.6 991.8h0M535.3 1016.0h0M532.3 1005.2h0M540.0 999.1h0M532.9 996.7h0M534.0 1002.9h0M528.7 1011.1h0M539.0 990.4h0M536.9 991.5h0M538.0 988.3h0M532.3 1010.2h0M532.3 984.5h0M534.1 1003.7h0M522.2 1025.6h0M528.5 1011.2h0M525.2 1006.5h0M534.7 1000.3h0M527.2 1005.9h0M537.4 1003.7h0M536.6 1005.9h0M530.6 1015.8h0M535.1 1000.9h0M540.0 993.6h0M535.7 1012.2h0M524.9 1039.3h0M530.9 1014.4h0M533.8 1020.0h0M529.8 1000.5h0M543.3 988.0h0M532.6 1013.5h0M536.5 982.5h0M533.3 997.1h0M533.3 996.3h0M535.3 1008.1h0M530.9 992.5h0M536.6 1000.5h0M541.9 991.8h0M535.7 990.7h0M542.2 1002.0h0M530.4 1017.7h0M533.9 990.2h0M542.3 998.1h0M527.1 1024.9h0M530.1 993.8h0M537.1 1000.2h0M531.7 1014.5h0M538.3 996.7h0M537.0 1004.9h0M534.6 1010.7h0M529.6 1010.2h0M523.4 1021.6h0M528.1 1015.1h0M535.8 1001.2h0M531.9 997.4h0M533.5 991.5h0M534.0 1006.9h0M527.8 1002.9h0M535.8 1009.2h0M535.3 988.7h0M527.9 1018.9h0M526.5 1021.0h0M539.9 985.7h0M534.3 1005.7h0M535.5 993.5h0M521.0 1034.3h0M533.2 1009.8h0M528.7 1018.5h0M536.6 997.0h0M546.3 986.2h0M535.6 1020.3h0M525.3 1011.3h0M539.0 992.4h0M533.7 993.1h0M535.6 989.8h0M541.1 997.5h0M524.6 1029.4h0M531.8 1022.3h0M531.3 1008.8h0M529.1 1025.0h0M532.1 1002.9h0M536.4 1007.3h0M527.5 1015.1h0M534.3 1004.2h0M534.7 1000.2h0M534.9 991.3h0M532.4 1010.5h0M542.3 1004.5h0M536.3 1004.6h0M529.9 1009.5h0M533.6 1017.1h0M534.7 1006.9h0M536.0 1004.0h0M530.1 1005.2h0M534.5 999.1h0M534.5 1002.5h0M526.1 1028.8h0M537.3 1001.8h0M526.0 1014.0h0M532.0 996.4h0M534.4 1012.0h0M538.5 1004.7h0M534.6 997.9h0M534.0 1005.6h0M530.5 1014.3h0M544.7 992.2h0M530.7 1025.2h0M537.3 1005.9h0M529.0 1005.1h0M532.7 1004.1h0M536.0 991.1h0M538.2 997.3h0M532.2 1021.3h0M523.9 1020.3h0M533.1 1015.3h0M527.6 1010.9h0M540.2 995.8h0M542.0 986.4h0M530.3 998.6h0M534.6 999.8h0M531.8 1018.8h0M529.7 1024.5h0M533.6 999.3h0M531.0 1008.0h0M529.7 1017.0h0M521.6 1033.1h0M528.5 1020.9h0M530.9 1013.1h0M529.5 1022.3h0M534.9 999.5h0M534.4 1003.1h0M530.4 1008.8h0M535.7 998.1h0M538.2 990.9h0M529.9 1020.5h0M528.1 1019.2h0M531.3 1018.9h0M533.9 1004.5h0M531.8 1021.5h0M531.5 992.8h0M538.1 1013.2h0M527.0 1017.0h0M538.6 1002.7h0M541.9 986.8h0M539.6 1001.9h0M533.1 997.3h0M528.9 1021.3h0M538.3 998.5h0M537.6 1000.0h0M535.3 1008.2h0M535.2 991.8h0M525.2 1032.2h0M530.6 1002.3h0M536.4 999.0h0M538.7 989.0h0M527.3 999.9h0M537.3 1007.6h0M530.8 996.1h0M538.8 1000.1h0M540.4 1000.9h0M539.7 993.2h0M539.1 992.7h0M536.7 990.5h0M543.3 989.1h0M536.8 1000.9h0M537.5 992.0h0M531.3 999.3h0M533.5 994.4h0M542.9 994.5h0M542.4 998.8h0M545.9 992.4h0M536.8 987.8h0M539.4 986.6h0M540.9 990.7h0M533.4 992.4h0M535.7 992.3h0M527.5 987.0h0M539.3 990.8h0M550.6 989.7h0M535.4 994.7h0M539.2 1003.6h0M544.7 998.4h0M543.3 999.6h0M535.3 990.8h0M530.5 1001.7h0M540.6 993.7h0M548.4 992.8h0M535.9 988.6h0M544.1 999.7h0M534.7 993.0h0M543.0 993.1h0M529.2 1000.2h0M545.8 990.9h0M537.9 1000.3h0M539.6 993.8h0M538.5 997.3h0M536.6 994.2h0M547.1 991.7h0M551.3 991.1h0M538.5 993.1h0M550.5 991.3h0M539.2 997.7h0M542.5 1004.8h0M540.8 1006.1h0M536.0 993.0h0M547.1 986.4h0M542.4 993.7h0M535.5 985.6h0M538.2 993.5h0M541.9 993.8h0M546.4 997.1h0M532.7 995.6h0M531.9 994.9h0M543.8 997.4h0M537.8 988.7h0M527.0 996.6h0M538.6 1002.5h0M547.3 988.2h0M531.3 994.4h0M541.7 991.3h0M540.3 990.8h0M536.1 994.9h0M527.1 999.7h0M527.1 998.6h0M526.1 997.4h0M530.4 997.6h0M542.9 994.2h0M541.1 995.7h0M532.6 999.4h0M541.3 984.4h0M542.5 987.2h0M532.8 987.5h0M550.7 989.9h0M539.5 992.8h0M532.7 1000.9h0M543.8 997.0h0M539.9 997.8h0M547.9 990.5h0M541.4 1002.8h0M529.3 998.7h0M541.1 996.4h0M534.8 991.9h0M532.9 992.5h0M539.2 992.2h0M541.8 988.2h0M538.1 992.8h0M530.0 1006.5h0M530.3 995.9h0M543.6 985.3h0M550.6 986.8h0M551.4 989.1h0M535.9 991.0h0M542.6 991.3h0M534.2 992.9h0M542.4 988.9h0M540.8 993.7h0M534.4 992.8h0M537.2 994.0h0M540.5 999.3h0M536.0 993.6h0M540.3 989.5h0M543.1 995.2h0M532.6 998.6h0M545.1 994.0h0M528.2 986.1h0M535.8 990.9h0M535.8 986.5h0M546.3 989.4h0M542.0 988.8h0M546.2 992.7h0M529.7 990.7h0M536.4 991.2h0M539.5 999.2h0M537.1 992.8h0M548.7 995.8h0M534.7 993.4h0M539.6 1005.0h0M543.8 988.2h0M549.8 989.1h0M550.3 986.6h0M532.2 998.6h0M532.7 996.0h0M533.6 994.2h0M549.0 991.8h0M538.0 988.4h0M537.9 996.8h0M534.5 985.5h0M531.3 995.0h0M536.3 982.9h0M544.2 992.4h0M536.6 989.0h0M536.6 995.0h0M548.2 993.9h0M537.4 992.3h0M535.2 989.4h0M544.6 990.0h0M538.9 997.1h0M529.4 1005.0h0M526.8 995.1h0M541.0 993.4h0M538.5 993.0h0M539.9 1001.6h0M548.7 991.0h0M539.0 995.3h0M549.9 991.4h0M530.2 1008.1h0M539.8 993.6h0M537.9 997.0h0M539.1 990.2h0M531.1 1005.1h0M537.7 990.0h0M541.1 985.4h0M547.1 988.3h0M544.6 992.5h0M540.8 986.9h0M536.0 992.7h0M528.5 994.3h0M538.3 987.8h0M529.8 994.5h0M533.0 989.6h0M542.8 989.7h0M546.7 994.3h0M535.5 1001.3h0M544.3 987.5h0M540.6 996.2h0M547.4 988.1h0M532.1 996.1h0M537.6 986.7h0M542.8 995.6h0M528.7 986.8h0M535.6 992.0h0M532.4 988.9h0M546.7 990.9h0M549.1 987.7h0M533.1 987.2h0M538.8 995.4h0M544.6 992.8h0M535.5 996.6h0M545.6 995.2h0M542.0 992.8h0M538.8 992.7h0M536.2 994.5h0M534.2 992.0h0M541.3 994.8h0M542.9 989.4h0M541.5 987.1h0M539.1 997.2h0M538.1 999.0h0M538.6 1001.5h0M527.3 994.4h0M543.8 987.3h0M543.2 995.4h0M536.1 995.0h0M543.1 988.6h0M541.1 993.2h0M534.4 990.1h0M530.8 1000.3h0M531.3 986.2h0M534.0 995.5h0M549.6 986.8h0M548.6 993.4h0M542.3 1008.2h0M541.8 1000.4h0M540.1 985.5h0M539.3 1000.2h0M545.1 996.6h0M535.2 994.3h0M538.0 993.9h0M543.8 991.8h0M534.8 990.0h0M545.1 993.8h0M546.0 992.4h0M540.2 990.4h0M540.3 994.4h0M532.7 997.1h0M542.4 1001.3h0M542.1 990.5h0M541.6 990.7h0M538.2 995.1h0M529.4 1002.1h0M550.2 993.2h0M536.7 994.3h0M527.4 999.0h0M542.7 984.6h0M548.8 994.4h0M541.1 994.1h0M538.5 1007.3h0M525.6 1015.3h0M527.1 1017.0h0M523.2 1028.7h0M524.1 1039.1h0M524.3 1033.3h0M526.6 1020.8h0M524.2 1031.8h0M525.6 1028.3h0M523.8 1029.0h0M521.6 1041.5h0M523.9 1027.1h0M523.9 1023.5h0M521.7 1043.4h0M528.0 1019.5h0M521.9 1034.7h0M523.9 1028.9h0M525.4 1033.2h0M524.3 1032.8h0M525.3 1022.9h0M521.5 1032.4h0M521.8 1031.2h0M525.5 1015.5h0M526.1 1035.6h0M521.8 1025.4h0M524.5 1022.5h0M525.5 1029.7h0M526.8 1029.2h0M525.9 1024.9h0M524.8 1036.6h0M521.8 1035.3h0M522.8 1038.6h0M522.4 1028.9h0M523.3 1034.0h0M526.4 1024.6h0M525.8 1023.8h0M525.5 1032.5h0M521.9 1031.0h0M525.1 1032.1h0M525.9 1038.9h0M525.2 1007.4h0M526.5 1021.0h0M525.2 1035.8h0M524.8 1036.2h0M523.3 1029.8h0M524.0 1037.3h0M522.8 1040.5h0M523.0 1028.3h0M522.3 1036.7h0M525.0 1024.6h0M527.4 1027.9h0M526.3 1034.0h0M525.7 1043.8h0M522.8 1039.3h0M524.0 1035.0h0M522.7 1037.9h0M523.0 1036.9h0M526.6 1038.0h0M522.8 1042.2h0M521.4 1032.4h0M522.0 1031.0h0M523.0 1030.6h0M526.1 1039.1h0M524.0 1035.4h0M522.2 1029.0h0M526.8 1024.2h0M525.6 1027.5h0M530.0 1023.5h0M523.4 1043.6h0M523.4 1041.3h0M527.9 1027.5h0M525.8 1038.2h0M524.1 1040.5h0M525.7 1027.3h0M526.0 1015.5h0M523.3 1041.6h0M526.5 1022.1h0M526.0 1030.0h0M526.2 1025.7h0M525.0 1032.5h0M522.3 1039.9h0M527.0 1030.1h0M525.2 1042.6h0M525.8 1021.4h0M524.2 1027.7h0M525.6 1040.4h0M524.8 1018.2h0M523.3 1031.8h0M523.4 1035.8h0M524.6 1018.7h0M522.3 1035.2h0M526.2 1038.2h0M525.3 1036.9h0M525.7 1030.5h0M528.1 1025.2h0M521.6 1040.4h0M523.2 1029.1h0M524.7 1020.4h0M524.1 1038.3h0M526.2 1031.4h0M526.1 1032.8h0M522.2 1024.7h0M527.4 1016.9h0M527.7 1019.7h0M523.1 1039.0h0M524.2 1018.4h0M523.6 1024.4h0M525.1 1024.0h0M524.6 1028.3h0M527.1 1030.9h0M524.2 1030.2h0M525.3 1039.7h0M524.1 1031.9h0M526.3 1036.3h0M525.7 1027.1h0M524.4 1014.6h0M520.9 1035.0h0M526.1 1017.5h0M525.2 1013.2h0M524.6 1024.2h0M526.5 1034.5h0M525.1 1044.0h0M522.1 1033.9h0M522.6 1040.4h0M526.6 1040.1h0M529.7 1018.4h0M526.9 1029.5h0M527.7 1039.8h0M527.1 1042.0h0M522.3 1038.5h0M526.1 1029.5h0M524.2 1039.7h0M522.4 1024.5h0M523.6 1030.0h0M525.6 1036.7h0M523.7 1024.9h0M522.8 1036.7h0M522.4 1028.9h0M529.5 1026.5h0M524.8 1038.7h0M522.6 1023.4h0M523.8 1040.4h0M524.7 1036.6h0M527.6 1039.6h0M524.1 1031.9h0M523.9 1033.1h0M525.1 1014.7h0M526.8 1031.3h0M524.6 1022.3h0M525.5 1031.5h0M521.6 1037.0h0M525.4 1043.6h0M522.3 1032.0h0M523.2 1036.1h0M523.8 1031.9h0M521.6 1038.7h0M525.2 1027.2h0M522.7 1028.8h0M525.9 1029.3h0M523.0 1026.5h0M527.7 1006.2h0M522.1 1033.9h0M524.7 1036.0h0M525.5 1026.9h0M523.2 1029.1h0M520.5 1040.2h0M525.7 1027.4h0M524.3 1022.6h0M524.3 1029.7h0M525.8 1039.6h0M527.2 1028.4h0M524.4 1031.0h0M522.5 1037.9h0M525.3 1017.1h0M523.3 1039.1h0M526.5 1039.3h0M524.8 1028.1h0M526.0 1030.1h0M524.6 1035.7h0M524.4 1043.7h0M522.8 1033.7h0M527.3 1032.2h0M524.3 1037.7h0M522.7 1030.3h0M527.2 1025.0h0M524.7 1031.6h0M522.8 1042.7h0M527.9 1027.3h0M520.8 1036.8h0M522.9 1031.2h0M524.4 1026.8h0M524.2 1016.6h0M526.9 1027.3h0M525.0 1019.2h0M523.7 1043.1h0M523.9 1034.5h0M525.8 1034.7h0M524.9 1030.0h0M527.7 1040.0h0M524.5 1038.9h0M525.6 1028.3h0M537.8 999.0h0M532.8 995.1h0M538.5 987.4h0M557.8 979.6h0M529.3 1010.5h0M544.7 992.7h0M539.0 980.5h0M530.4 1013.6h0M532.5 1010.5h0M533.4 999.3h0M534.5 1007.0h0M533.1 1002.7h0M530.1 1016.0h0M528.2 1006.3h0M547.4 980.2h0M535.9 990.6h0M539.5 1007.2h0M536.2 996.3h0M535.9 1007.0h0M528.3 998.4h0M528.9 1009.1h0M522.5 1026.2h0M534.6 1003.2h0M545.1 1007.0h0M541.4 998.8h0M534.5 1000.0h0M533.5 1010.9h0M533.0 996.6h0M547.6 1011.4h0M539.2 999.8h0M553.0 998.5h0M540.9 981.1h0M548.4 977.3h0M536.9 1003.2h0M542.4 1002.9h0M533.7 1020.2h0M546.0 964.3h0M539.0 1003.4h0M556.4 967.6h0M540.7 1007.5h0M538.8 984.2h0M538.8 986.0h0M532.8 987.6h0M531.5 1018.2h0M531.8 986.5h0M522.2 1162.7h0M521.7 1134.1h0M523.2 1054.9h0M522.7 1089.4h0M525.9 1046.8h0M523.7 1166.6h0M524.2 1134.2h0M521.0 1152.9h0M525.8 1132.3h0M525.8 1072.9h0M522.3 1144.6h0M522.4 1117.1h0M522.8 1179.2h0M525.7 1055.6h0M522.0 1083.5h0M522.4 1128.4h0M521.7 1117.0h0M524.2 1106.7h0M524.9 1151.3h0M522.5 1058.0h0M525.3 1166.5h0M524.0 1082.8h0M522.7 1077.6h0M524.5 1048.8h0M525.5 1100.4h0M525.5 1087.5h0M524.5 1083.0h0M525.5 1152.8h0M523.8 1110.2h0M524.2 1081.2h0M526.2 1088.8h0M523.7 1049.0h0M522.7 1085.2h0M522.2 1062.9h0M523.1 1074.5h0M521.3 1063.5h0M522.6 1088.7h0M522.3 1046.4h0M523.6 1100.6h0M522.0 1163.5h0M523.6 1142.7h0M523.8 1130.5h0M524.9 1158.8h0M525.2 1149.3h0M525.9 1149.4h0M523.5 1174.1h0M522.0 1121.3h0M524.8 1125.2h0M524.4 1167.4h0M523.2 1057.7h0M524.9 1178.7h0M526.4 1173.4h0M524.3 1115.6h0M523.3 1153.9h0M524.1 1143.8h0M522.6 1109.5h0M526.5 1049.4h0M522.2 1120.6h0M522.5 1080.6h0M525.2 1108.5h0M523.6 1054.1h0M522.2 1108.2h0M525.1 1171.0h0M525.4 1156.4h0M521.7 1141.5h0M524.7 1046.2h0M525.1 1127.5h0M526.3 1059.0h0M524.5 1160.9h0M524.8 1161.1h0M524.0 1155.8h0M524.8 1093.4h0M526.1 1061.4h0M524.8 1168.6h0M523.0 1056.7h0M523.7 1145.0h0M526.4 1072.6h0M522.2 1051.5h0M523.0 1135.8h0M523.0 1135.9h0M525.6 1165.3h0M522.7 1149.6h0M523.3 1161.2h0M523.8 1137.6h0M524.6 1081.8h0M524.7 1163.8h0M522.3 1125.7h0M522.3 1052.4h0M521.9 1085.0h0M525.4 1043.8h0M523.5 1090.6h0M524.1 1175.5h0M523.8 1080.8h0M521.9 1150.9h0M521.7 1117.8h0M522.3 1059.2h0M526.4 1106.5h0M523.3 1124.9h0M524.5 1173.5h0M522.5 1112.2h0M527.3 1142.6h0M523.9 1148.1h0M521.7 1173.8h0M523.2 1088.2h0M524.3 1165.0h0M525.2 1081.1h0M523.4 1069.5h0M524.7 1108.2h0M524.2 1157.2h0M524.1 1121.5h0M523.3 1120.0h0M524.3 1049.4h0M525.3 1051.2h0M523.8 1177.2h0M523.4 1147.6h0M527.5 1103.5h0M524.7 1130.9h0M524.7 1174.9h0M521.9 1143.3h0M525.3 1054.1h0M521.7 1148.1h0M525.4 1137.7h0M524.3 1119.0h0M523.2 1114.6h0M522.9 1093.1h0M524.0 1047.0h0M523.3 1154.0h0M521.6 1168.1h0M525.2 1113.8h0M521.8 1116.9h0M523.6 1173.2h0M523.2 1088.3h0M525.9 1041.2h0M521.8 1074.1h0M525.1 1075.9h0M524.4 1121.1h0M520.0 1080.6h0M522.0 1156.3h0M522.9 1043.2h0M522.4 1176.0h0M524.1 1087.7h0M524.5 1106.8h0M525.2 1100.3h0M522.8 1049.6h0M524.5 1102.9h0M523.5 1066.2h0M524.5 1057.1h0M523.7 1058.7h0M523.8 1077.6h0M523.4 1159.0h0M524.5 1143.7h0M524.0 1109.3h0M522.5 1078.2h0M521.1 1125.9h0M525.1 1114.8h0M524.8 1073.9h0M523.7 1075.7h0M525.4 1078.0h0M523.7 1160.4h0M523.6 1153.4h0M523.3 1111.5h0M525.5 1162.3h0M526.2 1135.2h0M523.5 1171.4h0M523.0 1073.8h0M525.2 1104.8h0M525.0 1166.5h0M524.7 1065.3h0M521.9 1098.5h0M524.2 1160.5h0M524.1 1090.1h0M523.4 1049.5h0M524.4 1099.0h0M523.6 1101.9h0M524.4 1058.6h0M523.8 1085.7h0M523.5 1129.8h0M526.1 1168.9h0M523.8 1097.0h0M524.6 1050.9h0M525.1 1073.1h0M522.6 1068.2h0M523.6 1084.2h0M522.7 1162.7h0M523.6 1155.5h0M522.3 1102.3h0M525.0 1178.8h0M523.8 1148.7h0M522.2 1158.6h0M524.5 1180.1h0M522.5 1176.4h0M522.0 1066.0h0M524.4 1136.3h0M523.9 1168.7h0M522.9 1125.4h0M524.8 1139.2h0M524.4 1137.3h0M524.1 1067.8h0M525.2 1147.7h0M524.2 1111.9h0M525.5 1045.0h0M524.3 1136.9h0M524.3 1160.2h0M520.1 1112.1h0M523.4 1088.2h0M526.3 1046.2h0M523.1 1089.0h0M523.7 1068.9h0M523.3 1047.8h0M521.5 1150.8h0M524.6 1126.0h0M526.3 1129.3h0M526.0 1103.1h0M523.5 1066.4h0M522.7 1054.2h0M523.1 1168.4h0M524.5 1100.5h0M523.3 1049.4h0M524.9 1139.6h0M524.2 1104.4h0M522.2 1150.9h0M522.3 1139.9h0M524.9 1142.9h0M525.0 1098.9h0M523.9 1089.2h0M525.8 1058.4h0M523.8 1054.7h0M523.5 1137.0h0M523.8 1175.0h0M524.6 1144.8h0M520.9 1098.4h0M524.0 1118.1h0M524.0 1046.7h0M522.7 1157.5h0M522.7 1043.5h0M525.5 1071.3h0M523.2 1179.5h0M523.5 1110.9h0M525.0 1093.6h0M522.2 1159.0h0M527.1 1137.5h0M522.9 1091.8h0M523.0 1130.8h0M522.0 1101.3h0M523.0 1141.7h0M522.6 1048.5h0M523.2 1138.3h0M522.4 1057.5h0M520.7 1067.2h0M525.4 1071.1h0M524.8 1141.9h0M524.7 1169.9h0M524.5 1107.1h0M524.6 1140.9h0M522.9 1123.8h0M527.6 1106.2h0M523.0 1170.8h0M522.2 1148.5h0M526.5 1105.9h0M523.3 1164.1h0M523.9 1052.0h0M522.5 1139.1h0M523.5 1075.1h0M524.4 1083.6h0M524.3 1103.6h0M522.2 1057.9h0M524.8 1100.3h0M522.8 1049.6h0M521.8 1150.8h0M525.0 1092.1h0M524.3 1090.1h0M523.5 1056.1h0M522.8 1133.9h0M524.8 1094.9h0M523.5 1051.7h0M522.9 1171.4h0M524.6 1070.7h0M524.2 1044.9h0M522.2 1083.0h0M525.5 1134.9h0M521.6 1170.6h0M522.8 1169.3h0M524.3 1101.1h0M523.7 1089.9h0M524.9 1044.3h0M524.6 1114.6h0M520.7 1156.5h0M525.6 1144.2h0M523.2 1148.2h0M523.8 1076.1h0M522.8 1080.9h0M522.4 1092.0h0M524.7 1116.1h0M524.4 1091.3h0M524.2 1173.5h0M523.0 1082.6h0M525.9 1054.4h0M524.3 1105.1h0M524.6 1040.6h0M523.9 1045.9h0M524.2 1100.2h0M525.3 1138.0h0M525.2 1124.4h0M525.3 1076.2h0M524.0 1099.3h0M524.0 1077.7h0M522.3 1050.9h0M523.6 1099.8h0M523.1 1121.5h0M522.8 1088.3h0M523.8 1107.5h0M523.9 1144.6h0M522.9 1048.4h0M521.6 1043.1h0M523.5 1103.0h0M523.8 1100.6h0M524.2 1165.5h0M522.7 1151.2h0M522.1 1077.3h0M521.4 1156.3h0M523.8 1105.8h0M523.1 1131.9h0M524.6 1068.4h0M522.0 1082.6h0M525.5 1163.5h0M523.6 1063.3h0M523.5 1045.7h0M524.0 1050.9h0M524.7 1124.3h0M524.9 1104.7h0M525.5 1178.5h0M528.0 1158.6h0M525.5 1174.4h0M526.6 1194.0h0M527.0 1168.2h0M526.9 1170.1h0M524.7 1152.1h0M523.5 1162.8h0M526.6 1178.8h0M526.1 1172.3h0M523.8 1179.0h0M527.5 1163.1h0M523.1 1189.0h0M522.4 1189.1h0M524.5 1182.4h0M522.2 1184.5h0M524.3 1187.6h0M524.5 1176.1h0M523.5 1160.4h0M524.7 1194.9h0M522.3 1168.3h0M520.5 1152.3h0M526.0 1161.6h0M526.2 1172.0h0M526.1 1175.2h0M523.9 1181.9h0M525.4 1171.0h0M524.0 1191.9h0M526.7 1190.4h0M522.5 1165.9h0M525.1 1185.3h0M523.8 1184.6h0M525.8 1164.8h0M524.7 1195.7h0M521.4 1170.4h0M524.0 1176.8h0M522.8 1154.4h0M525.4 1156.1h0M526.1 1173.0h0M522.5 1174.0h0M528.7 1210.8h0M540.1 970.6h0M547.6 976.3h0M549.3 979.8h0M554.6 979.8h0M558.6 979.8h0M556.8 983.8h0M537.9 981.2h0M544.5 981.2h0M529.5 984.5h0M522.9 989.0h0M520.7 993.0h0M517.6 1000.0h0M521.1 1005.0h0M552.9 998.3h0M518.9 1026.0h0M530.0 1088.0h0M529.0 1135.0h0M528.0 1070.0h0" fill="none" stroke="#0c0c0c" stroke-width="2.65" stroke-linecap="round"/>
<line x1="482.0" y1="897.0" x2="482.0" y2="1217.7" stroke="#111" stroke-width="2.00"/>
<line x1="317.3" y1="1043.4" x2="668.0" y2="1043.4" stroke="#111" stroke-width="1.10"/>
<line x1="317.3" y1="896.3" x2="317.3" y2="1218.6" stroke="#111" stroke-width="2.00"/>
<line x1="316.3" y1="1217.7" x2="667.0" y2="1217.7" stroke="#111" stroke-width="2.00"/>
<line x1="312.1" y1="905.9" x2="317.3" y2="905.9" stroke="#111" stroke-width="1.40"/>
<line x1="312.1" y1="978.2" x2="317.3" y2="978.2" stroke="#111" stroke-width="1.40"/>
<line x1="312.1" y1="1055.8" x2="317.3" y2="1055.8" stroke="#111" stroke-width="1.40"/>
<line x1="312.1" y1="965.5" x2="317.3" y2="965.5" stroke="#111" stroke-width="1.40"/>
<line x1="312.1" y1="1041.8" x2="317.3" y2="1041.8" stroke="#111" stroke-width="1.40"/>
<line x1="312.1" y1="956.5" x2="317.3" y2="956.5" stroke="#111" stroke-width="1.40"/>
<line x1="312.1" y1="1031.8" x2="317.3" y2="1031.8" stroke="#111" stroke-width="1.40"/>
<line x1="312.1" y1="949.5" x2="317.3" y2="949.5" stroke="#111" stroke-width="1.40"/>
<line x1="312.1" y1="1024.1" x2="317.3" y2="1024.1" stroke="#111" stroke-width="1.40"/>
<line x1="312.1" y1="943.7" x2="317.3" y2="943.7" stroke="#111" stroke-width="1.40"/>
<line x1="312.1" y1="1017.7" x2="317.3" y2="1017.7" stroke="#111" stroke-width="1.40"/>
<line x1="312.1" y1="938.9" x2="317.3" y2="938.9" stroke="#111" stroke-width="1.40"/>
<line x1="312.1" y1="1012.4" x2="317.3" y2="1012.4" stroke="#111" stroke-width="1.40"/>
<line x1="312.1" y1="934.7" x2="317.3" y2="934.7" stroke="#111" stroke-width="1.40"/>
<line x1="312.1" y1="1007.7" x2="317.3" y2="1007.7" stroke="#111" stroke-width="1.40"/>
<line x1="312.1" y1="931.0" x2="317.3" y2="931.0" stroke="#111" stroke-width="1.40"/>
<line x1="312.1" y1="1003.7" x2="317.3" y2="1003.7" stroke="#111" stroke-width="1.40"/>
<line x1="312.1" y1="1083.9" x2="317.3" y2="1083.9" stroke="#111" stroke-width="1.40"/>
<line x1="312.1" y1="1088.2" x2="317.3" y2="1088.2" stroke="#111" stroke-width="1.40"/>
<line x1="312.1" y1="1093.3" x2="317.3" y2="1093.3" stroke="#111" stroke-width="1.40"/>
<line x1="312.1" y1="1099.4" x2="317.3" y2="1099.4" stroke="#111" stroke-width="1.40"/>
<line x1="312.1" y1="1105.9" x2="317.3" y2="1105.9" stroke="#111" stroke-width="1.40"/>
<line x1="312.1" y1="1113.8" x2="317.3" y2="1113.8" stroke="#111" stroke-width="1.40"/>
<line x1="312.1" y1="1122.4" x2="317.3" y2="1122.4" stroke="#111" stroke-width="1.40"/>
<line x1="312.1" y1="1131.9" x2="317.3" y2="1131.9" stroke="#111" stroke-width="1.40"/>
<line x1="312.1" y1="1180.4" x2="317.3" y2="1180.4" stroke="#111" stroke-width="1.40"/>
<line x1="312.1" y1="1191.4" x2="317.3" y2="1191.4" stroke="#111" stroke-width="1.40"/>
<line x1="312.1" y1="1199.9" x2="317.3" y2="1199.9" stroke="#111" stroke-width="1.40"/>
<line x1="312.1" y1="1207.6" x2="317.3" y2="1207.6" stroke="#111" stroke-width="1.40"/>
<line x1="312.1" y1="1214.2" x2="317.3" y2="1214.2" stroke="#111" stroke-width="1.40"/>
<line x1="308.0" y1="927.7" x2="317.3" y2="927.7" stroke="#111" stroke-width="1.60"/>
<line x1="308.0" y1="1000.0" x2="317.3" y2="1000.0" stroke="#111" stroke-width="1.60"/>
<line x1="308.0" y1="1079.9" x2="317.3" y2="1079.9" stroke="#111" stroke-width="1.60"/>
<rect x="312.3" y="1145.0" width="5.0" height="24.0" fill="#151515"/>
<line x1="309.3" y1="1157.0" x2="317.3" y2="1157.0" stroke="#111" stroke-width="1.40"/>
<text x="282.2" y="931.7" font-size="24" text-anchor="start" >10</text>
<text x="306.2" y="920.9" font-size="12" text-anchor="start" >5</text>
<text x="282.2" y="1001.6" font-size="24" text-anchor="start" >10</text>
<text x="306.2" y="990.8" font-size="12" text-anchor="start" >4</text>
<text x="281.6" y="1080.6" font-size="24" text-anchor="start" >10</text>
<text x="305.6" y="1069.8" font-size="12" text-anchor="start" >3</text>
<text x="296.1" y="1164.5" font-size="24" text-anchor="middle" >0</text>
<line x1="490.4" y1="1217.7" x2="490.4" y2="1222.7" stroke="#111" stroke-width="1.50"/>
<line x1="493.1" y1="1217.7" x2="493.1" y2="1222.7" stroke="#111" stroke-width="1.50"/>
<line x1="496.1" y1="1217.7" x2="496.1" y2="1222.7" stroke="#111" stroke-width="1.50"/>
<line x1="499.4" y1="1217.7" x2="499.4" y2="1222.7" stroke="#111" stroke-width="1.50"/>
<line x1="502.6" y1="1217.7" x2="502.6" y2="1222.7" stroke="#111" stroke-width="1.50"/>
<line x1="505.8" y1="1217.7" x2="505.8" y2="1222.7" stroke="#111" stroke-width="1.50"/>
<line x1="509.3" y1="1217.7" x2="509.3" y2="1222.7" stroke="#111" stroke-width="1.50"/>
<line x1="512.8" y1="1217.7" x2="512.8" y2="1222.7" stroke="#111" stroke-width="1.50"/>
<line x1="516.3" y1="1217.7" x2="516.3" y2="1222.7" stroke="#111" stroke-width="1.50"/>
<line x1="519.7" y1="1217.7" x2="519.7" y2="1222.7" stroke="#111" stroke-width="1.50"/>
<line x1="529.0" y1="1217.7" x2="529.0" y2="1222.7" stroke="#111" stroke-width="1.50"/>
<line x1="532.0" y1="1217.7" x2="532.0" y2="1222.7" stroke="#111" stroke-width="1.50"/>
<line x1="535.4" y1="1217.7" x2="535.4" y2="1222.7" stroke="#111" stroke-width="1.50"/>
<line x1="538.9" y1="1217.7" x2="538.9" y2="1222.7" stroke="#111" stroke-width="1.50"/>
<line x1="542.2" y1="1217.7" x2="542.2" y2="1222.7" stroke="#111" stroke-width="1.50"/>
<line x1="545.9" y1="1217.7" x2="545.9" y2="1222.7" stroke="#111" stroke-width="1.50"/>
<line x1="549.3" y1="1217.7" x2="549.3" y2="1222.7" stroke="#111" stroke-width="1.50"/>
<line x1="552.8" y1="1217.7" x2="552.8" y2="1222.7" stroke="#111" stroke-width="1.50"/>
<line x1="556.3" y1="1217.7" x2="556.3" y2="1222.7" stroke="#111" stroke-width="1.50"/>
<line x1="593.7" y1="1217.7" x2="593.7" y2="1222.7" stroke="#111" stroke-width="1.50"/>
<line x1="621.5" y1="1217.7" x2="621.5" y2="1222.7" stroke="#111" stroke-width="1.50"/>
<line x1="641.1" y1="1217.7" x2="641.1" y2="1222.7" stroke="#111" stroke-width="1.50"/>
<line x1="656.2" y1="1217.7" x2="656.2" y2="1222.7" stroke="#111" stroke-width="1.50"/>
<line x1="666.3" y1="1217.7" x2="666.3" y2="1222.7" stroke="#111" stroke-width="1.50"/>
<line x1="559.7" y1="1217.7" x2="559.7" y2="1225.7" stroke="#111" stroke-width="1.60"/>
<rect x="521.0" y="1217.7" width="6.4" height="5.0" fill="#151515"/>
<line x1="521.6" y1="1217.7" x2="521.6" y2="1226.7" stroke="#111" stroke-width="1.40"/>
<line x1="526.8" y1="1217.7" x2="526.8" y2="1226.7" stroke="#111" stroke-width="1.40"/>
<line x1="524.2" y1="1217.7" x2="524.2" y2="1225.7" stroke="#111" stroke-width="1.20"/>
<text transform="translate(326.7 919.3) scale(0.935 1)" font-size="25.7">UL</text>
<text transform="translate(326.7 943.4) scale(0.935 1)" font-size="25.7">0.00</text>
<text transform="translate(612.0 919.3) scale(0.935 1)" font-size="25.7">UR</text>
<text transform="translate(612.0 943.4) scale(0.935 1)" font-size="25.7">80.87</text>
<text transform="translate(326.7 1183.0) scale(0.935 1)" font-size="25.7">LL</text>
<text transform="translate(326.7 1207.4) scale(0.935 1)" font-size="25.7">0.00</text>
<text transform="translate(612.0 1183.0) scale(0.935 1)" font-size="25.7">LR</text>
<text transform="translate(612.0 1207.4) scale(0.935 1)" font-size="25.7">19.13</text>
<text x="332.5" y="1266.4" font-size="29.5" text-anchor="start" textLength="68.2" lengthAdjust="spacingAndGlyphs" >JC-10</text>
<text x="409.1" y="1266.4" font-size="29.5" text-anchor="start" textLength="102.7" lengthAdjust="spacingAndGlyphs" >monomer</text>
<text x="520.9" y="1266.4" font-size="29.5" text-anchor="start" textLength="129.4" lengthAdjust="spacingAndGlyphs" >form(green)</text>
<text x="461.0" y="1296.5" font-size="27" text-anchor="middle" >24 h</text>
<g transform="translate(274.8 1203.2) rotate(-90)">
<text x="0.0" y="0.0" font-size="29.5" text-anchor="start" textLength="63.8" lengthAdjust="spacingAndGlyphs" >JC-10</text>
<text x="70.9" y="0.0" font-size="29.5" text-anchor="start" textLength="110.6" lengthAdjust="spacingAndGlyphs" >monomer</text>
<text x="188.7" y="0.0" font-size="29.5" text-anchor="start" textLength="102.8" lengthAdjust="spacingAndGlyphs" >form(red)</text>
</g>
<text x="525.4" y="1243.8" font-size="24" text-anchor="middle" >0</text>
<text x="546.8" y="1243.8" font-size="24" text-anchor="start" >10</text>
<text x="570.8" y="1233.0" font-size="12" text-anchor="start" >5</text>
</g>
</svg></body></html>
